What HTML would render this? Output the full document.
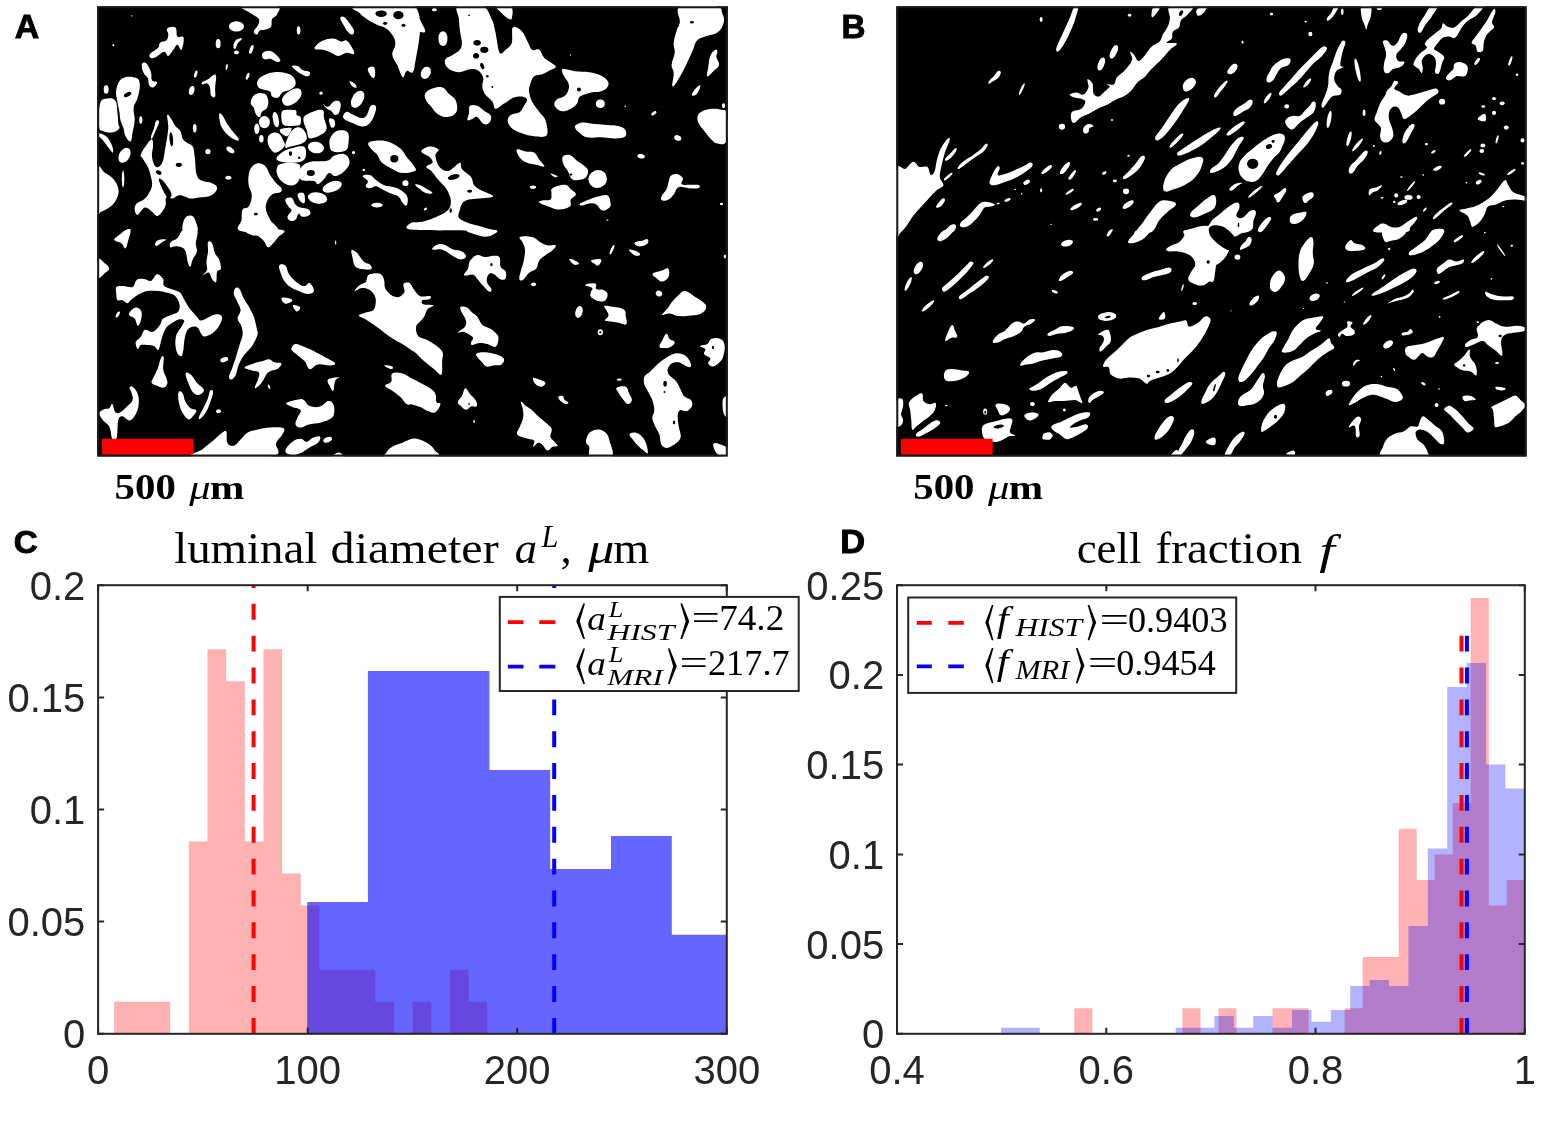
<!DOCTYPE html>
<html lang="en"><head><meta charset="utf-8"><title>Figure</title>
<style>html,body{margin:0;padding:0;background:#fff}body{width:1547px;height:1123px;overflow:hidden}</style></head>
<body>
<svg width="1547" height="1123" viewBox="0 0 1547 1123" style="display:block">
<rect width="1547" height="1123" fill="#fff"/>
<clipPath id="ca"><rect x="97.2" y="6.3" width="630.6" height="450.2"/></clipPath>
<rect x="97.2" y="6.3" width="630.6" height="450.2" fill="#000"/>
<g clip-path="url(#ca)">
<g fill="#fff"><path d="M167.3 28.4C168.7 27 173.4 25.8 175.4 27.4C177.4 29 175.8 34.5 177.4 36.5C179.1 38.6 182.7 34.9 183.5 37.6C184.4 40.2 182.7 48.4 181.5 49.8C180.3 51.2 179.1 44.7 177.4 44.7C175.8 44.7 175.2 47.5 173.4 49.8C171.5 52 170.1 55.5 168.3 55.9C166.4 56.3 166.6 51.6 164.2 51.8C161.8 52 158.7 55.7 156.1 56.9C153.4 58.1 152.2 58.5 151 57.9C149.7 57.3 148.5 55.9 149.9 53.9C151.4 51.8 156.1 50 158.1 47.7C160.1 45.5 158.5 44.1 160.1 42.7C161.8 41.2 164.6 42.2 166.2 40.6C167.9 39 168.1 37 168.3 34.5C168.5 32.1 165.8 29.8 167.3 28.4Z"/><path d="M142.8 63C143.8 62.4 145.3 62.2 146.9 64C148.5 65.9 149.9 68.9 151 72.2C152 75.4 150.8 78.3 152 80.3C153.2 82.4 156.9 80.9 157.1 82.4C157.3 83.8 154.6 87 153 87.4C151.4 87.9 149.9 86.2 148.9 84.4C147.9 82.6 148.9 80.5 147.9 78.3C146.9 76 145.1 75.4 143.8 73.2C142.6 71 142 69.1 141.8 67.1C141.6 65.1 141.8 63.6 142.8 63Z"/><path d="M122.5 78.3C126.3 75.9 132.2 76.5 135.7 77.7C139.2 78.9 139.4 80.4 139.8 84.4C140.2 88.4 138.9 92.9 137.7 97.6C136.5 102.3 134.3 103.3 133.7 107.8C133 112.3 134.9 115.1 134.7 120C134.5 124.9 133.4 128 132.6 132.2C131.8 136.5 132 140.6 130.6 141.4C129.2 142.2 126.9 139 125.5 136.3C124.1 133.7 124.5 131.4 123.5 128.2C122.5 124.9 121.2 123.3 120.4 120C119.6 116.8 120 115.5 119.4 111.9C118.8 108.2 118 106.2 117.4 101.7C116.8 97.2 115.3 94.2 116.3 89.5C117.4 84.8 118.6 80.6 122.5 78.3Z"/><path d="M100.1 103.7C101.7 98.2 104.1 99.3 107.2 98.6C110.2 98 113.3 98 115.3 100.7C117.4 103.3 116.8 107.2 117.4 111.9C118 116.6 118 120.8 118.4 124.1C118.8 127.4 120.4 126.5 119.4 128.2C118.4 129.8 116.5 131.6 113.3 132.2C110 132.9 106 132.5 103.1 131.2C100.3 130 99.6 131.6 99 126.1C98.4 120.6 98.4 109.2 100.1 103.7Z"/><path d="M103.7 89.5A2.4 4.1 0 1 0 108.6 89.5A2.4 4.1 0 1 0 103.7 89.5Z"/><path d="M97 168.9C98.6 161.2 101.9 170.9 105.1 173C108.4 175 110.6 175.8 113.3 179.1C115.9 182.3 117.8 185.2 118.4 189.3C119 193.3 118.2 195.8 116.3 199.4C114.5 203.1 112.3 205.1 109.2 207.6C106.2 210 103.5 210.8 101.1 211.7C98.6 212.5 97.8 220.2 97 211.7C96.2 203.1 95.4 176.6 97 168.9Z"/><path d="M99 133.3C100.7 133.5 104.5 134.7 107.2 137.3C109.8 140 111.1 143.4 112.3 146.5C113.4 149.6 113.5 152.2 112.9 152.6C112.3 153 111.2 151 109.2 148.5C107.3 146.1 105.1 142.8 103.1 140.4C101.1 137.9 99.9 137.7 99 136.3C98.2 134.9 97.4 133.1 99 133.3Z"/><path d="M119.9 152.6A5.3 8.1 30 1 0 129.1 157.9A5.3 8.1 30 1 0 119.9 152.6Z"/><path d="M167.3 114.9C167.9 113.5 169.7 116.8 171.3 119C173 121.3 173.6 123.7 175.4 126.1C177.2 128.6 179.1 128.8 180.5 131.2C181.9 133.7 181.3 136.1 182.5 138.4C183.7 140.6 184.6 140.8 186.6 142.4C188.6 144.1 191.1 143.7 192.7 146.5C194.3 149.4 193.9 151 194.7 156.7C195.6 162.4 195.1 170.1 196.8 175C198.4 179.9 199.8 179.5 202.9 181.1C205.9 182.7 209.2 181.7 212 183.2C214.9 184.6 217.3 185.8 217.1 188.2C216.9 190.7 214.7 193.5 211 195.4C207.4 197.2 202.9 196.8 198.8 197.4C194.7 198 193.5 198.6 190.7 198.4C187.8 198.2 187 197 184.6 196.4C182.1 195.8 180.9 195 178.4 195.4C176 195.8 174.8 198 172.3 198.4C169.9 198.8 167.7 195.8 166.2 197.4C164.8 199 166.8 202.9 165.2 206.6C163.6 210.2 160.7 214.7 158.1 215.7C155.4 216.8 154.6 213.3 152 211.7C149.3 210 147.7 207 144.9 207.6C142 208.2 139.8 214.3 137.7 214.7C135.7 215.1 134.9 211.9 134.7 209.6C134.5 207.4 134.9 205.6 136.7 203.5C138.5 201.5 141.4 201.5 143.8 199.4C146.3 197.4 147.3 196.2 148.9 193.3C150.6 190.5 151.6 188.4 152 185.2C152.4 181.9 151.8 180.7 151 177C150.1 173.4 149.5 170.5 147.9 166.9C146.3 163.2 144.2 161.2 142.8 158.7C141.4 156.3 140 157.5 140.8 154.6C141.6 151.8 144.6 147.5 146.9 144.5C149.1 141.4 150.8 139 152 139.4C153.2 139.8 153 143 153 146.5C153 150 151.4 152.6 152 156.7C152.6 160.8 154 165.6 156.1 166.9C158.1 168.1 160.3 166.5 162.2 162.8C164 159.1 164.2 153.8 165.2 148.5C166.2 143.2 166.6 140.8 167.3 136.3C167.9 131.8 168.3 130.4 168.3 126.1C168.3 121.9 166.6 116.4 167.3 114.9Z"/><path d="M156.1 121C157.1 119.8 159.3 119.8 159.1 122.1C158.9 124.3 156.5 129 155 132.2C153.6 135.5 152.8 137.5 152 138.4C151.2 139.2 150.6 138.4 151 136.3C151.4 134.3 153 131.2 154 128.2C155 125.1 155 122.3 156.1 121Z"/><path d="M201.9 82.4C202.9 81.3 205.7 80.7 208 79.3C210.2 77.9 211.4 75.8 213.1 75.2C214.7 74.6 215.7 73.8 216.1 76.3C216.5 78.7 215.3 83.4 215.1 87.4C214.9 91.5 215.9 95 215.1 96.6C214.3 98.2 212 97.4 211 95.6C210 93.8 210.8 89.9 210 87.4C209.2 85 208.4 84 207 83.4C205.5 82.8 203.9 84.6 202.9 84.4C201.9 84.2 200.8 83.4 201.9 82.4Z"/><path d="M189.1 89.8A2.6 4.5 15 1 0 194.2 91.2A2.6 4.5 15 1 0 189.1 89.8Z"/><path d="M194.4 73.8A1.4 3.7 15 1 0 197.1 74.6A1.4 3.7 15 1 0 194.4 73.8Z"/><path d="M215.7 43.7A2.4 4.5 0 1 0 220.6 43.7A2.4 4.5 0 1 0 215.7 43.7Z"/><path d="M139.2 120A1.6 3.7 0 1 0 142.4 120A1.6 3.7 0 1 0 139.2 120Z"/><path d="M192.9 128.2A1.8 4.1 0 1 0 196.6 128.2A1.8 4.1 0 1 0 192.9 128.2Z"/><path d="M205.3 151.6A2.6 2.6 0 1 0 210.6 151.6A2.6 2.6 0 1 0 205.3 151.6Z"/><path d="M226.7 147.4A4.5 2.2 35 1 0 234 152.5A4.5 2.2 35 1 0 226.7 147.4Z"/><path d="M225.3 177.7A3.1 1.6 0 1 0 231.4 177.7A3.1 1.6 0 1 0 225.3 177.7Z"/><path d="M228.9 26.4A7.5 5.1 0 1 0 244 26.4A7.5 5.1 0 1 0 228.9 26.4Z"/><path d="M242.6 6C248.1 4.8 269.3 4.4 276.2 6C283.1 7.6 278 11.5 277.2 14.1C276.4 16.8 273.3 16.8 272.1 19.2C270.9 21.7 272.3 24.3 271.1 26.4C269.9 28.4 268.2 28.6 266 29.4C263.8 30.2 261.7 29.4 259.9 30.4C258.1 31.5 258.1 34.3 256.8 34.5C255.6 34.7 253.6 33.3 253.8 31.5C254 29.6 256.8 27.8 257.9 25.3C258.9 22.9 259.7 21.3 258.9 19.2C258.1 17.2 255.8 16.6 253.8 15.2C251.8 13.7 250.9 13.9 248.7 12.1C246.5 10.3 237.1 7.2 242.6 6Z"/><path d="M233.4 46.7C233.4 45.1 234 42.3 235.5 40.6C236.9 38.9 239.3 38.4 240.6 38.2C241.8 38 242.2 38.5 241.6 39.6C241 40.7 238.7 41.8 237.5 43.7C236.3 45.5 236.3 48.2 235.5 48.8C234.7 49.4 233.4 48.4 233.4 46.7Z"/><path d="M234 52.4A2.4 1.8 0 1 0 238.9 52.4A2.4 1.8 0 1 0 234 52.4Z"/><path d="M249.8 48.8A1.6 4.5 20 1 0 252.9 49.9A1.6 4.5 20 1 0 249.8 48.8Z"/><path d="M263 52.8C264.3 51.6 266.6 50.6 269.1 50.8C271.5 51 272.9 52 275.2 53.9C277.4 55.7 279.9 58.3 280.3 60C280.7 61.6 279 62.2 277.2 62C275.4 61.8 273.5 59.5 271.1 58.9C268.7 58.4 266.7 59.8 265 59.3C263.2 58.9 262.8 58.2 262.3 56.9C261.9 55.6 261.6 54.1 263 52.8Z"/><path d="M356.6 6C367.6 4.6 403 -6 414.7 6C426.3 18 416.3 53 414.7 66.1C413 79.1 408.7 68.9 406.5 71.2C404.3 73.4 404.7 76.9 403.5 77.3C402.2 77.7 401.6 75.6 400.4 73.2C399.2 70.8 399 68.7 397.3 65.1C395.7 61.4 392.7 58.9 392.3 54.9C391.8 50.8 395.1 48.4 395.3 44.7C395.5 41 395.1 39.8 393.3 36.5C391.4 33.3 389.6 30.8 386.1 28.4C382.7 26 380 26.4 376 24.3C371.9 22.3 369 20.5 365.8 18.2C362.5 16 361.5 15.6 359.7 13.1C357.8 10.7 345.6 7.4 356.6 6Z"/><path d="M340.3 18.2C340.3 16.4 342.6 16.2 344.4 17.2C346.2 18.2 347.6 20.7 349.5 23.3C351.4 26 353.4 28.2 354 30.4C354.6 32.7 353.6 34.1 352.5 34.5C351.4 34.9 350.1 34.1 348.5 32.5C346.8 30.8 346 29.2 344.4 26.4C342.8 23.5 340.3 20.1 340.3 18.2Z"/><path d="M296.8 30.4A1.8 4.1 0 1 0 300.4 30.4A1.8 4.1 0 1 0 296.8 30.4Z"/><path d="M315.9 45.7C317.4 44 319.6 42 323 40.6C326.5 39.2 329.5 38.4 333.2 38.6C336.9 38.8 338.7 41.2 341.3 41.6C344 42 344.4 39.6 346.4 40.6C348.5 41.6 350 44.1 351.5 46.7C353 49.4 355 52.6 354 53.9C353 55.1 349.6 52.4 346.4 52.8C343.3 53.2 341.3 55.9 338.3 55.9C335.2 55.9 334.2 54.1 331.2 52.8C328.1 51.6 326.2 50.5 323 49.8C319.8 49 316.7 50 315.3 49.2C313.9 48.4 314.3 47.4 315.9 45.7Z"/><path d="M292.1 66.1C292.5 65.3 295.5 65.3 297.6 66.1C299.7 66.9 300.2 68.9 302.7 70.1C305.1 71.4 308.8 71 309.8 72.2C310.8 73.4 309.4 75.8 307.8 76.3C306.1 76.7 304.1 75.4 301.6 74.2C299.2 73 297.4 71.8 295.5 70.1C293.6 68.5 291.7 66.9 292.1 66.1Z"/><path d="M367.8 69.1C368.2 67.1 372.5 65.7 373.9 67.1C375.4 68.5 375.4 74.2 374.9 76.3C374.5 78.3 373.3 78.7 371.9 77.3C370.5 75.8 367.4 71.2 367.8 69.1Z"/><path d="M349.5 81.3C349.9 80.7 353.2 82.2 354.6 83.4C356 84.6 357 86.8 356.6 87.4C356.2 88.1 354 87.7 352.5 86.4C351.1 85.2 349.1 82 349.5 81.3Z"/><path d="M352.9 96.5A5.5 8.8 30 1 0 362.4 102A5.5 8.8 30 1 0 352.9 96.5Z"/><path d="M370.9 105.8C372.7 104.1 375.4 104.8 376 106.8C376.6 108.8 375.4 112.5 373.9 116C372.5 119.4 371.3 122 368.8 124.1C366.4 126.2 365 126.7 361.7 126.5C358.5 126.3 356.2 124.8 352.5 123.1C348.9 121.4 344.6 120.2 343.4 118C342.2 115.8 344.4 112.5 346.4 111.9C348.5 111.3 350.5 113.7 353.6 114.9C356.6 116.2 359.1 118 361.7 118C364.4 118 365 117.4 366.8 114.9C368.6 112.5 369 107.4 370.9 105.8Z"/><path d="M323 103.7C323.2 103.3 325.9 107.3 328.1 106.8C330.4 106.3 331.8 102.1 334.2 101.3C336.7 100.5 339.3 100.6 340.3 102.7C341.3 104.8 340.3 109.4 339.3 111.9C338.3 114.3 336.9 115.1 335.2 114.9C333.6 114.7 332.8 112.1 331.2 110.9C329.5 109.6 328.7 110.3 327.1 108.8C325.5 107.4 322.8 104.1 323 103.7Z"/><path d="M329.1 119C329.7 117.6 333.1 118.6 334.2 120C335.4 121.5 335.4 124.7 334.8 126.1C334.2 127.6 332.3 128.6 331.2 127.2C330 125.7 328.5 120.4 329.1 119Z"/><path d="M257.9 80.3C259.1 78.1 260.7 76.9 264 75.2C267.2 73.6 269.7 72.6 274.2 72.2C278.6 71.8 282.5 72.2 286.4 73.2C290.2 74.2 291.7 75 293.5 77.3C295.3 79.5 296.1 82 295.5 84.4C294.9 86.8 293.1 87.9 290.4 89.5C287.8 91.1 284.7 90.9 282.3 92.5C279.9 94.2 280.3 96.8 278.2 97.6C276.2 98.4 273.7 97.8 272.1 96.6C270.5 95.4 271.9 92.9 270.1 91.5C268.2 90.1 265.4 90.5 263 89.5C260.5 88.5 258.9 88.3 257.9 86.4C256.8 84.6 256.6 82.6 257.9 80.3Z"/><path d="M283.3 96.6C284.9 94.2 287.4 92.1 290.4 90.5C293.5 88.9 296.3 87.9 298.6 88.5C300.8 89.1 301.8 91.1 301.6 93.6C301.4 96 300.2 98.2 297.6 100.7C294.9 103.1 291.4 105.4 288.4 105.8C285.4 106.2 283.7 104.6 282.7 102.7C281.7 100.9 281.8 99.1 283.3 96.6Z"/><path d="M254.8 94.6C257.5 92.7 261.3 92.5 264 93.6C266.6 94.6 267.4 96.8 268 99.7C268.7 102.5 268.2 105.4 267 107.8C265.8 110.3 263.4 110.1 261.9 111.9C260.5 113.7 261.1 116.6 259.9 117C258.7 117.4 257 115.8 255.8 113.9C254.6 112.1 254.8 110.1 253.8 107.8C252.8 105.6 250.5 105.4 250.7 102.7C250.9 100.1 252.2 96.4 254.8 94.6Z"/><path d="M258.9 122.1A5.5 6.1 0 1 0 269.9 122.1A5.5 6.1 0 1 0 258.9 122.1Z"/><path d="M273 120.1A2.9 6.5 -10 1 0 278.6 119.1A2.9 6.5 -10 1 0 273 120.1Z"/><path d="M254.2 128.8A2.6 5.1 0 1 0 259.5 128.8A2.6 5.1 0 1 0 254.2 128.8Z"/><path d="M282.3 110.9C284.1 109.3 293.6 109.7 295.5 110.3C297.4 110.8 295.9 114 296.6 114.9C297.2 115.8 300.2 115.6 300.6 117C301 118.3 301.6 124 299.6 125.1C297.6 126.3 287.7 126.1 285.4 125.7C283 125.3 282.3 124 281.9 122.1C281.5 120.1 280.5 112.4 282.3 110.9Z"/><path d="M304.7 116C306.6 114.1 311.8 111.8 314.9 110.9C317.9 109.9 321.5 109.1 323 110.3C324.6 111.4 323.4 115 324 118C324.7 121 327 125.5 326.7 128.2C326.3 130.9 324.8 132.6 322 134.3C319.2 136 312.3 139 309.8 138.4C307.2 137.7 307.8 132.9 306.7 130.2C305.7 127.5 304 124.4 303.7 122.1C303.3 119.7 302.8 117.8 304.7 116Z"/><path d="M280.3 129.2C281.6 128.5 290.5 127.2 291.5 128.2C292.4 129.1 288.7 135.6 287.4 136.3C286 137 282.2 134.2 281.3 133.3C280.3 132.3 278.9 129.9 280.3 129.2Z"/><path d="M293.5 129.2C296.3 127.2 299 126.7 301.6 128.2C304.3 129.6 306.3 133.5 306.7 136.3C307.1 139.2 306.9 140.4 303.7 142.4C300.4 144.5 294.1 145.5 290.4 146.5C286.8 147.5 286 149.1 285.4 147.5C284.7 145.9 285.8 142 287.4 138.4C289 134.7 290.6 131.2 293.5 129.2Z"/><path d="M270.1 134.3C272.2 132.7 275.6 132 278.2 133.3C280.9 134.5 282.1 137.7 283.3 140.4C284.5 143 285.8 144.1 284.3 146.5C282.9 148.9 278.8 152 276.2 152.6C273.5 153.2 272.8 151.8 271.1 149.6C269.4 147.3 267.8 144.5 267.6 141.4C267.4 138.4 268 135.9 270.1 134.3Z"/><path d="M259.1 138.8A2.2 3.7 0 1 0 263.6 138.8A2.2 3.7 0 1 0 259.1 138.8Z"/><path d="M307.9 146.1A8.1 5.7 10 1 0 323.9 148.9A8.1 5.7 10 1 0 307.9 146.1Z"/><path d="M331.2 136.3C332.9 133.6 335 131.4 338.3 130.6C341.6 129.8 345.4 129.9 347.5 132.2C349.5 134.6 348.9 138.8 348.5 142.4C348.1 146.1 348.5 148.7 345.4 150.6C342.4 152.4 336.4 152.8 333.2 151.6C330 150.4 329.9 147.5 329.5 144.5C329.1 141.4 329.4 139.1 331.2 136.3Z"/><path d="M277.2 156.7C278.7 154.8 283 151.3 287.4 149.6C291.8 147.9 300.6 145.3 303.7 146.5C306.7 147.7 306.2 154.1 305.7 156.7C305.2 159.2 303.5 160.8 300.6 161.8C297.7 162.8 292.1 163 288.4 162.8C284.7 162.6 280.1 161.8 278.2 160.8C276.4 159.7 275.7 158.5 277.2 156.7Z"/><path d="M277.2 166.9C278.5 164.3 280.3 163.8 284.3 163.2C288.4 162.6 294.3 162.7 297.6 163.8C300.8 164.9 300.2 165.8 300.6 168.9C301 172 301 175.8 299.6 179.1C298.2 182.3 296.6 184.4 293.5 185.2C290.4 186 287.5 185 284.3 183.2C281.2 181.3 279.2 179.3 277.8 176C276.4 172.8 275.9 169.4 277.2 166.9Z"/><path d="M301.6 166.9C303.8 164.6 305.7 163 310.8 161.8C315.9 160.6 322.4 162 327.1 160.8C331.8 159.5 330.8 157 334.2 155.7C337.7 154.4 341.3 153.2 344.4 154.2C347.5 155.3 349.1 157.8 349.5 160.8C349.9 163.7 349.1 165.8 346.4 168.9C343.8 172 339.7 175.2 336.3 176C332.8 176.8 331.6 172.4 329.1 173C326.7 173.6 326.3 176.8 324 179.1C321.8 181.3 320 183.8 317.9 184.2C315.9 184.6 317.1 181.9 313.9 181.1C310.6 180.3 304.4 181.7 301.6 180.1C298.9 178.5 300.2 175.6 300.2 173C300.2 170.3 299.5 169.1 301.6 166.9Z"/><path d="M322.6 190.3A10.2 5.1 -20 1 0 341.8 183.3A10.2 5.1 -20 1 0 322.6 190.3Z"/><path d="M307.9 196.3A9.8 5.5 10 1 0 327.2 199.7A9.8 5.5 10 1 0 307.9 196.3Z"/><path d="M297.6 194.4C298.2 192.7 302.3 191.7 303.7 193.3C305.1 195 305.3 200.9 304.7 202.5C304.1 204.1 302 203.1 300.6 201.5C299.2 199.9 297 196 297.6 194.4Z"/><path d="M285.4 199.4C286 197.7 289.4 196.8 291.5 197.8C293.5 198.8 293.7 202.6 295.5 204.5C297.4 206.5 298 206.6 300.6 207.6C303.3 208.6 306.9 208.2 308.8 209.6C310.6 211 311 213.3 309.8 214.7C308.6 216.1 304.9 217 302.7 216.8C300.4 216.5 300 213.1 298.6 213.7C297.2 214.3 297.2 218.4 295.5 219.8C293.9 221.2 292.1 221.4 290.4 220.8C288.8 220.2 287.2 218.8 287.4 216.8C287.6 214.7 291.3 212.7 291.5 210.6C291.7 208.6 289.6 208.8 288.4 206.6C287.2 204.3 284.7 201.2 285.4 199.4Z"/><path d="M251.8 166.9C253.8 164.5 256 163.2 258.9 163.2C261.7 163.2 263.8 164.5 266 166.9C268.2 169.2 268 171.8 270.1 175C272.1 178.3 273.9 180.5 276.2 183.2C278.4 185.8 280.5 186.4 281.3 188.2C282.1 190.1 282.1 191.1 280.3 192.3C278.4 193.5 274.8 192.5 272.1 194.4C269.5 196.2 268.2 198.4 267 201.5C265.8 204.5 265.4 206 266 209.6C266.6 213.3 268 215.5 270.1 219.8C272.1 224.1 282.1 228.8 276.2 231C270.3 233.2 247.5 233.2 240.6 231C233.6 228.8 241.2 224.1 241.6 219.8C242 215.5 241.2 212.3 242.6 209.6C244 207 246.9 209.4 248.7 206.6C250.5 203.7 251.8 199.6 251.8 195.4C251.8 191.1 249.3 189.3 248.7 185.2C248.1 181.1 248.1 178.7 248.7 175C249.3 171.3 249.7 169.2 251.8 166.9Z"/><path d="M219.2 113.9C219.7 112.7 220.6 112.9 222.2 114.9C223.9 117 225.1 120.6 227.3 124.1C229.6 127.6 231.2 129.4 233.4 132.2C235.7 135.1 237.8 136.7 238.5 138.4C239.3 140 238.9 140.8 237.1 140.4C235.3 140 232.3 138.8 229.4 136.3C226.4 133.9 224.1 131.2 222.2 128.2C220.3 125.1 220.4 123.9 219.8 121C219.2 118.2 218.7 115.1 219.2 113.9Z"/><path d="M368.8 142.4C370.7 140.8 375.8 140.4 380 140.4C384.3 140.4 386.1 140.8 390.2 142.4C394.3 144.1 397.1 145.7 400.4 148.5C403.7 151.4 403.7 153 406.5 156.7C409.4 160.3 413 164 414.7 166.9C416.3 169.7 417.1 169.7 414.7 170.9C412.2 172.2 406.9 173.4 402.4 173C398 172.6 396.3 170.9 392.3 168.9C388.2 166.9 385.1 165.6 382.1 162.8C379 159.9 379.2 157.5 377 154.6C374.7 151.8 372.5 151 370.9 148.5C369.2 146.1 367 144.1 368.8 142.4Z"/><path d="M362.7 176C363.1 174.8 367.2 174.2 369.9 175C372.5 175.8 373.1 178.1 376 180.1C378.8 182.1 380.4 183.8 384.1 185.2C387.8 186.6 390.6 186 394.3 187.2C398 188.4 399.8 189.3 402.4 191.3C405.1 193.3 406.7 194.6 407.5 197.4C408.3 200.3 407.5 204.5 406.5 205.6C405.5 206.6 404.1 204.3 402.4 202.5C400.8 200.7 400.8 198.2 398.4 196.4C395.9 194.6 393.5 194.8 390.2 193.3C387 191.9 384.9 190.7 382.1 189.3C379.2 187.8 378.4 186.4 376 186.2C373.5 186 371.9 188.2 369.9 188.2C367.8 188.2 366.2 187.6 365.8 186.2C365.4 184.8 368.4 183.2 367.8 181.1C367.2 179.1 362.3 177.2 362.7 176Z"/><path d="M371.3 205.1A5.7 2.4 0 1 0 382.7 205.1A5.7 2.4 0 1 0 371.3 205.1Z"/><path d="M184.6 218.8C186.2 215.5 189.4 215.1 191.7 215.7C193.9 216.3 194.7 218.6 195.8 221.8C196.8 225.1 199.2 230 196.8 232C194.3 234.1 186 234.7 183.5 232C181.1 229.4 182.9 222 184.6 218.8Z"/><path d="M351.9 152.6A1.6 1.6 0 1 0 355.2 152.6A1.6 1.6 0 1 0 351.9 152.6Z"/><path d="M319.4 93.2A1.6 1.6 0 1 0 322.6 93.2A1.6 1.6 0 1 0 319.4 93.2Z"/><path d="M121.8 179.1A1.2 8.1 0 1 0 124.3 179.1A1.2 8.1 0 1 0 121.8 179.1Z"/><path d="M362.5 169.9A1.2 1.2 0 1 0 365 169.9A1.2 1.2 0 1 0 362.5 169.9Z"/><path d="M112.3 45.3A1 1 0 1 0 114.3 45.3A1 1 0 1 0 112.3 45.3Z"/><path d="M402.4 183.2A3.1 2.4 0 1 0 408.5 183.2A3.1 2.4 0 1 0 402.4 183.2Z"/><path d="M246.3 75.8A1.4 3.7 20 1 0 249 76.7A1.4 3.7 20 1 0 246.3 75.8Z"/><path d="M225.7 66.9A1 3.1 10 1 0 227.7 67.3A1 3.1 10 1 0 225.7 66.9Z"/><path d="M130.8 15.8A0.8 0.6 0 1 0 132.4 15.8A0.8 0.6 0 1 0 130.8 15.8Z"/><path d="M411 13.1C412.4 10.7 415.9 15 418.1 17.2C420.3 19.4 420.8 21.5 422.2 24.3C423.6 27.2 425.6 29.9 425.2 31.5C424.8 33 423 32.5 420.1 32.1C417.3 31.7 412.8 33.2 411 29.4C409.1 25.6 409.6 15.6 411 13.1Z"/><path d="M432 9.7A2.4 1.6 0 1 0 436.8 9.7A2.4 1.6 0 1 0 432 9.7Z"/><path d="M438.5 38.6A4.5 6.5 0 1 0 447.4 38.6A4.5 6.5 0 1 0 438.5 38.6Z"/><path d="M457.8 6C461.7 4 476.7 4 482.3 6C487.9 8 489.2 13.8 491.4 18.2C493.6 22.6 494.1 26.7 495.5 32.5C496.8 38.2 497.9 49.9 499.6 52.8C501.3 55.7 503.6 51.5 505.7 49.8C507.7 48.1 510.6 46.4 511.8 42.7C513 38.9 511.1 29.2 512.8 27.4C514.5 25.5 519.4 28.9 522 31.5C524.5 34 526.4 39.6 528.1 42.7C529.8 45.7 530.3 48.6 532.1 49.8C534 51 537.2 48.4 539.3 49.8C541.3 51.1 541.6 55.2 544.4 57.9C547.1 60.6 554.5 64 555.6 66.1C556.6 68.1 552.7 68.8 550.5 70.1C548.3 71.5 545 73.2 542.3 74.2C539.6 75.2 536.2 74.6 534.2 76.3C532.1 77.9 531 81.9 530.1 84.4C529.3 86.9 528.7 88.6 529.1 91.5C529.4 94.4 530.4 98.3 532.1 101.7C533.8 105.1 537.1 108.8 539.3 111.9C541.5 114.9 544.1 116.1 545.4 120C546.6 123.9 548.7 132.6 546.8 135.3C544.9 138 538.3 136.7 534.2 136.3C530 136 525.7 134.6 522 133.3C518.2 131.9 514.2 130.2 511.8 128.2C509.4 126.1 507.9 123.3 507.7 121C507.5 118.8 508.7 116.5 510.8 114.9C512.8 113.4 517.7 113.4 519.9 111.9C522.1 110.4 522.8 107.8 524 105.8C525.2 103.7 527.4 101.2 527 99.7C526.7 98.1 524.2 97 522 96.6C519.8 96.3 516.9 96.4 513.8 97.6C510.8 98.8 506.7 101.9 503.6 103.7C500.6 105.6 497.4 109.2 495.5 108.8C493.6 108.5 494.1 104.1 492.4 101.7C490.7 99.3 487 97.1 485.3 94.6C483.6 92 482.6 89.1 482.3 86.4C481.9 83.7 483.8 80.8 483.3 78.3C482.8 75.7 481.2 72.7 479.2 71.2C477.2 69.6 474.3 69 471.1 69.1C467.8 69.3 463.2 72 459.9 72.2C456.5 72.3 453.1 71.3 450.7 70.1C448.3 69 446.4 66.9 445.6 65.1C444.7 63.2 444.4 60.6 445.6 58.9C446.8 57.2 450.3 56.4 452.7 54.9C455.1 53.3 458.3 51.8 459.9 49.8C461.4 47.7 461.9 45.9 461.9 42.7C461.9 39.4 460.4 34.5 459.9 30.4C459.3 26.4 459.2 22.3 458.8 18.2C458.5 14.1 453.9 8 457.8 6Z"/><path d="M496.5 6C498.3 4.6 507.7 3.6 510.8 6C513.8 8.4 512.4 15.8 511.8 18.2C511.2 20.7 509.7 19.2 507.7 18.2C505.7 17.2 503.8 15.6 501.6 13.1C499.4 10.7 494.7 7.4 496.5 6Z"/><path d="M421.6 70.8A4.7 6.1 25 1 0 430.1 74.8A4.7 6.1 25 1 0 421.6 70.8Z"/><path d="M425.2 93.6C426.5 91.1 428.9 89.7 432.4 88.5C435.8 87.2 439.3 86.4 442.5 87.4C445.8 88.5 446 90.9 448.7 93.6C451.3 96.2 454.2 97 455.8 100.7C457.3 104.4 458 108.6 456.4 111.9C454.8 115.1 451.4 116.6 447.6 117C443.8 117.4 440.7 116 437.5 113.9C434.2 111.9 433.6 109.4 431.3 106.8C429.1 104.1 427.5 103.3 426.3 100.7C425 98 424 96 425.2 93.6Z"/><path d="M470 105.8C471.7 104.4 474.3 104.8 477.2 105.8C480 106.8 481.5 108.8 484.3 110.9C487.1 112.9 490.1 113.5 491 116C491.9 118.4 490.5 121.5 489 123.1C487.4 124.6 485.6 124.9 483.3 123.7C480.9 122.5 479.4 117.9 477.2 117C474.9 116 474 118.4 472.1 119C470.1 119.6 468 121.3 467.4 120C466.8 118.8 468.5 115.8 469 112.9C469.5 110.1 468.4 107.2 470 105.8Z"/><path d="M563.7 69.1C566.2 68.9 569.8 70.5 574.9 71.2C580 71.8 584.1 71.4 589.2 72.2C594.2 73 596.6 73.4 600.4 75.2C604.1 77.1 606.5 78.9 607.9 81.3C609.2 83.8 608.6 85.4 607.1 87.4C605.6 89.5 603.5 90.5 600.4 91.5C597.2 92.5 595.3 91.5 591.2 92.5C587.1 93.6 582.8 94.4 580 96.6C577.1 98.9 579.2 101.1 576.9 103.7C574.7 106.4 572 108.4 568.8 109.8C565.5 111.3 563.5 111.7 560.6 110.9C557.8 110.1 555.4 108 554.5 105.8C553.7 103.5 554.7 101.5 556.6 99.7C558.4 97.8 561.5 98.2 563.7 96.6C565.9 95 566.8 94 567.8 91.5C568.8 89.1 569.4 87.2 568.8 84.4C568.2 81.5 566 79.7 564.7 77.3C563.4 74.8 562.5 73.8 562.3 72.2C562.1 70.5 561.2 69.3 563.7 69.1Z"/><path d="M595.9 103.7A4.5 3.7 0 1 0 604.8 103.7A4.5 3.7 0 1 0 595.9 103.7Z"/><path d="M575.9 125.1C577.5 124 579.2 122.7 583 122.5C586.9 122.3 590.4 123.6 595.3 124.1C600.1 124.6 603 124.7 607.5 125.1C612 125.5 614.2 125.3 617.7 126.1C621.1 127 623.2 127.2 624.8 129.2C626.3 131.2 627.2 134.5 625.4 136.3C623.6 138.2 620.4 138.2 615.6 138.4C610.8 138.6 607.1 137.5 601.4 137.3C595.7 137.1 591.6 138.4 587.1 137.3C582.6 136.3 581.3 134.1 579 132.2C576.6 130.4 575.9 129.6 575.3 128.2C574.7 126.7 574.4 126.3 575.9 125.1Z"/><path d="M680.8 6C687.9 2.7 707.1 4.4 715.4 6C723.7 7.6 720.9 10.7 722.5 14.1C724.2 17.6 724.6 19.6 723.5 23.3C722.5 27 721.1 29.8 717.4 32.5C713.8 35.1 709.3 34.9 705.2 36.5C701.1 38.2 699.5 38 697.1 40.6C694.6 43.3 694.8 45.7 693 49.8C691.2 53.9 690.4 55.9 687.9 61C685.5 66.1 683.8 70.1 680.8 75.2C677.7 80.3 674.1 86.8 672.6 86.4C671.2 86 673.9 77.5 673.7 73.2C673.5 68.9 671.4 69.1 671.6 65.1C671.8 61 674.3 57.3 674.7 52.8C675.1 48.4 673.3 47.1 673.7 42.7C674.1 38.2 675.5 34.5 676.7 30.4C677.9 26.4 679 27.2 679.8 22.3C680.6 17.4 673.7 9.3 680.8 6Z"/><path d="M715.4 49.8C716.8 49 717.2 50.4 717.4 51.8C717.6 53.2 716.1 54.3 716.4 56.9C716.7 59.6 719.7 62.2 719.1 65.1C718.5 67.9 715.7 68.9 713.4 71.2C711 73.4 708.3 77.1 707.3 76.3C706.2 75.4 707.7 71.2 708.3 67.1C708.9 63 708.9 59.3 710.3 55.9C711.7 52.4 714 50.6 715.4 49.8Z"/><path d="M699.1 85.4C700.3 84.8 700.7 85.6 700.1 87.4C699.5 89.3 697.7 93 696.1 94.6C694.4 96.1 692.4 96 692 95.2C691.6 94.4 692.6 92.5 694 90.5C695.4 88.5 697.9 86 699.1 85.4Z"/><path d="M701.1 111.9C703.9 110.3 707.3 109.2 711.3 108.8C715.4 108.4 718.5 108.8 721.5 109.8C724.6 110.9 725.6 107.8 726.6 113.9C727.6 120 728.4 134.5 726.6 140.4C724.8 146.3 720.5 143.7 717.4 143.4C714.4 143.2 713.8 141.6 711.3 139.4C708.9 137.1 707.7 135.3 705.2 132.2C702.8 129.2 700.7 127.2 699.1 124.1C697.6 121 697.1 119.4 697.5 117C697.9 114.5 698.4 113.5 701.1 111.9Z"/><path d="M674.3 136.7A3.7 2.4 20 1 0 681.2 139.2A3.7 2.4 20 1 0 674.3 136.7Z"/><path d="M637.5 155.6A3.7 2 10 1 0 644.7 156.9A3.7 2 10 1 0 637.5 155.6Z"/><path d="M651.6 114.9A2.9 1.2 -35 1 0 656.2 111.7A2.9 1.2 -35 1 0 651.6 114.9Z"/><path d="M624.4 106.2A0.8 0.8 0 1 0 626 106.2A0.8 0.8 0 1 0 624.4 106.2Z"/><path d="M569.8 54.9A0.6 0.6 0 1 0 571 54.9A0.6 0.6 0 1 0 569.8 54.9Z"/><path d="M719.9 203.9A1.6 1.2 0 1 0 723.1 203.9A1.6 1.2 0 1 0 719.9 203.9Z"/><path d="M606.5 220.2A1 0.6 0 1 0 608.5 220.2A1 0.6 0 1 0 606.5 220.2Z"/><path d="M721.9 105.8A1.6 2.4 0 1 0 725.2 105.8A1.6 2.4 0 1 0 721.9 105.8Z"/><path d="M670.6 176C672.2 174.4 674.3 173.6 676.7 174C679.2 174.4 681.8 176 682.8 178.1C683.8 180.1 680.2 182.8 681.8 184.2C683.4 185.5 687.5 184.6 691 184.8C694.4 185 697.7 184.5 699.1 185.2C700.5 185.9 700.1 187.6 698.1 188.2C696.1 188.9 692.8 188.4 688.9 188.2C685.1 188 681.8 186 678.7 187.2C675.7 188.4 675.7 191.9 673.7 194.4C671.6 196.8 670.8 198.2 668.6 199.4C666.3 200.7 663.9 201.1 662.5 200.5C661 199.9 660.6 198.6 661.4 196.4C662.3 194.1 665.1 192.1 666.5 189.3C668 186.4 667.8 184.8 668.6 182.1C669.4 179.5 669 177.7 670.6 176Z"/><path d="M516.9 149.6C518.1 148.3 522.6 151 526 151.6C529.5 152.2 531.5 151 534.2 152.6C536.8 154.2 537.2 157 539.3 159.7C541.3 162.5 545 165.4 544.4 166.5C543.7 167.5 539.7 165.6 536.2 164.8C532.7 164.1 530.3 164.2 527 162.8C523.8 161.4 522 160.3 519.9 157.7C517.9 155.1 515.6 150.8 516.9 149.6Z"/><path d="M562.7 156.7C563.9 154.7 567 154.2 569.8 155.1C572.7 155.9 574.1 158.6 576.9 160.8C579.8 162.9 581.8 163.8 584.1 165.8C586.3 167.9 587.9 168.5 588.1 170.9C588.3 173.4 587.1 176.2 585.1 178.1C583 179.9 580.6 179.9 578 180.1C575.3 180.3 573.9 180.9 571.8 179.1C569.8 177.2 569.4 173.8 567.8 170.9C566.1 168.1 564.7 167.7 563.7 164.8C562.7 162 561.5 158.6 562.7 156.7Z"/><path d="M589.1 182.2A9.2 8.1 -20 1 0 606.3 175.9A9.2 8.1 -20 1 0 589.1 182.2Z"/><path d="M550.5 173.4C551.1 173.2 556.8 175.3 557.6 176C558.4 176.8 556 177.6 554.5 177C553.1 176.5 549.9 173.6 550.5 173.4Z"/><path d="M529.9 187.2A3.1 1.4 0 1 0 536 187.2A3.1 1.4 0 1 0 529.9 187.2Z"/><path d="M552.5 188.2C555.1 186.5 561.1 184.6 564.7 184.8C568.4 185 568.6 187.3 570.8 189.3C573.1 191.2 575.9 192.3 575.9 194.4C575.9 196.4 572 197 570.8 199.4C569.6 201.9 572.3 204.5 569.8 206.6C567.4 208.6 562.9 209.6 558.6 209.6C554.3 209.6 552.3 208 548.4 206.6C544.6 205.1 540.5 203.7 539.3 202.5C538 201.3 540.1 201.1 542.3 200.5C544.6 199.9 548.6 200.9 550.5 199.4C552.3 198 551.1 195.6 551.5 193.3C551.9 191.1 549.9 190 552.5 188.2Z"/><path d="M580 203.5C581.4 202.3 585.5 200.9 589.2 199.4C592.8 198 594.7 197.2 598.3 196.4C602 195.6 605 194.1 607.5 195.4C609.9 196.6 610.1 200.1 610.5 202.5C610.9 204.9 611.1 206 609.5 207.6C607.9 209.2 605 211.3 602.4 210.6C599.7 210 598.9 206 596.3 204.5C593.6 203.1 592 203.3 589.2 203.5C586.3 203.7 583.9 205.6 582 205.6C580.2 205.6 578.6 204.7 580 203.5Z"/><path d="M421.2 151.6C421 149.7 426.4 146.8 429.3 146.5C432.2 146.2 437.5 148 438.5 149.6C439.5 151.1 435.2 152.8 435.4 155.7C435.6 158.5 437.3 164.3 439.5 166.9C441.7 169.4 445.3 171.6 448.7 170.9C452 170.3 457.6 163.1 459.9 162.8C462.1 162.5 460 166.5 461.9 168.9C463.8 171.3 469 174.3 471.1 177C473.1 179.8 472.4 183 474.1 185.2C475.8 187.4 478.2 188.6 481.2 190.3C484.3 192 490.9 194.2 492.4 195.4C494 196.6 492.6 196.9 490.4 197.4C488.2 197.9 482.8 198.1 479.2 198.4C475.6 198.8 471.7 198.8 469 199.4C466.3 200.1 464.4 200.8 462.9 202.5C461.4 204.2 460.5 207.1 459.9 209.6C459.2 212.2 457.5 215.6 458.8 217.8C460.2 220 464.6 221.5 468 222.9C471.4 224.2 475 224.6 479.2 225.9C483.4 227.3 495.8 230.3 493.4 231C491.1 231.8 478.7 230.6 464.9 230.4C451.2 230.2 420 230.8 411 229.6C402 228.3 409.1 224.1 411 222.9C412.8 221.6 418.3 222.7 422.2 221.8C426.1 221 430.7 219.3 434.4 217.8C438.1 216.2 442 214.4 444.6 212.7C447.1 211 448.7 209.8 449.7 207.6C450.7 205.4 451.2 202.5 450.7 199.4C450.2 196.4 448.7 192.5 446.6 189.3C444.6 186 441 183.2 438.5 180.1C435.9 177 433.4 173.1 431.3 170.9C429.3 168.7 426.1 168.2 426.3 166.9C426.4 165.5 431.7 164.3 432.4 162.8C433 161.3 432.2 159.6 430.3 157.7C428.5 155.8 421.3 153.5 421.2 151.6Z"/><path d="M415.1 184.8C415.1 184 417.7 184.3 420.1 185.2C422.6 186.1 424.8 187.7 427.3 189.3C429.7 190.8 432.6 192.1 432.4 192.9C432.2 193.7 428.7 194.1 426.3 193.3C423.8 192.6 422.4 191 420.1 189.3C417.9 187.6 415.1 185.6 415.1 184.8Z"/><path d="M423.9 209.9A1.8 1 -30 1 0 427 208.1A1.8 1 -30 1 0 423.9 209.9Z"/><path d="M114.3 239.1C115.1 237.7 118.2 235.9 120.4 234.1C122.7 232.2 123.5 230.8 125.5 230C127.5 229.2 130 228.1 130.6 230C131.2 231.8 129.6 235.5 128.6 239.1C127.5 242.8 126.9 247.5 125.5 248.3C124.1 249.1 123.3 244.6 121.4 243.2C119.6 241.8 117.8 242 116.3 241.2C114.9 240.4 113.5 240.6 114.3 239.1Z"/><path d="M155 244.2C155.2 243.1 155.8 241.1 158.1 240.2C160.3 239.2 165.4 239.1 166.2 239.6C167 240 164 241 162.2 242.2C160.3 243.4 158.5 245.3 157.1 245.7C155.6 246.1 154.8 245.3 155 244.2Z"/><path d="M183.5 230C187.4 228.4 194.3 227.3 196.8 230C199.2 232.6 195.8 238.9 195.8 243.2C195.8 247.5 197.4 248.1 196.8 251.4C196.2 254.6 194 256.5 192.7 259.5C191.4 262.6 191.3 266.2 190.3 266.6C189.2 267 188.5 264.6 187.6 261.5C186.7 258.5 186.8 254.2 185.6 251.4C184.4 248.5 183.5 248.3 181.5 247.3C179.5 246.3 177.6 246.3 175.4 246.3C173.2 246.3 171.2 248.1 170.3 247.3C169.4 246.5 169.3 244 170.7 242.2C172.1 240.4 174.9 240.6 177.4 238.1C180 235.7 179.7 231.6 183.5 230Z"/><path d="M208 242.2C208.8 240.6 210.6 241 212 243.2C213.5 245.5 213.7 250.1 215.1 253.4C216.5 256.7 218 256.5 219.2 259.5C220.3 262.6 221.2 266.2 220.8 268.7C220.4 271.1 218.1 269.1 217.1 271.7C216.2 274.4 217.1 280.5 216.1 281.9C215.1 283.3 213.5 280.7 212 278.9C210.6 277 210.7 273.6 209 272.7C207.2 271.9 203.7 275.4 203.3 274.8C202.9 274.2 206.3 272.3 207 269.7C207.6 267 206.3 265.2 206.5 261.5C206.8 257.9 207.7 255.2 208 251.4C208.3 247.5 207.2 243.8 208 242.2Z"/><path d="M246.7 230C252.8 229 276 228.6 282.3 230C288.6 231.4 280.1 234.5 278.2 237.1C276.4 239.8 275.2 241.2 273.1 243.2C271.1 245.3 269.9 247.7 268 247.3C266.2 246.9 266 243.4 264 241.2C261.9 238.9 260.3 237.3 257.9 236.1C255.4 234.9 254 236.3 251.8 235.1C249.5 233.9 240.6 231 246.7 230Z"/><path d="M98 259.5C99.4 256.7 102.9 261.7 105.1 263.6C107.4 265.4 109.2 266.8 109.2 268.7C109.2 270.5 107.4 271 105.1 272.7C102.9 274.5 99.4 280.1 98 277.4C96.6 274.8 96.6 262.3 98 259.5Z"/><path d="M116.3 287C117.5 285.6 120.8 286 123.5 286C126.2 286 130.4 288 132.6 287C134.8 286 134.8 281.2 136.7 279.9C138.6 278.5 141.5 278.7 143.8 278.9C146.2 279 148.8 281.7 151 280.9C153.2 280.1 155 274.5 157.1 274.2C159.1 273.8 162 276.9 163.2 278.9C164.4 280.8 162.3 284.1 164.2 286C166.1 287.8 171.7 288.9 174.4 290.1C177.1 291.2 178.8 291.4 180.5 293.1C182.2 294.8 183 297.7 184.6 300.2C186.1 302.8 187.6 305.7 189.6 308.4C191.7 311.1 194.9 314.5 196.8 316.5C198.6 318.6 199 320.4 200.8 320.6C202.7 320.8 205.6 318.6 208 317.5C210.4 316.5 212.9 314.8 215.1 314.5C217.3 314.1 220.1 314.5 221.2 315.5C222.3 316.5 222.3 318.4 221.6 320.6C220.9 322.8 219.1 326.4 217.1 328.7C215.2 331.1 212.4 333.7 210 334.8C207.6 336 204.9 337.1 202.9 335.9C200.8 334.7 199.5 329.2 197.8 327.7C196.1 326.2 194.4 326.4 192.7 326.7C191 327 189 327.7 187.6 329.8C186.3 331.8 185.2 335.7 184.6 338.9C183.9 342.1 184 346.2 183.5 349.1C183 352 182.5 355.6 181.5 356.2C180.5 356.9 178.4 355 177.4 353.2C176.4 351.3 175.6 348.1 175.4 345C175.2 342 175.4 337.9 176.4 334.8C177.4 331.8 180.2 329.1 181.5 326.7C182.8 324.3 184.7 321.8 184.2 320.6C183.6 319.4 180.6 319.1 178.4 319.6C176.3 320.1 173.4 322.3 171.3 323.6C169.3 325 167.8 325.5 166.2 327.7C164.7 329.9 163.2 334 162.2 336.9C161.1 339.8 160.8 342.8 160.1 345C159.4 347.2 159.1 350 158.1 350.1C157.1 350.3 155.9 346.9 154 346C152.1 345.2 149.1 345.2 146.9 345C144.7 344.9 142.3 344.4 140.8 345C139.3 345.7 138.6 349.6 137.7 349.1C136.9 348.6 135.2 344 135.7 342C136.2 339.9 139.3 338.9 140.8 336.9C142.3 334.8 142.8 330.6 144.9 329.8C146.9 328.9 150.5 332.6 153 331.8C155.5 330.9 158.4 326.9 160.1 324.7C161.8 322.5 161.1 320.3 163.2 318.6C165.2 316.9 169.8 315.7 172.3 314.5C174.9 313.3 177.3 313.1 178.4 311.4C179.6 309.7 180 306.9 179.5 304.3C179 301.8 177.3 298 175.4 296.2C173.5 294.3 171.2 294 168.3 293.1C165.4 292.3 161.7 291.4 158.1 291.1C154.5 290.7 150.3 290.4 146.9 291.1C143.5 291.7 140.4 293.6 137.7 295.1C135 296.7 132.3 298.9 130.6 300.2C128.9 301.6 128.9 303.3 127.5 303.3C126.2 303.3 124.1 300.7 122.5 300.2C120.8 299.7 118.4 301.3 117.4 300.2C116.3 299.2 116.5 296.3 116.3 294.1C116.2 291.9 115.2 288.4 116.3 287Z"/><path d="M129.6 312.4C130.8 310.8 133.3 307.6 135.7 307.4C138.1 307.2 140.4 308.8 141.4 311.4C142.4 314.1 141.5 317.7 140.8 320.6C140 323.4 138.9 326.1 137.7 325.7C136.5 325.3 136.3 320.6 134.7 318.6C133 316.5 130.6 316.7 129.6 315.5C128.6 314.3 128.4 314.1 129.6 312.4Z"/><path d="M116.5 313.8A1.4 3.3 30 1 0 119 315.2A1.4 3.3 30 1 0 116.5 313.8Z"/><path d="M235.5 288C236.4 287.2 238.2 287.3 239.5 289C240.9 290.7 242.1 295.3 243.6 298.2C245.1 301.1 247 303.3 248.7 306.3C250.4 309.4 252.4 312.8 253.8 316.5C255.1 320.3 256.2 325.7 256.8 328.7C257.5 331.8 258.1 332.1 257.5 334.8C256.8 337.6 254.4 342.3 252.8 345C251.1 347.7 249.4 349.1 247.7 351.1C246 353.2 244.1 354.9 242.6 357.2C241.1 359.6 239.7 362.3 238.5 365.4C237.3 368.4 236.7 373.2 235.5 375.6C234.3 377.9 232.5 379.5 231.4 379.6C230.3 379.8 228.8 378.6 228.9 376.6C229.1 374.6 231.2 371 232.4 367.4C233.7 363.9 235.3 358.9 236.5 355.2C237.7 351.5 238.5 348.4 239.5 345C240.6 341.6 242.3 337.9 242.6 334.8C242.9 331.8 242.4 329.4 241.6 326.7C240.7 324 237.7 321.3 237.5 318.6C237.3 315.8 240.6 313.1 240.6 310.4C240.6 307.7 238.6 305 237.5 302.3C236.4 299.6 234.2 296.5 233.8 294.1C233.5 291.7 234.5 288.9 235.5 288Z"/><path d="M220.4 361.1A4.1 2.2 -20 1 0 228.1 358.3A4.1 2.2 -20 1 0 220.4 361.1Z"/><path d="M244.6 367.4C245 366 250.3 364.6 253.8 363.4C257.3 362.1 258.9 362.1 261.9 361.3C265 360.5 266.6 359.1 269.1 359.3C271.5 359.5 271.7 361.5 274.2 362.3C276.6 363.2 280.5 362.1 281.3 363.4C282.1 364.6 280.1 367 278.2 368.4C276.4 369.9 274.4 369.5 272.1 370.5C269.9 371.5 268.9 371.5 267 373.5C265.2 375.6 264.6 378.2 263 380.7C261.3 383.1 260.5 384.3 258.9 385.8C257.3 387.2 255 389 254.8 387.8C254.6 386.6 257 382.7 257.9 379.6C258.7 376.6 260.1 374.4 258.9 372.5C257.7 370.7 254.6 371.5 251.8 370.5C248.9 369.5 244.2 368.9 244.6 367.4Z"/><path d="M268.1 387.1A1 2.4 -20 1 0 270 386.4A1 2.4 -20 1 0 268.1 387.1Z"/><path d="M279.2 265.6C280.1 263.8 283.3 263.8 285.4 265.6C287.4 267.4 287 271.3 289.4 274.8C291.9 278.2 294.5 280.7 297.6 282.9C300.6 285.2 302.3 286 304.7 286C307.1 286 308 281.9 309.8 282.9C311.6 283.9 314.3 288.8 313.9 291.1C313.5 293.3 310.8 294.1 307.8 294.1C304.7 294.1 302 292.5 298.6 291.1C295.1 289.6 293.3 289 290.4 287C287.6 285 286.2 283.3 284.3 280.9C282.5 278.4 282.3 277.8 281.3 274.8C280.3 271.7 278.4 267.4 279.2 265.6Z"/><path d="M281.9 297.8C283.3 297 289.8 298.3 291.5 299.2C293.2 300.1 291.9 301.5 290.4 302.3C289 303.1 286 304.2 284.3 303.3C282.6 302.4 280.5 298.6 281.9 297.8Z"/><path d="M292.9 305.3C293.6 304.5 299.5 306.1 300.2 307.4C301 308.6 298 311.8 296.6 311.4C295.1 311 292.2 306.1 292.9 305.3Z"/><path d="M351.5 250.3C352.3 249.3 354.2 250.1 356.6 252.4C359.1 254.6 361.1 259.1 363.7 261.5C366.4 264 368.4 263.1 369.9 264.6C371.3 266.1 372.9 268.5 370.9 269.3C368.8 270.1 362.9 269.4 359.7 268.7C356.4 267.9 356 267.9 354.6 265.6C353.2 263.4 353.2 260.5 352.5 257.5C351.9 254.4 350.7 251.4 351.5 250.3Z"/><path d="M354.6 291.1C354.2 290.6 357.8 286.5 359.7 285C361.5 283.4 364.3 283.6 365.8 281.9C367.3 280.2 366.5 276.1 368.8 274.8C371.2 273.4 377.5 272.9 380 273.8C382.6 274.6 383.3 277.5 384.1 279.9C385 282.2 383.9 285.5 385.1 288C386.3 290.6 389 293.6 391.2 295.1C393.4 296.7 396.2 297.7 398.4 297.2C400.6 296.7 403.6 294.3 404.5 292.1C405.3 289.9 402.6 285.5 403.5 283.9C404.3 282.4 407.9 282.1 409.6 282.9C411.3 283.8 411.9 286.8 413.6 289C415.4 291.2 417.4 295 420.2 296.2C422.9 297.3 428.8 295.7 430.3 296.2C431.9 296.7 430.7 298.5 429.3 299.2C428 299.9 423.2 299.4 422.2 300.2C421.2 301.1 421.3 303.5 423.2 304.3C425.1 305.2 432.7 304.5 433.4 305.3C434.1 306.2 428.8 307.5 427.3 309.4C425.8 311.3 425.4 314.5 424.2 316.5C423 318.6 421.5 319.9 420.2 321.6C418.8 323.3 416.4 324.3 416.1 326.7C415.7 329.1 416.2 333.7 418.1 335.9C420 338.1 424.4 338.4 427.3 339.9C430.2 341.5 432.9 343 435.4 345C438 347.1 441.4 349.4 442.6 352.2C443.7 354.9 442.3 357.6 442.1 361.3C442 365.1 442.8 373.2 441.5 374.6C440.2 375.9 437.3 371.7 434.4 369.5C431.5 367.3 427.3 364 424.2 361.3C421.2 358.6 418.1 355 416.1 353.2C414 351.4 414.3 352.1 412 350.5C409.7 349 406.1 346.3 402.4 344C398.8 341.7 394.3 339.6 390.2 336.9C386.1 334.2 382.1 330.6 378 327.7C373.9 324.8 369 321.6 365.8 319.6C362.6 317.5 358.7 316.7 358.7 315.5C358.7 314.3 363.2 313.5 365.8 312.4C368.3 311.4 372.3 311.8 373.9 309.4C375.6 307 376.2 301.4 375.6 298.2C374.9 295 372.2 291.7 369.9 290.1C367.5 288.4 364.3 287.8 361.7 288C359.2 288.2 354.9 291.6 354.6 291.1Z"/><path d="M291.5 348.1C292.1 346.7 292.9 344.2 295.5 344C298.2 343.8 300.6 345.4 304.7 347.1C308.8 348.7 311.4 349.9 315.9 352.2C320.4 354.4 323.2 356 327.1 358.3C331 360.5 334.8 361.9 335.2 363.4C335.6 364.8 332.6 365.2 329.1 365.4C325.7 365.6 321.8 363.6 317.9 364.4C314.1 365.1 312.4 369.7 309.8 369.1C307.1 368.4 307.1 364.1 304.7 361.3C302.3 358.6 300 357.2 297.6 355.2C295.1 353.2 293.7 352.6 292.5 351.1C291.3 349.7 290.9 349.5 291.5 348.1Z"/><path d="M328.1 379.6C329.9 377.7 337.9 377 339.3 377.2C340.7 377.4 336.5 377.9 335.2 380.7C334 383.4 334.2 389.6 333.2 390.8C332.2 392.1 331.2 389 330.2 386.8C329.1 384.5 326.3 381.6 328.1 379.6Z"/><path d="M384.1 365.4C384.3 364.9 390.8 365.7 392.3 366.4C393.7 367.1 392.9 369.3 391.2 369.1C389.6 368.9 383.9 365.9 384.1 365.4Z"/><path d="M392.3 373.5C394.5 371.9 398.5 372.5 402.4 373.5C406.4 374.6 408.5 376.8 412 378.6C415.6 380.5 416.7 380.9 420.2 382.7C423.6 384.5 426.3 385.6 429.3 387.8C432.4 390 434 391 435.4 393.9C436.8 396.8 435.4 400 436.4 402C437.5 404.1 440.7 402 440.5 404.1C440.3 406.1 437.9 410.8 435.4 412.2C433 413.7 431.4 412.2 428.3 411.2C425.2 410.2 423.4 408.5 420.2 407.1C416.9 405.8 414.7 405.1 412 404.5C409.3 403.9 408.8 405.6 406.5 404.1C404.2 402.6 403.3 399.6 400.4 397C397.5 394.3 395.3 393.1 392.3 390.8C389.2 388.6 385.3 387.6 385.1 385.8C384.9 383.9 389.8 384.1 391.2 381.7C392.7 379.2 390 375.2 392.3 373.5Z"/><path d="M286.4 403.1C287.6 401.6 295.1 400.2 298.6 399.6C302 399 301.4 398.7 303.7 400C305.9 401.3 306.5 404.8 309.8 406.1C313 407.4 316.3 407.5 320 406.5C323.6 405.5 325.5 401.5 328.1 401C330.8 400.5 332 401.8 333.2 404.1C334.4 406.3 334.6 409.4 334.2 412.2C333.8 415.1 333.8 416.3 331.2 418.3C328.5 420.4 325.5 421.2 321 422.4C316.5 423.6 312.8 423.4 308.8 424.4C304.7 425.5 303.3 427.5 300.6 427.5C298 427.5 296.1 426.5 295.5 424.4C294.9 422.4 296.6 420.2 297.6 417.3C298.6 414.5 301.6 412.2 300.6 410.2C299.6 408.2 295.3 408.6 292.5 407.1C289.6 405.7 285.1 404.6 286.4 403.1Z"/><path d="M129.6 387.8C129.8 386.6 131 385.6 132.6 386.8C134.3 388 136.5 390.4 137.7 393.9C138.9 397.4 139.2 400 138.7 404.1C138.3 408.2 137.5 411 135.7 414.3C133.9 417.5 132.2 420 129.6 420.4C126.9 420.8 124.7 416.5 122.5 416.3C120.2 416.1 119.4 416.5 118.4 419.4C117.4 422.2 117.8 426.7 117.4 430.6C117 434.4 117.4 437.1 116.3 438.7C115.3 440.3 113.7 441.1 112.3 438.7C110.8 436.3 111.1 430.1 109.2 426.5C107.4 422.8 105.1 423 103.1 420.4C101.2 417.7 99.2 415.5 99.4 413.2C99.6 411 102.2 410.2 104.1 409.2C106.1 408.2 107.6 409.2 109.2 408.2C110.8 407.1 111.1 403.3 112.3 404.1C113.5 404.9 113.7 410.6 115.3 412.2C117 413.9 118 413.4 120.4 412.2C122.9 411 125.1 408.6 127.5 406.1C130 403.7 131.8 402.7 132.6 400C133.4 397.4 132.2 395.3 131.6 392.9C131 390.4 129.4 389 129.6 387.8Z"/><path d="M162.2 356.2C162.9 355.8 163.6 355.6 163.8 358.3C164 360.9 162.7 365.6 163.2 369.5C163.7 373.3 165.4 374.8 166.2 377.6C167 380.5 167.9 381.7 167.3 383.7C166.6 385.8 165.2 387.4 163.2 387.8C161.1 388.2 159.4 386.8 157.1 385.8C154.7 384.7 152.2 384.5 151.6 382.7C151 380.9 152.7 379.6 154 376.6C155.3 373.5 156.9 370.7 158.1 367.4C159.3 364.2 159.3 362.5 160.1 360.3C160.9 358.1 161.4 356.6 162.2 356.2Z"/><path d="M185.6 373.5C186 371.7 188.4 372.7 190.7 374.6C192.9 376.4 194.1 379.6 196.8 382.7C199.4 385.8 203.5 387.4 203.9 389.8C204.3 392.3 201.1 394.5 198.8 394.9C196.6 395.3 194.7 394.1 192.7 391.9C190.7 389.6 190.1 387.4 188.6 383.7C187.2 380.1 185.2 375.4 185.6 373.5Z"/><path d="M178.4 392.9C179.1 390.4 181.1 391 182.5 392.9C183.9 394.7 183.9 399 185.6 402C187.2 405.1 188.5 406.5 190.7 408.2C192.8 409.8 195.6 408.8 196.2 410.2C196.8 411.6 195.2 413.4 193.7 415.3C192.2 417.1 190.7 419.6 188.6 419.4C186.6 419.1 185.4 417.1 183.5 414.3C181.7 411.4 180.5 409.4 179.5 405.1C178.4 400.8 177.8 395.3 178.4 392.9Z"/><path d="M210 390.8C211 389.6 212.9 390 213.1 391.9C213.3 393.7 212.3 396.3 211 400C209.8 403.7 209 406.5 207 410.2C204.9 413.9 202.5 416.9 200.8 418.3C199.2 419.8 198.2 419.6 198.8 417.3C199.4 415.1 202.1 411 203.9 407.1C205.7 403.3 206.8 401.2 208 398C209.2 394.7 209 392.1 210 390.8Z"/><path d="M216.1 411.2A2.4 2 0 1 0 221 411.2A2.4 2 0 1 0 216.1 411.2Z"/><path d="M194.7 457C181.3 455.4 199.2 452.1 202.9 448.9C206.5 445.6 209.4 443.8 213.1 440.7C216.7 437.7 218.6 435.4 221.2 433.6C223.9 431.8 225.1 429.7 226.3 431.6C227.5 433.4 225.9 439.9 227.3 442.8C228.7 445.6 231 446.2 233.4 445.8C235.9 445.4 236.7 443.4 239.5 440.7C242.4 438.1 244 434.8 247.7 432.6C251.3 430.3 253.4 430.6 257.9 429.5C262.3 428.5 265 427.8 270.1 427.5C275.2 427.2 280.9 426.7 283.3 428.1C285.8 429.5 283.7 431.7 282.3 434.6C280.9 437.6 278.6 438.3 276.2 442.8C273.7 447.2 286.4 454.2 270.1 457C253.8 459.9 208.2 458.7 194.7 457Z"/><path d="M285.4 450.9C285.4 448.3 289.4 444.2 292.5 441.8C295.5 439.3 297.8 438.7 300.6 438.7C303.5 438.7 304.3 442 306.7 441.8C309.2 441.5 310.2 438.7 312.8 437.7C315.5 436.7 319 435.6 320 436.7C321 437.7 320.2 440.5 317.9 442.8C315.7 445 312.2 445.8 308.8 447.9C305.3 449.9 303.9 451.5 300.6 453C297.4 454.4 295.5 455.4 292.5 455C289.4 454.6 285.4 453.6 285.4 450.9Z"/><path d="M323.5 441.2A4.5 2.4 -20 1 0 331.9 438.2A4.5 2.4 -20 1 0 323.5 441.2Z"/><path d="M386.1 453C387 450.9 389 448.9 392.3 446.8C395.5 444.8 398.5 444.4 402.4 442.8C406.4 441.1 408.5 439.3 412 438.7C415.6 438.1 416.9 438.7 420.2 439.7C423.4 440.7 425.4 441.8 428.3 443.8C431.1 445.8 433 447.2 434.4 449.9C435.8 452.5 444.7 455.6 435.4 457C426.2 458.4 398 457.8 388.2 457C378.3 456.2 385.3 455 386.1 453Z"/><path d="M333.2 455C334.4 454.1 337.3 452.1 339.3 452.5C341.3 453 344.6 456.1 343.4 457C342.2 457.9 335.2 457.4 333.2 457C331.2 456.6 332 455.9 333.2 455Z"/><path d="M335 242.6A0.6 2 0 1 0 336.3 242.6A0.6 2 0 1 0 335 242.6Z"/><path d="M467 230C470.6 229 490.4 229 495.5 230C500.6 231 494.5 233.7 492.4 235.1C490.4 236.4 488.4 236.7 485.3 236.7C482.3 236.7 480.8 236.4 477.2 235.1C473.5 233.7 463.3 231 467 230Z"/><path d="M432.4 248.3C433.2 247.2 435.8 244.8 438.5 244.2C441.1 243.6 442.7 244.2 445.6 245.3C448.4 246.3 449.5 248.1 452.7 249.3C456 250.5 459.2 249.9 461.9 251.4C464.5 252.8 466.2 254.8 466 256.5C465.8 258.1 463.3 259.5 460.9 259.5C458.4 259.5 456.4 257.9 453.7 256.5C451.1 255 450.3 253.8 447.6 252.4C445 251 443.2 249.9 440.5 249.3C437.9 248.8 436 249.9 434.4 249.7C432.8 249.5 431.5 249.4 432.4 248.3Z"/><path d="M471.1 259.5C472.7 257.8 474.3 255.5 477.2 255C480 254.5 482 256.9 485.3 257.1C488.6 257.2 490.6 255.8 493.4 255.8C496.3 255.9 498.1 255.3 499.6 257.5C501 259.6 499.4 263.8 500.6 266.6C501.8 269.5 504.7 269.3 505.7 271.7C506.6 274.2 506.5 277.4 505.3 278.9C504 280.3 501.9 279.9 499.6 278.9C497.2 277.8 495.7 274.6 493.4 273.8C491.2 272.9 489.7 273.2 488.4 274.8C487.1 276.4 486.3 279.1 486.9 281.9C487.5 284.8 490.9 287.1 491.4 289C491.9 291 491 292.3 489.4 291.7C487.7 291.1 485.5 288.3 483.3 286C481 283.6 480.2 282.1 478.2 279.9C476.1 277.6 475.3 275.7 473.1 274.8C470.8 273.9 468.8 275.4 467 275.4C465.1 275.4 463.7 276.1 463.9 274.8C464.1 273.4 467 270.9 468 268.7C469 266.4 468.4 265.4 469 263.6C469.6 261.7 469.4 261.2 471.1 259.5Z"/><path d="M519.9 237.1C521.8 235.9 528.1 236.1 532.1 237.1C536.2 238.1 537.2 240.6 540.3 242.2C543.3 243.8 544.4 244.6 547.4 245.3C550.5 245.9 554.5 244.2 555.6 245.3C556.6 246.3 554.3 248.5 552.5 250.3C550.7 252.2 549 252.4 546.4 254.4C543.7 256.5 541.3 257.7 539.3 260.5C537.2 263.4 538.2 266.2 536.2 268.7C534.2 271.1 531.7 270.5 529.1 272.7C526.4 275 524.9 278.6 523 279.9C521 281.1 519.7 280.7 519.3 278.9C518.9 277 520.1 274.2 520.9 270.7C521.8 267.2 522.8 265.6 523.6 261.5C524.4 257.5 525.1 254 525 250.3C524.9 246.7 524 245.9 523 243.2C522 240.6 518.1 238.3 519.9 237.1Z"/><path d="M531.1 284.3A2.4 1.8 0 1 0 536 284.3A2.4 1.8 0 1 0 531.1 284.3Z"/><path d="M569.2 259.1C569.4 258.3 572.9 259.6 574.9 260.5C576.9 261.4 579.2 262.8 579 263.6C578.8 264.4 575.8 265.5 573.9 264.6C571.9 263.7 569 259.9 569.2 259.1Z"/><path d="M591.2 260.5C592.5 259.7 599.5 258.5 601 259.5C602.4 260.5 599.7 264.8 598.3 265.6C597 266.4 595.7 264.6 594.2 263.6C592.8 262.6 589.8 261.3 591.2 260.5Z"/><path d="M610.9 249.2A1.2 5.1 25 1 0 613.1 250.2A1.2 5.1 25 1 0 610.9 249.2Z"/><path d="M635 242.2C636.2 241.3 639.7 241.4 642.1 240.8C644.5 240.2 646 238.7 647.2 239.1C648.3 239.6 649 241.8 647.8 243.2C646.6 244.6 643.4 245.9 641.1 246.3C638.7 246.7 637.2 246.1 636 245.3C634.8 244.4 633.7 243.1 635 242.2Z"/><path d="M628.9 249.7C629.1 248.8 633.7 250 636 251C638.2 251.9 640.3 253.5 640.1 254.4C639.9 255.3 637.2 256.4 635 255.4C632.7 254.5 628.7 250.6 628.9 249.7Z"/><path d="M652.7 273.8C653.5 272.1 658.3 271.7 661.4 270.7C664.5 269.7 666.7 267.4 668.2 268.7C669.6 269.9 669.7 274.2 668.6 276.8C667.4 279.4 664.7 281.1 662.5 281.5C660.2 281.9 659.3 280.4 657.4 278.9C655.4 277.3 651.9 275.4 652.7 273.8Z"/><path d="M656.2 291.9A3.3 2.4 30 1 0 661.8 295.1A3.3 2.4 30 1 0 656.2 291.9Z"/><path d="M723.7 256.5A1.4 2 0 1 0 726.6 256.5A1.4 2 0 1 0 723.7 256.5Z"/><path d="M585.1 285C585.7 284.1 593 282.7 595.3 283.5C597.5 284.3 594.7 287.7 596.3 289C597.9 290.3 601.2 289 603.4 290.1C605.6 291.1 607.1 292.1 607.5 294.1C607.9 296.2 607.1 298.8 605.4 300.2C603.8 301.7 602.2 301.9 599.3 301.3C596.5 300.6 592.9 299 591.2 297.2C589.5 295.3 590.6 293.9 590.8 292.1C591 290.3 593.3 289.4 592.2 288C591.1 286.6 584.5 285.9 585.1 285Z"/><path d="M575.6 311.1A3.5 5.3 15 1 0 582.3 312.9A3.5 5.3 15 1 0 575.6 311.1Z"/><path d="M604.4 305.9C605.6 305.2 608.7 306.1 612.6 306.7C616.4 307.4 621.1 307.4 623.8 309.4C626.4 311.4 625.3 313.5 625.8 316.5C626.3 319.5 627.8 323 626.2 324.3C624.6 325.5 620.8 323.2 617.7 322.6C614.5 322.1 613.1 322 610.5 321.6C608 321.2 605.4 321.8 605 320.6C604.6 319.4 608.2 317.5 608.5 315.5C608.8 313.5 607.3 312.3 606.5 310.4C605.6 308.5 603.2 306.7 604.4 305.9Z"/><path d="M597.7 332.2A2.6 2.9 0 1 0 603 332.2A2.6 2.9 0 1 0 597.7 332.2Z"/><path d="M684.9 291.1C687.9 291.3 690.4 293.9 694 296.2C697.7 298.4 700.7 300 703.2 302.3C705.6 304.5 706.6 305.1 706.2 307.4C705.8 309.6 704.2 311.8 701.1 313.5C698.1 315.1 695.4 315 691 315.5C686.5 316 683 316.5 678.7 316.1C674.5 315.7 672.9 313.7 669.6 313.5C666.2 313.2 662.5 315.9 662.1 314.9C661.6 313.9 665.4 311.1 667.5 308.4C669.7 305.6 670.4 303.9 672.6 301.3C674.9 298.6 676.3 297.2 678.7 295.1C681.2 293.1 681.8 290.9 684.9 291.1Z"/><path d="M666.5 333.8C668 333.6 668 337.3 669.6 338.9C671.2 340.5 674.5 340.3 674.7 342C674.9 343.6 672.6 345.8 670.6 347.1C668.6 348.3 666.7 348.2 664.5 348.1C662.3 348 659.8 348.3 659.4 346.7C659 345 661 342.5 662.5 339.9C663.9 337.4 665.1 334 666.5 333.8Z"/><path d="M700.1 346C700.5 345 705 345.4 707.3 344C709.5 342.6 708.7 339.9 711.3 338.9C714 337.9 717.8 337.7 720.5 338.9C723.1 340.1 724 341.8 724.6 345C725.2 348.3 724.4 352 723.5 355.2C722.7 358.5 722.5 359.1 720.5 361.3C718.5 363.6 715.8 366 713.4 366.4C710.9 366.8 708.9 365 708.3 363.4C707.7 361.7 711.1 360.1 710.3 358.3C709.5 356.4 705.2 356 704.2 354.2C703.2 352.4 706 350.7 705.2 349.1C704.4 347.5 699.7 347.1 700.1 346Z"/><path d="M460.9 306.7C462.2 306.3 464.7 306.2 467 307.4C469.2 308.5 470 310.6 472.1 312.4C474.1 314.3 475.1 314.1 477.2 316.5C479.2 319 479.6 322.2 482.3 324.7C484.9 327.1 487.7 327.1 490.4 328.7C493 330.4 493.9 331 495.5 332.8C497.1 334.6 498.5 335.1 498.5 337.9C498.5 340.7 497.7 345.4 495.5 346.7C493.2 347.9 490.6 344.7 487.3 344C484.1 343.3 482.3 342.8 479.2 343C476.1 343.2 473.7 345.2 472.1 345C470.4 344.8 470.8 343.4 471.1 342C471.3 340.5 473.7 339.5 473.1 337.9C472.5 336.3 470 335.1 468 333.8C466 332.6 464.9 332.1 462.9 331.8C460.9 331.5 457.4 333.4 457.8 332.4C458.2 331.4 463.3 329.1 464.9 326.7C466.6 324.3 466.4 323 466 320.6C465.6 318.2 464 316.7 462.9 314.5C461.8 312.2 460.9 310.9 460.5 309.4C460.1 307.8 459.6 307.2 460.9 306.7Z"/><path d="M477.2 353.2C478.9 352.4 481.6 352 485.3 352.2C489 352.4 491.8 353 495.5 354.2C499.2 355.4 502.4 356.2 503.6 358.3C504.9 360.3 503.6 362.9 501.6 364.4C499.6 365.8 496.5 365 493.4 365.4C490.4 365.8 488.8 367.2 486.3 366.4C483.9 365.6 483.1 363.4 481.2 361.3C479.3 359.3 477.6 357.9 476.8 356.2C475.9 354.6 475.4 354 477.2 353.2Z"/><path d="M465.3 388.2C467 387.8 468 391.5 470 393.9C472.1 396.3 474.2 397.6 475.5 400C476.9 402.5 477.6 404.8 476.8 406.1C475.9 407.4 473.2 405.8 471.1 406.5C468.9 407.3 468 409.9 466 409.8C463.9 409.7 462.5 407.7 460.9 406.1C459.2 404.6 457.6 404.1 457.8 402C458 400 460.4 398.7 461.9 395.9C463.4 393.2 463.7 388.6 465.3 388.2Z"/><path d="M533.2 378C534 377.2 536.8 378.7 539.3 379.6C541.7 380.6 545 381.3 545.4 382.7C545.8 384.1 543.3 386.6 541.3 386.8C539.3 387 536.8 385.5 535.2 383.7C533.6 382 532.3 378.8 533.2 378Z"/><path d="M558.2 397C558.6 395.9 561.4 395.3 562.7 395.9C564 396.5 563.6 398.7 564.7 400C565.9 401.3 568.2 401.6 568.4 402.5C568.6 403.3 567.3 404.4 565.7 404.1C564.2 403.8 562.2 402.5 560.6 401C559.1 399.6 557.8 398 558.2 397Z"/><path d="M473.3 421.4A0.8 1.6 0 1 0 474.9 421.4A0.8 1.6 0 1 0 473.3 421.4Z"/><path d="M520.9 401.6C521.5 400.8 523.8 404.4 526 406.1C528.3 407.8 529.7 408.2 532.1 410.2C534.6 412.2 535.6 413.9 538.2 416.3C540.9 418.7 542.7 420 545.4 422.4C548 424.9 550.5 425.7 551.5 428.5C552.5 431.4 550.1 434.2 550.5 436.7C550.9 439.1 552.1 438.9 553.5 440.7C554.9 442.6 557.8 444.6 557.6 445.8C557.4 447 554.5 445.9 552.5 446.8C550.5 447.8 549.4 450.9 547.4 450.5C545.4 450.1 544.2 446.4 542.3 444.8C540.5 443.3 540.1 442.4 538.2 442.8C536.4 443.2 534 447.2 533.2 446.8C532.3 446.4 535.2 442.4 534.2 440.7C533.2 439.1 530.7 439.5 528.1 438.7C525.4 437.9 523.2 437.7 520.9 436.7C518.7 435.6 517.1 435.6 516.9 433.6C516.7 431.6 518.7 429.5 519.9 426.5C521.1 423.4 522.4 421.6 523 418.3C523.6 415.1 523.4 413.5 523 410.2C522.6 406.9 520.3 402.5 520.9 401.6Z"/><path d="M587.1 436.7C588.1 434.4 588.9 433 591.2 431.6C593.4 430.1 595.5 429.3 598.3 429.5C601.2 429.7 603.2 430.3 605.4 432.6C607.7 434.8 608.3 435.8 609.5 440.7C610.7 445.6 615.2 453.8 611.6 457C607.9 460.3 595.7 459.1 591.2 457C586.7 455 590.2 449.7 589.2 446.8C588.1 444 586.5 444.8 586.1 442.8C585.7 440.7 586.1 438.9 587.1 436.7Z"/><path d="M616.6 387.8C618.1 386.6 623.4 385.8 625.8 386.8C628.2 387.8 627.6 390.2 628.9 392.9C630.1 395.5 632.1 397.8 631.9 400C631.7 402.2 629.7 404.3 627.8 404.1C626 403.9 624.6 401.2 622.8 399C620.9 396.8 619.9 395.1 618.7 392.9C617.5 390.6 615.2 389 616.6 387.8Z"/><path d="M616.8 379.6A2.4 1.2 0 1 0 621.7 379.6A2.4 1.2 0 1 0 616.8 379.6Z"/><path d="M629.5 434.6C629.9 433.2 632.4 432.2 635 432.6C637.5 433 639.9 434.4 642.1 436.7C644.3 438.9 645 440.5 646.2 443.8C647.3 447 648.2 451.5 647.8 453C647.4 454.4 646.1 452.3 644.1 450.9C642.2 449.5 640.3 448.1 638 445.8C635.8 443.6 634.6 442 632.9 439.7C631.2 437.5 629.1 436 629.5 434.6Z"/><path d="M668.6 356.2C671.6 354.5 674 353.3 676.7 353.2C679.4 353 682.7 353.9 684.9 355.2C687.1 356.6 689 359.4 689.9 361.3C690.9 363.3 691.4 366.3 690.6 367C689.7 367.7 686.8 366.2 684.9 365.4C682.9 364.6 681 362.7 678.7 362.3C676.5 362 673.5 362.2 671.6 363.4C669.8 364.5 667.9 367.4 667.5 369.5C667.2 371.5 668.2 373.7 669.6 375.6C670.9 377.4 674 378.6 675.7 380.7C677.4 382.7 678.4 385.2 679.8 387.8C681.1 390.3 682 393.9 683.8 395.9C685.7 398 689.6 398.3 691 400C692.3 401.7 692.7 404.3 692 406.1C691.3 408 688.9 410.5 686.9 411.2C684.9 411.9 681.3 409.3 679.8 410.2C678.2 411 677.9 413.6 677.7 416.3C677.6 419 678.2 423.1 678.7 426.5C679.3 429.9 681.1 433.9 680.8 436.7C680.4 439.4 678.9 440.9 676.7 442.8C674.5 444.6 670.1 447.5 667.5 447.9C665 448.2 662.8 447 661.4 444.8C660.1 442.6 660.4 437.7 659.4 434.6C658.4 431.6 656.5 429.2 655.3 426.5C654.1 423.8 652.4 421 652.3 418.3C652.1 415.6 654.3 413.2 654.3 410.2C654.3 407.1 653.3 403.1 652.3 400C651.3 397 649.6 394.6 648.2 391.9C646.8 389.1 644.7 386.3 644.1 383.7C643.5 381.2 643.5 378.6 644.5 376.6C645.6 374.6 647.9 373.7 650.2 371.5C652.5 369.3 655.3 365.9 658.4 363.4C661.4 360.8 665.5 357.9 668.6 356.2Z"/><path d="M713.4 443.8C714.2 442 718.3 443.6 721.5 444.8C724.8 446 728 447.5 729.7 449.9C731.3 452.3 732.1 456.2 729.7 457C727.2 457.8 720.7 456.6 717.4 454C714.2 451.3 712.5 445.6 713.4 443.8Z"/><path d="M723.1 399C724.3 395.7 728.4 394.7 729.7 398C731 401.2 730.8 412 729.7 415.3C728.5 418.5 725.3 417.5 724 414.3C722.6 411 722 402.2 723.1 399Z"/></g>
<g fill="#000"><path d="M124 96.6A4.1 2 -30 1 0 131.1 92.5A4.1 2 -30 1 0 124 96.6Z"/><path d="M169.5 139.5A1.8 7.1 -5 1 0 173.1 139.2A1.8 7.1 -5 1 0 169.5 139.5Z"/><path d="M175.8 164.8A3.1 1.8 0 1 0 181.9 164.8A3.1 1.8 0 1 0 175.8 164.8Z"/><path d="M156.2 171.1A2.9 1.8 30 1 0 161.2 174A2.9 1.8 30 1 0 156.2 171.1Z"/><path d="M159.1 181.1C158.1 177.7 159.7 177.7 162.2 180.1C164.6 182.5 170.3 189.9 171.3 193.3C172.3 196.8 169.7 199.9 167.3 197.4C164.8 195 160.1 184.6 159.1 181.1Z"/><path d="M375.4 13.7A5.7 3.3 0 1 0 386.8 13.7A5.7 3.3 0 1 0 375.4 13.7Z"/><path d="M393.3 15.2A5.1 4.1 0 1 0 403.5 15.2A5.1 4.1 0 1 0 393.3 15.2Z"/><path d="M383.1 23.3A2 1.6 0 1 0 387.2 23.3A2 1.6 0 1 0 383.1 23.3Z"/><path d="M401.4 25.3A2 1.6 0 1 0 405.5 25.3A2 1.6 0 1 0 401.4 25.3Z"/><path d="M390.2 158.7A4.1 3.7 0 1 0 398.4 158.7A4.1 3.7 0 1 0 390.2 158.7Z"/><path d="M306.7 173A4.1 2.9 0 1 0 314.9 173A4.1 2.9 0 1 0 306.7 173Z"/><path d="M288.8 153.6A1.6 2.4 0 1 0 292.1 153.6A1.6 2.4 0 1 0 288.8 153.6Z"/><path d="M298 157.7A1.2 1.2 0 1 0 300.4 157.7A1.2 1.2 0 1 0 298 157.7Z"/><path d="M253.8 214.1A2 1.4 0 1 0 257.9 214.1A2 1.4 0 1 0 253.8 214.1Z"/><path d="M473.5 42.7A3.7 2.4 0 1 0 480.8 42.7A3.7 2.4 0 1 0 473.5 42.7Z"/><path d="M480.2 49.8A4.1 3.1 0 1 0 488.4 49.8A4.1 3.1 0 1 0 480.2 49.8Z"/><path d="M473.1 55.9A3.1 2.4 0 1 0 479.2 55.9A3.1 2.4 0 1 0 473.1 55.9Z"/><path d="M480.5 66.7A1.8 3.1 -20 1 0 484 65.4A1.8 3.1 -20 1 0 480.5 66.7Z"/><path d="M486.1 76.3A1.2 1.2 0 1 0 488.6 76.3A1.2 1.2 0 1 0 486.1 76.3Z"/><path d="M491.4 87A1 1 0 1 0 493.4 87A1 1 0 1 0 491.4 87Z"/><path d="M576.9 89.5A2 2 0 1 0 581 89.5A2 2 0 1 0 576.9 89.5Z"/><path d="M689.9 22.3A2 1.2 0 1 0 694 22.3A2 1.2 0 1 0 689.9 22.3Z"/><path d="M569.4 174.6A1.4 1 0 1 0 572.3 174.6A1.4 1 0 1 0 569.4 174.6Z"/><path d="M447.8 178.6A6.1 2.6 -15 1 0 459.6 175.5A6.1 2.6 -15 1 0 447.8 178.6Z"/><path d="M467.2 191.3A2.4 1.4 0 1 0 472.1 191.3A2.4 1.4 0 1 0 467.2 191.3Z"/><path d="M449.5 210.6A1.2 2.4 0 1 0 451.9 210.6A1.2 2.4 0 1 0 449.5 210.6Z"/><path d="M468 15.2A1 0.8 0 1 0 470 15.2A1 0.8 0 1 0 468 15.2Z"/><path d="M490.2 264.6A1.2 1.6 0 1 0 492.6 264.6A1.2 1.6 0 1 0 490.2 264.6Z"/><path d="M599.3 332.2A1 1.2 0 1 0 601.4 332.2A1 1.2 0 1 0 599.3 332.2Z"/><path d="M711.9 347.5A1 1.6 0 1 0 714 347.5A1 1.6 0 1 0 711.9 347.5Z"/><path d="M663.3 383.7A1.8 2.9 0 1 0 666.9 383.7A1.8 2.9 0 1 0 663.3 383.7Z"/><path d="M672.8 422.4A1.2 1.8 0 1 0 675.3 422.4A1.2 1.8 0 1 0 672.8 422.4Z"/><path d="M663.5 391.9A1 1 0 1 0 665.5 391.9A1 1 0 1 0 663.5 391.9Z"/><path d="M468 404.1A1 0.8 0 1 0 470 404.1A1 0.8 0 1 0 468 404.1Z"/></g>
</g>
<rect x="98.2" y="7.3" width="628.6" height="448.2" fill="none" stroke="#1a1a1a" stroke-width="2"/>
<clipPath id="cb"><rect x="896.3" y="6.3" width="630.3" height="450.2"/></clipPath>
<rect x="896.3" y="6.3" width="630.3" height="450.2" fill="#000"/>
<g clip-path="url(#cb)">
<g fill="#fff"><path d="M1039.7 19.6A1.4 2.4 0 1 0 1042.6 19.6A1.4 2.4 0 1 0 1039.7 19.6Z"/><path d="M1074.2 7C1075.5 5.4 1078.2 5.1 1078.2 7.6C1078.2 10.2 1075.7 17.8 1074.2 22.3C1072.6 26.8 1070.9 30.6 1069.1 34.5C1067.2 38.4 1064.8 42.8 1063 45.7C1061.1 48.6 1059 51.3 1057.9 51.8C1056.7 52.3 1055.9 50.8 1056.2 48.8C1056.6 46.7 1058.4 43 1059.9 39.6C1061.4 36.2 1063.3 32.1 1065 28.4C1066.7 24.7 1068.6 20.8 1070.1 17.2C1071.6 13.6 1072.8 8.6 1074.2 7Z"/><path d="M1127.9 15.2A1.6 1.4 0 1 0 1131.2 15.2A1.6 1.4 0 1 0 1127.9 15.2Z"/><path d="M1153.6 7C1155.2 5.6 1159.1 5.8 1159.7 7C1160.3 8.2 1158 11.1 1156.6 13.1C1155.2 15.2 1153.6 17 1152.5 17.2C1151.5 17.4 1151.3 16.2 1151.5 14.1C1151.7 12.1 1151.9 8.4 1153.6 7Z"/><path d="M1169.9 6C1173.6 4 1189.2 4.6 1192.3 6C1195.3 7.4 1190 11.8 1188.2 14.1C1186.3 16.5 1182.6 18 1181.1 20.3C1179.5 22.5 1180.4 25.5 1179 27.4C1177.7 29.2 1174.1 29.6 1172.9 31.5C1171.7 33.3 1172.9 36.7 1171.9 38.6C1170.9 40.4 1166 41.8 1166.8 42.7C1167.7 43.5 1176.5 42.5 1177 43.7C1177.5 44.9 1172.1 47.6 1169.9 49.8C1167.7 52 1166.1 54.4 1163.7 56.9C1161.4 59.5 1158 62.7 1155.6 65.1C1153.2 67.4 1151.4 69.1 1149.5 71.2C1147.6 73.2 1146.4 75.4 1144.4 77.3C1142.4 79.1 1139.3 80.3 1137.3 82.4C1135.2 84.4 1134.2 87.3 1132.2 89.5C1130.2 91.7 1127.8 93.9 1125.1 95.6C1122.3 97.3 1118.6 98.3 1115.9 99.7C1113.2 101 1110.6 102.7 1108.8 103.7C1106.9 104.8 1106.6 104.9 1104.7 105.8C1102.8 106.6 1099.9 107.6 1097.6 108.8C1095.2 110 1093.2 111.5 1090.4 112.9C1087.7 114.3 1084 115.3 1081.3 117C1078.6 118.7 1075.9 122.7 1074.2 123.1C1072.5 123.4 1071.4 120.9 1071.1 119C1070.8 117.1 1070.4 113.6 1072.1 111.9C1073.8 110.2 1079.1 110.5 1081.3 108.8C1083.5 107.1 1085.5 103.4 1085.4 101.7C1085.2 100 1082.1 99.3 1080.3 98.6C1078.4 98 1075.9 98.3 1074.2 97.6C1072.4 97 1069.3 95.4 1069.7 94.6C1070 93.7 1073.9 92.5 1076.2 92.5C1078.5 92.5 1081.3 95.4 1083.3 94.6C1085.4 93.7 1087.7 90 1088.4 87.4C1089.1 84.9 1086.7 80 1087.4 79.3C1088.1 78.6 1091.5 81 1092.5 83.4C1093.5 85.8 1092.5 91.4 1093.5 93.6C1094.5 95.8 1096.7 97 1098.6 96.6C1100.5 96.3 1102.8 93.2 1104.7 91.5C1106.6 89.8 1109.4 87.6 1109.8 86.4C1110.1 85.2 1106.1 84.7 1106.7 84.4C1107.4 84.1 1112.2 85.6 1113.9 84.4C1115.6 83.2 1115.2 79.5 1116.9 77.3C1118.6 75.1 1122 73.2 1124 71.2C1126.1 69.1 1127.8 67.1 1129.1 65.1C1130.5 63 1132 61.1 1132.2 58.9C1132.4 56.7 1129.8 52.5 1130.2 51.8C1130.5 51.1 1132.9 53.3 1134.2 54.9C1135.6 56.4 1136.6 60.8 1138.3 61C1140 61.1 1142.2 58.3 1144.4 55.9C1146.6 53.5 1149 49.1 1151.5 46.7C1154.1 44.3 1157.8 43.7 1159.7 41.6C1161.5 39.6 1161.4 37.1 1162.7 34.5C1164.1 32 1166.6 29.1 1167.8 26.4C1169 23.6 1169.5 21.6 1169.9 18.2C1170.2 14.8 1166.1 8 1169.9 6Z"/><path d="M1197.3 9.1C1199.2 7.4 1205.5 6 1206.5 7C1207.5 8 1204.3 12.5 1202.4 14.1C1200.6 15.8 1198.4 16.2 1197.3 15.2C1196.3 14.1 1195.5 10.7 1197.3 9.1Z"/><path d="M1111.1 50.5A3.1 6.1 25 1 0 1116.6 53.1A3.1 6.1 25 1 0 1111.1 50.5Z"/><path d="M1098.4 63A3.1 5.7 20 1 0 1104.1 65.1A3.1 5.7 20 1 0 1098.4 63Z"/><path d="M997.8 71.2C999.2 70.3 1000.6 71 1000.8 72.2C1001.1 73.4 1000 75.6 998.8 77.3C997.6 78.9 996.8 79 994.7 80.3C992.7 81.6 989.6 83.8 988.6 83.8C987.6 83.8 988.6 81.8 989.6 80.3C990.7 78.8 992.1 78.1 993.7 76.3C995.4 74.4 996.4 72 997.8 71.2Z"/><path d="M1020.7 88.6A1.2 6.5 25 1 0 1022.9 89.6A1.2 6.5 25 1 0 1020.7 88.6Z"/><path d="M1184.1 82.4C1185.7 80.2 1188.9 77.9 1191.2 77.7C1193.6 77.5 1195.5 79.4 1195.9 81.3C1196.3 83.3 1195.2 85.4 1193.3 87.4C1191.3 89.5 1188.2 91.3 1186.1 91.5C1184.1 91.7 1183.5 90.3 1183.1 88.5C1182.7 86.6 1182.5 84.5 1184.1 82.4Z"/><path d="M1186.1 98.6C1188 97.8 1189.9 97.5 1189.2 99.7C1188.5 101.9 1184.6 107.8 1182.1 111.9C1179.5 116 1176.8 120.2 1173.9 124.1C1171 128 1167.5 132.6 1164.8 135.3C1162.1 138 1159.2 140.1 1157.6 140.4C1156 140.7 1154.5 139.4 1155.2 137.3C1155.9 135.3 1159.3 131.7 1161.7 128.2C1164.2 124.6 1167.1 119.9 1169.9 116C1172.6 112.1 1175.3 107.6 1178 104.8C1180.7 101.9 1184.3 99.5 1186.1 98.6Z"/><path d="M1181.1 133.9C1182.7 133.1 1183.9 133.6 1183.1 135.3C1182.3 137 1179.4 140 1177 142.4C1174.5 144.9 1172.3 146.9 1170.9 147.5C1169.4 148.1 1169 147.1 1169.9 145.5C1170.7 143.9 1172.7 141.7 1174.9 139.4C1177.2 137.1 1179.4 134.7 1181.1 133.9Z"/><path d="M1219.1 127.6C1220.7 127.2 1221 127.9 1220.2 129.2C1219.3 130.5 1217 132.8 1214 135.3C1211.1 137.8 1206.4 141.7 1202.4 144.5C1198.5 147.2 1194.1 149.7 1190.2 151.6C1186.3 153.5 1181.1 155.5 1179 155.7C1176.9 155.8 1176.4 154.1 1177.6 152.6C1178.8 151.1 1182.7 148.9 1186.1 146.5C1189.6 144.1 1194.3 140.9 1198.4 138.4C1202.4 135.8 1207.1 133 1210.6 131.2C1214 129.4 1217.5 127.9 1219.1 127.6Z"/><path d="M1058.9 126.7A3.1 2.6 0 1 0 1065 126.7A3.1 2.6 0 1 0 1058.9 126.7Z"/><path d="M1083.3 128.2C1084.1 126.3 1086.4 124.5 1088.4 124.1C1090.4 123.7 1093.3 125.3 1093.5 126.1C1093.7 127 1090.4 127 1089.4 128.2C1088.4 129.4 1089.4 131.2 1088.4 132.2C1087.4 133.3 1085.4 134.1 1084.3 133.3C1083.3 132.5 1082.5 130 1083.3 128.2Z"/><path d="M1111 120A1 1 0 1 0 1113 120A1 1 0 1 0 1111 120Z"/><path d="M896 170.9C897.5 160.4 902.3 170.4 905.1 168.9C908 167.4 910.9 162.1 913.3 161.8C915.7 161.4 917 166 919.4 166.9C921.8 167.7 925.7 165.5 927.5 166.9C929.4 168.2 929.4 174.3 930.6 175C931.8 175.7 933.7 173.3 934.7 170.9C935.7 168.6 935.7 164.5 936.7 160.8C937.7 157 938.9 152.3 940.8 148.5C942.6 144.8 946.4 139.7 947.9 138.4C949.4 137 950 138 949.5 140.4C949 142.8 946.1 148.5 944.9 152.6C943.6 156.7 942.6 160.8 941.8 164.8C940.9 168.9 939.5 173.7 939.8 177C940 180.4 943.9 183 943.4 185.2C942.9 187.4 939 188.2 936.7 190.3C934.4 192.3 932.1 194.7 929.6 197.4C927 200.1 924.1 203.5 921.4 206.6C918.7 209.6 915.7 212.7 913.3 215.7C910.9 218.8 909.2 222.2 907.2 224.9C905.1 227.6 902.9 230.8 901.1 232C899.2 233.2 896.8 242.2 896 232C895.1 221.8 894.5 181.5 896 170.9Z"/><path d="M955 148.5C956.3 147.8 957.3 148.3 956.5 150.2C955.6 152 953.1 155.6 951 157.7C948.8 159.8 947 160.6 945.9 160.8C944.8 160.9 944.6 159.7 945.5 158.3C946.4 156.9 948.4 155.6 950.3 153.6C952.3 151.7 953.8 149.2 955 148.5Z"/><path d="M951 173C952.5 172.2 953 173.2 952 174.6C951 176 947.4 179.3 945.9 180.1C944.3 180.9 943.2 180.1 944.2 178.7C945.3 177.2 949.4 173.8 951 173Z"/><path d="M985.6 144.1C986.8 143.4 988.1 144.1 987.6 145.5C987.1 146.9 984.7 150.6 982.5 152.6C980.3 154.6 977.1 155.8 974.4 157.7C971.7 159.6 968.8 161.9 966.2 163.8C963.7 165.7 960.5 168.4 959.1 168.9C957.7 169.4 957.2 168.2 958.1 166.9C958.9 165.5 961.8 162.6 964.2 160.8C966.6 158.9 969.6 157.5 972.3 155.7C975.1 153.8 978.3 151.5 980.5 149.6C982.7 147.6 984.4 144.7 985.6 144.1Z"/><path d="M996.8 166.9C998.4 165.2 999.6 166.3 999.8 167.9C1000 169.5 996.8 173.8 997.8 175C998.8 176.2 1001.5 175 1004.9 174C1008.4 173 1011.2 171.5 1015.1 169.9C1019 168.3 1021.2 167.4 1024.3 165.8C1027.3 164.3 1028.7 162.4 1030.4 162.4C1032 162.4 1033.4 163.9 1032.4 165.8C1031.4 167.8 1028.7 169.5 1025.3 172C1021.8 174.4 1019.2 176 1015.1 178.1C1011 180.1 1009 180.7 1004.9 182.1C1000.8 183.6 997.8 185 994.7 185.2C991.7 185.4 990.3 185 989.6 183.2C989 181.3 990.3 179.3 991.7 176C993.1 172.8 995.1 168.5 996.8 166.9Z"/><path d="M1049.7 165.2C1051.6 164.4 1052.4 165.5 1051.8 166.9C1051.1 168.2 1048.6 170.5 1046.7 172C1044.7 173.4 1042.8 174.2 1042 174C1041.2 173.8 1041 172.7 1042.6 170.9C1044.1 169.2 1047.9 166 1049.7 165.2Z"/><path d="M1067 162.8C1069 161.4 1070.3 162.2 1070.1 163.8C1069.9 165.4 1067.7 168.9 1066 170.9C1064.3 173 1062.7 174 1061.5 174C1060.4 174 1059.2 173.2 1060.3 170.9C1061.4 168.7 1065.1 164.2 1067 162.8Z"/><path d="M1074.2 170.5C1075.6 169.3 1076.4 170.2 1075.8 172C1075.2 173.7 1072.6 177.9 1071.1 179.1C1069.6 180.3 1067.8 179.8 1068.5 178.1C1069.1 176.4 1072.7 171.8 1074.2 170.5Z"/><path d="M1023.7 183.9A3.5 1.8 -30 1 0 1029.7 180.4A3.5 1.8 -30 1 0 1023.7 183.9Z"/><path d="M1065.7 194.5A4.9 1.2 -35 1 0 1073.7 188.9A4.9 1.2 -35 1 0 1065.7 194.5Z"/><path d="M1040.1 190.3A1 2 0 1 0 1042.2 190.3A1 2 0 1 0 1040.1 190.3Z"/><path d="M1141.3 156.3C1142.8 155.4 1145.2 155.9 1145 157.7C1144.8 159.5 1142.3 164.1 1140.3 166.9C1138.4 169.6 1135.7 172 1133.2 174C1130.7 176 1126.8 178.6 1125.1 179.1C1123.4 179.6 1122.3 178.4 1123 177C1123.7 175.7 1126.9 173.3 1129.1 170.9C1131.3 168.6 1134.2 165.2 1136.3 162.8C1138.3 160.3 1139.9 157.1 1141.3 156.3Z"/><path d="M1102.2 174.2A2.4 1.4 -30 1 0 1106.4 171.8A2.4 1.4 -30 1 0 1102.2 174.2Z"/><path d="M1112.8 180.9A2 1.4 0 1 0 1116.9 180.9A2 1.4 0 1 0 1112.8 180.9Z"/><path d="M1123 191.3A3.1 2.4 0 1 0 1129.1 191.3A3.1 2.4 0 1 0 1123 191.3Z"/><path d="M1122.8 208.3A6.5 2.6 -35 1 0 1133.5 200.8A6.5 2.6 -35 1 0 1122.8 208.3Z"/><path d="M1163.7 183.2C1164.8 179.1 1166.6 174.8 1169.9 170.9C1173.1 167.1 1175.6 166.3 1180 163.8C1184.5 161.3 1187.8 159.5 1192.3 158.3C1196.7 157.1 1200.6 156 1202.4 157.7C1204.3 159.4 1202.8 163 1201.4 166.9C1200 170.7 1198.4 173.6 1195.3 177C1192.3 180.5 1190.4 181.7 1186.1 184.2C1181.9 186.6 1178.2 187.8 1173.9 189.3C1169.7 190.7 1166.8 192.5 1164.8 191.3C1162.7 190.1 1162.7 187.2 1163.7 183.2Z"/><path d="M1214.7 195.4C1216.5 197 1217.1 203.7 1214.7 207.6C1212.2 211.5 1206.7 212.8 1202.4 214.7C1198.2 216.7 1195.7 217.6 1193.3 217.4C1190.8 217.2 1189.4 215.9 1190.2 213.7C1191 211.5 1194.3 209.4 1197.3 206.6C1200.4 203.7 1202 201.7 1205.5 199.4C1209 197.2 1212.8 193.7 1214.7 195.4Z"/><path d="M1159.7 201.5C1163.3 199.6 1166.6 200.5 1169.9 201.1C1173.1 201.7 1176.4 202.4 1176 204.5C1175.6 206.7 1171.1 208.6 1167.8 211.7C1164.6 214.7 1162.9 215.7 1159.7 219.8C1156.4 223.9 1156 229.6 1151.5 232C1147.1 234.5 1138.9 234.1 1137.3 232C1135.6 230 1140.5 226.1 1143.4 221.8C1146.2 217.6 1148.3 214.7 1151.5 210.6C1154.8 206.6 1156 203.4 1159.7 201.5Z"/><path d="M942.8 198.4C944 198 945.3 198.8 944.9 200.5C944.4 202.1 942.5 205.2 940.8 206.6C939 207.9 936.5 208 936.1 207.2C935.7 206.4 937.4 204.2 938.7 202.5C940.1 200.7 941.6 198.8 942.8 198.4Z"/><path d="M980.5 203.1C983.5 201.2 984.8 201.6 987.6 201.9C990.5 202.2 994.1 203.6 994.7 204.5C995.4 205.5 992.7 206 990.7 206.6C988.6 207.2 986.6 206.2 984.6 207.6C982.5 209 982.3 211.3 980.5 213.7C978.7 216.1 977.8 217.4 975.4 219.8C973 222.2 971.1 224.5 968.3 225.9C965.4 227.3 962.7 227.5 961.1 226.9C959.6 226.3 959.5 224.7 960.5 222.9C961.5 221 963.9 220 966.2 217.8C968.6 215.5 969.5 214.6 972.3 211.7C975.2 208.7 977.4 205.1 980.5 203.1Z"/><path d="M1004.6 201.2A3.3 1.2 -25 1 0 1010.5 198.5A3.3 1.2 -25 1 0 1004.6 201.2Z"/><path d="M996.7 204.1A1.6 0.8 -20 1 0 999.7 203A1.6 0.8 -20 1 0 996.7 204.1Z"/><path d="M1070.5 209.8A6.5 2 -30 1 0 1081.8 203.3A6.5 2 -30 1 0 1070.5 209.8Z"/><path d="M1096.3 210.9A2.6 1.6 -30 1 0 1100.9 208.3A2.6 1.6 -30 1 0 1096.3 210.9Z"/><path d="M1092.9 219.4A2.6 1.4 0 1 0 1098.2 219.4A2.6 1.4 0 1 0 1092.9 219.4Z"/><path d="M1013.9 189.3A1.2 0.6 0 1 0 1016.3 189.3A1.2 0.6 0 1 0 1013.9 189.3Z"/><path d="M1020.8 193.7A0.8 0.8 0 1 0 1022.4 193.7A0.8 0.8 0 1 0 1020.8 193.7Z"/><path d="M944.9 232C944.4 230.6 948.7 226.1 951 224.9C953.2 223.7 955.6 224.5 956.1 225.9C956.5 227.3 955.2 230.8 953 232C950.8 233.2 945.3 233.4 944.9 232Z"/><path d="M1127.3 155.7A1.2 1 0 1 0 1129.7 155.7A1.2 1 0 1 0 1127.3 155.7Z"/><path d="M1200.4 232C1200.4 230.4 1211.8 223.9 1214.7 223.9C1217.5 223.9 1217.5 230.4 1214.7 232C1211.8 233.7 1200.4 233.7 1200.4 232Z"/><path d="M1050.3 224.3A0.8 0.6 0 1 0 1052 224.3A0.8 0.6 0 1 0 1050.3 224.3Z"/><path d="M1269.8 14.1A1.6 1.4 0 1 0 1273.1 14.1A1.6 1.4 0 1 0 1269.8 14.1Z"/><path d="M1304.4 21.7A1.2 0.8 0 1 0 1306.9 21.7A1.2 0.8 0 1 0 1304.4 21.7Z"/><path d="M1334.2 7C1335.6 5.9 1338.5 5.8 1338.2 7.6C1338 9.5 1335.2 13.6 1333.2 16.2C1331.1 18.8 1329.3 20.3 1328.1 20.7C1326.8 21.1 1326.4 19.7 1327 18.2C1327.7 16.7 1329.7 15.4 1331.1 13.1C1332.5 10.9 1332.7 8.1 1334.2 7Z"/><path d="M1341.1 11.7A1.2 3.3 0 1 0 1343.5 11.7A1.2 3.3 0 1 0 1341.1 11.7Z"/><path d="M1361.7 6C1363.4 3.8 1368.6 4 1370.4 6C1372.3 8 1371.4 12.5 1370.8 16.2C1370.3 19.8 1368.7 21.7 1367.8 24.3C1366.9 27 1367 29.4 1366.3 29.4C1365.7 29.4 1365.2 26.8 1364.3 24.3C1363.4 21.9 1362.2 20.9 1361.7 17.2C1361.1 13.5 1359.9 8.2 1361.7 6Z"/><path d="M1376.7 8.4A2.6 1.6 0 1 0 1382 8.4A2.6 1.6 0 1 0 1376.7 8.4Z"/><path d="M1308.3 33.9A2 2.2 0 1 0 1312.4 33.9A2 2.2 0 1 0 1308.3 33.9Z"/><path d="M1241.5 42.2A1 1.4 0 1 0 1243.6 42.2A1 1.4 0 1 0 1241.5 42.2Z"/><path d="M1430.9 6C1433.1 4.5 1437.9 4.3 1438 6C1438.2 7.7 1434 13.1 1431.9 16.2C1429.9 19.2 1427.7 21.6 1425.8 24.3C1423.9 27 1422.1 31.5 1420.7 32.5C1419.4 33.5 1417.8 32 1417.7 30.4C1417.5 28.9 1418.5 25.9 1419.7 23.3C1420.9 20.8 1422.9 18 1424.8 15.2C1426.7 12.3 1428.7 7.5 1430.9 6Z"/><path d="M1476.7 6C1479.3 4.5 1483.8 4.5 1483.8 6C1483.8 7.5 1479.3 12.8 1476.7 15.2C1474.2 17.5 1470.9 18.4 1468.6 20.3C1466.2 22.1 1464.7 23.5 1462.5 26.4C1460.3 29.2 1457.5 35.9 1455.3 37.6C1453.1 39.3 1451.3 36.5 1449.2 36.5C1447.2 36.5 1445 36.5 1443.1 37.6C1441.2 38.6 1439.6 40.8 1438 42.7C1436.5 44.5 1434 47.2 1434 48.8C1434 50.3 1436.3 50.5 1438 51.8C1439.7 53.2 1443.5 55 1444.1 56.9C1444.8 58.8 1442.9 60.3 1442.1 63C1441.2 65.7 1440.2 71.7 1439 73.2C1437.9 74.7 1435.5 73.5 1435 72.2C1434.5 70.8 1436 67.4 1436 65.1C1436 62.7 1436 59.8 1435 57.9C1434 56.1 1431.6 54.2 1429.9 53.9C1428.2 53.5 1426.1 54.7 1424.8 55.9C1423.4 57.1 1422.1 58.9 1421.7 61C1421.4 63 1422.8 66.1 1422.8 68.1C1422.8 70.1 1422.4 73 1421.7 73.2C1421.1 73.4 1420 70.5 1418.7 69.1C1417.3 67.8 1414.1 66.7 1413.6 65.1C1413.1 63.4 1414.4 61 1415.6 58.9C1416.8 56.9 1418.8 54.7 1420.7 52.8C1422.6 51 1426.1 49.3 1426.8 47.7C1427.5 46.2 1424.4 45.2 1424.8 43.7C1425.1 42.1 1427.2 40.3 1428.9 38.6C1430.6 36.9 1432.9 35.2 1435 33.5C1437 31.8 1439.7 30.1 1441.1 28.4C1442.4 26.7 1442.1 23.6 1443.1 23.3C1444.1 23 1445.3 25.7 1447.2 26.4C1449.1 27 1451.9 28.2 1454.3 27.4C1456.7 26.5 1459.1 23.3 1461.4 21.3C1463.8 19.2 1466 17.7 1468.6 15.2C1471.1 12.6 1474.2 7.5 1476.7 6Z"/><path d="M1494 9.1C1494.9 8.5 1495.8 9.9 1495.4 12.1C1495.1 14.3 1492.2 19.7 1492 22.3C1491.7 24.8 1494.9 25.3 1494 27.4C1493.2 29.4 1488.6 32 1486.9 34.5C1485.2 37.1 1484.5 39.9 1483.8 42.7C1483.2 45.4 1483.8 49.3 1482.8 50.8C1481.8 52.3 1478.9 52.7 1477.7 51.8C1476.5 51 1476.7 47.2 1475.7 45.7C1474.7 44.2 1471.6 44.2 1471.6 42.7C1471.6 41.1 1474.2 38.7 1475.7 36.5C1477.2 34.3 1479.1 31.8 1480.8 29.4C1482.5 27 1484.3 24.7 1485.9 22.3C1487.4 19.9 1488.6 17.4 1489.9 15.2C1491.3 13 1493.1 9.6 1494 9.1Z"/><path d="M1454.3 64C1455.5 62.6 1457 61.8 1459.4 62C1461.8 62.2 1464.9 63.2 1466.5 65.1C1468.2 66.9 1468 68.9 1467.5 71.2C1467.1 73.4 1466.7 75.2 1464.5 76.3C1462.3 77.3 1459.2 75.4 1456.3 76.3C1453.5 77.1 1452.4 79.9 1450.2 80.3C1448.1 80.7 1446 79.7 1445.8 78.3C1445.6 76.9 1447.7 75 1449.2 73.2C1450.7 71.4 1452.3 71 1453.3 69.1C1454.3 67.3 1453.1 65.5 1454.3 64Z"/><path d="M1475.8 60.5A1.6 4.1 35 1 0 1478.5 62.3A1.6 4.1 35 1 0 1475.8 60.5Z"/><path d="M1509.2 60.6A1.2 4.9 20 1 0 1511.5 61.4A1.2 4.9 20 1 0 1509.2 60.6Z"/><path d="M1515.8 74.8A1.2 1.2 0 1 0 1518.3 74.8A1.2 1.2 0 1 0 1515.8 74.8Z"/><path d="M1383 41.6C1383.5 40.2 1385.3 39.8 1387.1 40.6C1388.9 41.4 1390.2 45.3 1392.2 45.7C1394.2 46.1 1395.3 45.1 1397.3 42.7C1399.3 40.2 1400.4 35.1 1402.4 33.5C1404.3 31.9 1406.5 32.7 1407.1 34.5C1407.7 36.3 1406.8 39.6 1405.4 42.7C1404.1 45.7 1402.2 47.3 1400.4 49.8C1398.5 52.2 1396.7 52.6 1396.3 54.9C1395.9 57.1 1396.7 59.6 1398.3 61C1399.9 62.4 1404 60.8 1404.4 62C1404.8 63.2 1402.6 65.7 1400.4 67.1C1398.1 68.5 1395.7 67.9 1393.2 69.1C1390.8 70.3 1390 72.8 1388.1 73.2C1386.3 73.6 1384.9 73.2 1384.1 71.2C1383.2 69.1 1383.7 66.3 1384.1 63C1384.5 59.8 1386 57.9 1386.1 54.9C1386.2 51.8 1385.3 50.4 1384.7 47.7C1384.1 45.1 1382.6 43.1 1383 41.6Z"/><path d="M1355.6 70.6A2 11.6 -12 1 0 1359.6 69.7A2 11.6 -12 1 0 1355.6 70.6Z"/><path d="M1342.3 41C1343.7 39.8 1345.4 40.7 1345.4 42.7C1345.4 44.6 1343.2 49.1 1342.3 52.8C1341.5 56.6 1340.1 62.7 1340.3 65.1C1340.5 67.4 1344 66.1 1343.3 67.1C1342.7 68.1 1337.7 69.1 1336.2 71.2C1334.7 73.2 1334 76.9 1334.2 79.3C1334.3 81.7 1336 83.7 1337.2 85.4C1338.4 87.1 1340.8 88 1341.3 89.5C1341.8 91 1341.8 93.4 1340.3 94.6C1338.8 95.8 1334.3 95.3 1332.1 96.6C1329.9 98 1328.6 100.9 1327 102.7C1325.5 104.6 1323.9 107.5 1323 107.8C1322.1 108.2 1321.2 106.8 1321.5 104.8C1321.9 102.7 1323.9 98.8 1325 95.6C1326.1 92.4 1327.4 89.1 1328.1 85.4C1328.7 81.7 1328.2 77.3 1329.1 73.2C1329.9 69.1 1331.8 64.9 1333.2 61C1334.5 57.1 1335.7 53.1 1337.2 49.8C1338.8 46.5 1341 42.2 1342.3 41Z"/><path d="M1324 46.3C1325.4 46.1 1327.4 47.2 1327 48.8C1326.7 50.4 1324.2 53.5 1322 55.9C1319.8 58.3 1316.5 60.3 1313.8 63C1311.1 65.7 1308.4 69.1 1305.7 72.2C1303 75.2 1300.4 78.5 1297.5 81.3C1294.6 84.2 1291.1 87.1 1288.4 89.5C1285.6 91.9 1282.8 95.1 1281.2 95.6C1279.7 96.1 1278.5 94.2 1279.2 92.5C1279.9 90.8 1282.9 88.1 1285.3 85.4C1287.7 82.7 1290.6 79.5 1293.4 76.3C1296.3 73 1299.6 69.3 1302.6 66.1C1305.7 62.8 1309.1 59.6 1311.8 56.9C1314.5 54.2 1316.9 51.5 1318.9 49.8C1320.9 48 1322.6 46.5 1324 46.3Z"/><path d="M1285.3 58.5C1287.5 58.2 1289.8 58 1290.4 59.3C1291 60.7 1290.2 63.3 1288.4 65.1C1286.5 66.8 1283.5 66.5 1281.2 68.1C1279 69.7 1278.8 70.8 1277.2 73.2C1275.5 75.6 1274.9 78.5 1273.1 80.3C1271.3 82.2 1269.3 82.8 1268 82.4C1266.7 82 1266.2 80.5 1266.6 78.3C1267 76 1268.7 73.6 1270 71.2C1271.3 68.7 1271.3 68.1 1273.1 66.1C1274.9 64 1276.8 62.5 1279.2 61C1281.6 59.5 1283.1 58.9 1285.3 58.5Z"/><path d="M1233.4 64C1235 63.5 1237 64 1237.5 65.5C1237.9 66.9 1236.8 69.4 1235.4 71.2C1234 72.9 1232 74 1230.3 74.2C1228.7 74.4 1227.5 73.4 1227.3 72.2C1227.1 71 1228.1 69.7 1229.3 68.1C1230.5 66.5 1231.8 64.6 1233.4 64Z"/><path d="M1225.8 80.9C1227.2 80.1 1227.9 80.9 1227.3 82.4C1226.7 83.8 1224 87 1222.2 89.5C1220.3 92 1217.4 96.2 1216.1 97.2C1214.7 98.2 1213.5 97.2 1214 95.6C1214.5 94 1217.2 89.9 1219.1 87.4C1221.1 85 1224.5 81.8 1225.8 80.9Z"/><path d="M1306 81.9A1.6 5.7 40 1 0 1308.5 84A1.6 5.7 40 1 0 1306 81.9Z"/><path d="M1266.1 97A1.8 6.1 35 1 0 1269.1 99.1A1.8 6.1 35 1 0 1266.1 97Z"/><path d="M1284.3 106.4A2.4 2 0 1 0 1289.2 106.4A2.4 2 0 1 0 1284.3 106.4Z"/><path d="M1249.7 99.7C1251.3 99.3 1252.7 100.1 1252.7 101.7C1252.7 103.3 1251.7 105.8 1249.7 107.8C1247.6 109.8 1245.4 110.3 1242.5 111.9C1239.7 113.5 1237.2 115.8 1235.4 116C1233.6 116.2 1233 114.5 1233.4 112.9C1233.8 111.3 1235.2 109.7 1237.5 107.8C1239.7 105.9 1242.1 105 1244.6 103.3C1247 101.7 1248 100 1249.7 99.7Z"/><path d="M1312.8 101.7C1314 101.3 1315.6 101.7 1315.8 103.7C1316.1 105.8 1315.4 109.2 1313.8 111.9C1312.2 114.5 1310.4 114.9 1307.7 117C1305.1 119 1303.2 119.8 1300.6 122.1C1297.9 124.3 1296.5 126.7 1294.5 128.2C1292.4 129.6 1292.1 130 1290.4 129.2C1288.6 128.4 1286.5 126.1 1285.7 124.1C1284.9 122.1 1285 120.6 1286.3 119C1287.7 117.4 1289.8 116.6 1292.4 116C1295.1 115.3 1297.1 117 1299.6 116C1302 114.9 1302.6 112.9 1304.6 110.9C1306.7 108.8 1308.1 107.6 1309.7 105.8C1311.4 103.9 1311.6 102.1 1312.8 101.7Z"/><path d="M1327.1 119.1A2 8.6 10 1 0 1331.1 119.8A2 8.6 10 1 0 1327.1 119.1Z"/><path d="M1242.5 121.7C1244.4 121 1245.3 121.8 1244.6 123.1C1243.9 124.3 1241 127.2 1238.5 129.2C1235.9 131.2 1231.3 134.5 1229.3 135.3C1227.3 136.1 1226 135.2 1226.7 133.9C1227.3 132.5 1230.7 129.2 1233.4 127.2C1236 125.1 1240.7 122.3 1242.5 121.7Z"/><path d="M1241.5 136.7C1242.7 136.6 1244.1 136.7 1243.6 138.4C1243.1 140 1240.2 143.4 1238.5 146.5C1236.8 149.6 1235.2 153.6 1233.4 156.7C1231.5 159.7 1229.5 162.6 1227.3 164.8C1225.1 167 1222.9 168.6 1220.1 169.9C1217.4 171.3 1212.5 173.1 1211 173C1209.5 172.8 1209.8 170.4 1211 168.9C1212.2 167.4 1215.9 166 1218.1 163.8C1220.3 161.6 1222.2 158.5 1224.2 155.7C1226.3 152.8 1228.3 149.2 1230.3 146.5C1232.4 143.8 1234.6 141 1236.4 139.4C1238.3 137.7 1240.3 136.9 1241.5 136.7Z"/><path d="M1315.8 121.7C1317.6 120.6 1318.6 121.6 1318.3 123.7C1318 125.8 1315.7 130.8 1313.8 134.3C1311.9 137.7 1309.4 141.1 1306.7 144.5C1304 147.9 1300.6 151.3 1297.5 154.6C1294.5 158 1291.4 161.4 1288.4 164.8C1285.3 168.2 1281.2 173.7 1279.2 175C1277.2 176.4 1275.8 174.8 1276.1 173C1276.5 171.1 1279 167.2 1281.2 163.8C1283.4 160.4 1286.5 156.3 1289.4 152.6C1292.3 148.9 1295.5 145.1 1298.5 141.4C1301.6 137.7 1304.8 133.5 1307.7 130.2C1310.6 126.9 1314.1 122.7 1315.8 121.7Z"/><path d="M1275.1 134.3C1278.6 133.2 1280.3 133.1 1282.3 133.9C1284.2 134.7 1284.9 135.8 1284.9 138.4C1284.9 140.9 1283.4 143.7 1282.3 146.5C1281.1 149.4 1281 150.2 1279.2 152.6C1277.4 155.1 1275.5 155.9 1273.1 158.7C1270.6 161.6 1269.2 163.6 1267 166.9C1264.7 170.1 1264.1 172.2 1261.9 175C1259.6 177.9 1258.4 179.8 1255.8 181.1C1253.1 182.4 1251.3 182.1 1248.7 181.5C1246 180.9 1244.5 180.2 1242.5 178.1C1240.6 175.9 1239.5 174 1238.9 170.9C1238.3 167.9 1238.3 165.8 1239.5 162.8C1240.6 159.7 1242.1 158.3 1244.6 155.7C1247 153 1249.1 151.8 1251.7 149.6C1254.4 147.3 1255.2 146.5 1257.8 144.5C1260.5 142.4 1261.5 141.4 1264.9 139.4C1268.4 137.3 1271.7 135.4 1275.1 134.3Z"/><path d="M1362.7 112.7A1.4 3.3 0 1 0 1365.5 112.7A1.4 3.3 0 1 0 1362.7 112.7Z"/><path d="M1394.2 80.9C1395.4 80.3 1398.3 81.1 1398.3 82.4C1398.3 83.6 1394.1 86.9 1394.2 88.5C1394.4 90 1397.1 90.3 1399.3 91.5C1401.5 92.7 1404.4 95.3 1407.5 95.6C1410.5 95.9 1414.3 94.4 1417.7 93.6C1421.1 92.7 1424.8 91.4 1427.8 90.5C1430.9 89.7 1434.2 88.1 1436 88.5C1437.8 88.8 1438.9 91.2 1438.4 92.5C1437.9 93.9 1435 95.1 1432.9 96.6C1430.8 98.1 1428 99.8 1425.8 101.7C1423.6 103.6 1421.9 105.8 1419.7 107.8C1417.5 109.8 1415.1 112.1 1412.6 113.9C1410 115.8 1406.3 119 1404.4 119C1402.6 119 1402.4 115.8 1401.4 113.9C1400.4 112.1 1399.7 109 1398.3 107.8C1397 106.6 1394.8 106.1 1393.2 106.8C1391.7 107.5 1389.8 109.7 1389.2 111.9C1388.5 114.1 1388.6 117.3 1389.2 120C1389.7 122.7 1391.5 125.5 1392.2 128.2C1392.9 130.9 1393.7 134.1 1393.2 136.3C1392.7 138.5 1390.9 140.5 1389.2 141.4C1387.5 142.4 1384.6 142.9 1383 142C1381.5 141.2 1380.3 138.6 1380 136.3C1379.7 134 1381.5 130.4 1381 128.2C1380.5 126 1378 124.6 1376.9 123.1C1375.8 121.6 1374.5 120.9 1374.5 119C1374.5 117.1 1376 114.4 1376.9 111.9C1377.9 109.3 1378.6 106.5 1380 103.7C1381.3 101 1383.9 97.8 1385.1 95.6C1386.3 93.4 1386.1 92 1387.1 90.5C1388.1 89 1390 88 1391.2 86.4C1392.4 84.8 1393.1 81.6 1394.2 80.9Z"/><path d="M1439 101.7A3.1 2.9 0 1 0 1445.2 101.7A3.1 2.9 0 1 0 1439 101.7Z"/><path d="M1412.6 124.1C1413.8 123.9 1415 124.1 1414.6 126.1C1414.2 128.2 1412.4 130.9 1410.5 134.3C1408.7 137.6 1407.1 141.4 1405.4 142.8C1403.8 144.3 1402.6 143.3 1402.4 141.4C1402.2 139.5 1403.2 136.1 1404.4 133.3C1405.6 130.4 1406.9 129 1408.5 127.2C1410.1 125.3 1411.3 124.3 1412.6 124.1Z"/><path d="M1347.3 138.3A1.8 7.7 15 1 0 1350.8 139.2A1.8 7.7 15 1 0 1347.3 138.3Z"/><path d="M1356.3 143.8A1.6 8.1 40 1 0 1358.8 145.9A1.6 8.1 40 1 0 1356.3 143.8Z"/><path d="M1364.7 151C1367 149.6 1368 150.9 1367.8 152.6C1367.6 154.4 1365.7 157.1 1363.7 159.7C1361.7 162.4 1359.8 163.2 1357.6 165.8C1355.4 168.5 1354.3 171.8 1352.5 173C1350.7 174.2 1349.2 173.4 1348.8 172C1348.4 170.5 1348.9 168.3 1350.5 165.8C1352 163.4 1353.7 162.7 1356.6 159.7C1359.4 156.8 1362.5 152.4 1364.7 151Z"/><path d="M1379.4 152.5A1 1.8 20 1 0 1381.4 153.2A1 1.8 20 1 0 1379.4 152.5Z"/><path d="M1372.9 146.1A1 1 0 1 0 1374.9 146.1A1 1 0 1 0 1372.9 146.1Z"/><path d="M1492 98.6A2 1.6 0 1 0 1496.1 98.6A2 1.6 0 1 0 1492 98.6Z"/><path d="M1499.7 103.3A2.4 1.8 0 1 0 1504.6 103.3A2.4 1.8 0 1 0 1499.7 103.3Z"/><path d="M1481.2 106.6A2 1.2 0 1 0 1485.3 106.6A2 1.2 0 1 0 1481.2 106.6Z"/><path d="M1492 112.9A2 2 0 1 0 1496.1 112.9A2 2 0 1 0 1492 112.9Z"/><path d="M1477.7 119C1477.6 117.6 1483.4 113.5 1484.9 113.9C1486.4 114.3 1486.7 120 1485.3 121C1483.8 122.1 1477.8 120.4 1477.7 119Z"/><path d="M1503.8 127.6A2.4 2 0 1 0 1508.7 127.6A2.4 2 0 1 0 1503.8 127.6Z"/><path d="M1520.5 140.4A2 2 0 1 0 1524.6 140.4A2 2 0 1 0 1520.5 140.4Z"/><path d="M1496.1 139.1A1 4.1 15 1 0 1498.1 139.6A1 4.1 15 1 0 1496.1 139.1Z"/><path d="M1480.4 145.5A2.4 2 0 1 0 1485.3 145.5A2.4 2 0 1 0 1480.4 145.5Z"/><path d="M1479.4 151A2.4 2 0 1 0 1484.2 151A2.4 2 0 1 0 1479.4 151Z"/><path d="M1466.7 152.2A1.2 5.1 45 1 0 1468.4 153.9A1.2 5.1 45 1 0 1466.7 152.2Z"/><path d="M1521.1 163.4A1.4 1.4 0 1 0 1524 163.4A1.4 1.4 0 1 0 1521.1 163.4Z"/><path d="M1507.2 174.9A5.1 1.2 -35 1 0 1515.5 169A5.1 1.2 -35 1 0 1507.2 174.9Z"/><path d="M1478.9 172.9A3.1 1 20 1 0 1484.7 175A3.1 1 20 1 0 1478.9 172.9Z"/><path d="M1476.1 183.7A3.1 1.6 -30 1 0 1481.4 180.6A3.1 1.6 -30 1 0 1476.1 183.7Z"/><path d="M1424.8 144.1A1.6 1.2 0 1 0 1428 144.1A1.6 1.2 0 1 0 1424.8 144.1Z"/><path d="M1431.2 153A2.4 1.2 -30 1 0 1435.5 150.6A2.4 1.2 -30 1 0 1431.2 153Z"/><path d="M1433.4 170.2A4.5 1.6 -25 1 0 1441.5 166.4A4.5 1.6 -25 1 0 1433.4 170.2Z"/><path d="M1369.8 189.3C1371.4 187.6 1374.5 188 1376.9 187.2C1379.4 186.4 1381.8 184.6 1382 185.2C1382.2 185.8 1379.8 188.9 1378 190.3C1376.1 191.7 1374.6 191.3 1372.9 192.3C1371.1 193.3 1369.8 196 1369.2 195.4C1368.6 194.8 1368.3 190.9 1369.8 189.3Z"/><path d="M1410.4 185.3A1 6.1 40 1 0 1411.9 186.7A1 6.1 40 1 0 1410.4 185.3Z"/><path d="M1394.2 195.4A2 2 0 1 0 1398.3 195.4A2 2 0 1 0 1394.2 195.4Z"/><path d="M1404.4 197.4A4.1 2.4 0 1 0 1412.6 197.4A4.1 2.4 0 1 0 1404.4 197.4Z"/><path d="M1416.6 197A2 2 0 1 0 1420.7 197A2 2 0 1 0 1416.6 197Z"/><path d="M1397.6 204.2A5.1 2 -20 1 0 1407.2 200.8A5.1 2 -20 1 0 1397.6 204.2Z"/><path d="M1393 201.9A1.2 1 0 1 0 1395.5 201.9A1.2 1 0 1 0 1393 201.9Z"/><path d="M1229.3 189.3C1229.7 188 1231.8 185.5 1234.4 184.2C1237 182.9 1241.7 182.5 1242.5 182.7C1243.4 182.9 1240.5 183.7 1238.5 185.2C1236.4 186.7 1234.2 189.5 1232.4 190.3C1230.5 191.1 1228.9 190.5 1229.3 189.3Z"/><path d="M1248.1 197.6A9.2 1.4 -40 1 0 1262.2 185.8A9.2 1.4 -40 1 0 1248.1 197.6Z"/><path d="M1284.3 188.2C1285.7 187.8 1286.7 188.4 1286.3 190.3C1285.9 192.1 1283.9 195 1282.3 197.4C1280.6 199.9 1279.5 202.3 1278.2 202.5C1276.8 202.7 1276.3 199.9 1275.5 198.4C1274.7 197 1273.4 196.6 1274.1 195.4C1274.8 194.1 1277.2 193.7 1279.2 192.3C1281.2 190.9 1282.9 188.7 1284.3 188.2Z"/><path d="M1303.6 195.4C1305.5 193.9 1309.8 192.1 1311.8 192.3C1313.7 192.5 1314 194.8 1313.4 196.4C1312.8 198 1310.4 199.1 1308.7 200.5C1307.1 201.8 1306.5 203.3 1305.3 203.1C1304 202.9 1302.9 201 1302.6 199.4C1302.3 197.9 1301.8 196.8 1303.6 195.4Z"/><path d="M1292.4 214.7C1294.4 213.5 1296.8 213.2 1299.6 212.7C1302.3 212.1 1305.1 211 1306.1 212.1C1307.1 213.1 1306.2 215.6 1304.6 217.8C1303.1 219.9 1301.2 221.7 1298.5 222.9C1295.9 224 1293.2 224.3 1291.4 223.5C1289.7 222.7 1289.6 220.5 1289.8 218.8C1290 217 1290.5 215.9 1292.4 214.7Z"/><path d="M1211 221.8C1212.8 218.2 1216.3 217 1220.1 213.7C1224 210.4 1226.9 207.8 1230.3 205.6C1233.8 203.3 1235.6 202.1 1237.5 202.5C1239.3 202.9 1239.7 204.9 1239.5 207.6C1239.3 210.2 1235.8 213.7 1236.4 215.7C1237 217.8 1239.7 218.8 1242.5 217.8C1245.4 216.8 1248 211.9 1250.7 210.6C1253.3 209.4 1255.2 209.8 1255.8 211.7C1256.4 213.5 1255.4 215.7 1253.7 219.8C1252.1 223.9 1256.2 229.6 1247.6 232C1239.1 234.5 1218.3 234.1 1211 232C1203.7 230 1209.1 225.5 1211 221.8Z"/><path d="M1268 217.4C1269.8 216.5 1271.5 216.9 1271.1 218.8C1270.6 220.7 1268 224.3 1266 226.9C1263.9 229.6 1262.5 231.4 1260.9 232C1259.2 232.6 1257.6 231.8 1257.8 230C1258 228.2 1259.9 225.4 1261.9 222.9C1263.9 220.3 1266.2 218.2 1268 217.4Z"/><path d="M1424 209A1 2.4 40 1 0 1425.6 210.3A1 2.4 40 1 0 1424 209Z"/><path d="M1450.2 202.9C1452.4 201.9 1453.1 203 1451.9 204.5C1450.6 206.1 1447.5 207.8 1444.1 210.6C1440.8 213.5 1437.1 217.6 1435 218.8C1432.9 220 1432.3 218.6 1433.5 216.8C1434.8 214.9 1437.7 212.4 1441.1 209.6C1444.4 206.9 1448.1 203.9 1450.2 202.9Z"/><path d="M1505.2 180.1C1506.9 179.6 1506.9 183.2 1508.3 185.2C1509.6 187.2 1510.6 190.4 1513.4 192.3C1516.1 194.2 1522.4 195 1524.6 196.4C1526.8 197.7 1528.1 200 1526.6 200.5C1525.1 201 1519 199.4 1515.4 199.4C1511.8 199.4 1508.4 199.6 1505.2 200.5C1502 201.3 1498.9 203.5 1496.1 204.5C1493.2 205.6 1489.8 205 1487.9 206.6C1486 208.1 1486.2 211.2 1484.9 213.7C1483.5 216.2 1481.8 219.6 1479.8 221.8C1477.7 224 1474.2 226.9 1472.6 226.9C1471 226.9 1471 223.7 1470.2 221.8C1469.3 220 1469.3 217.6 1467.5 215.7C1465.8 213.9 1459.6 211.8 1459.4 210.6C1459.2 209.5 1464 209.3 1466.5 208.6C1469.1 207.9 1472 207.6 1474.7 206.6C1477.4 205.6 1480.1 204.2 1482.8 202.5C1485.5 200.8 1488.4 198.8 1491 196.4C1493.5 194 1495.7 191 1498.1 188.2C1500.5 185.5 1503.5 180.6 1505.2 180.1Z"/><path d="M1374.9 232C1369.6 230.6 1376.9 226.5 1379 224.9C1381 223.3 1382.6 223.5 1385.1 223.9C1387.5 224.3 1388.3 226.3 1391.2 226.9C1394 227.5 1396.1 228 1399.3 226.9C1402.6 225.9 1404.2 223.9 1407.5 221.8C1410.7 219.8 1413.8 217.2 1415.6 216.8C1417.5 216.3 1417.7 217.8 1416.6 219.8C1415.6 221.8 1412.8 224.5 1410.5 226.9C1408.3 229.4 1412.6 231 1405.4 232C1398.3 233 1380.2 233.4 1374.9 232Z"/><path d="M1400.1 177A1.2 0.8 0 1 0 1402.6 177A1.2 0.8 0 1 0 1400.1 177Z"/><path d="M1422.1 175A1 0.6 0 1 0 1424.2 175A1 0.6 0 1 0 1422.1 175Z"/><path d="M1465.5 182.7A1 0.8 0 1 0 1467.5 182.7A1 0.8 0 1 0 1465.5 182.7Z"/><path d="M1502 206.6A1.2 0.6 0 1 0 1504.4 206.6A1.2 0.6 0 1 0 1502 206.6Z"/><path d="M1210.6 197.2A1.6 0.8 -30 1 0 1213.4 195.6A1.6 0.8 -30 1 0 1210.6 197.2Z"/><path d="M1380.7 198.3A1.4 0.8 -20 1 0 1383.4 197.3A1.4 0.8 -20 1 0 1380.7 198.3Z"/><path d="M944.9 230C947.5 229.2 952.4 228.6 953 230C953.6 231.4 950.3 234.9 947.9 237.1C945.5 239.3 942.9 240.8 940.8 241.2C938.7 241.6 937.5 240.6 937.3 239.1C937.1 237.7 938.3 235.9 939.8 234.1C941.3 232.2 942.2 230.8 944.9 230Z"/><path d="M1109.8 230C1111 229 1113 228.8 1112.8 230C1112.6 231.2 1110 235.1 1108.8 236.1C1107.5 237.1 1106.5 236.3 1106.7 235.1C1106.9 233.9 1108.6 231 1109.8 230Z"/><path d="M1137.3 230C1140.5 229 1148.1 228.4 1149.5 230C1150.9 231.6 1147.1 235.7 1144.4 238.1C1141.8 240.6 1139.3 241.2 1136.3 242.2C1133.2 243.2 1130.6 243.6 1129.1 243.2C1127.6 242.8 1127.9 241.8 1128.7 240.2C1129.5 238.5 1131.5 237.1 1133.2 235.1C1134.9 233 1134 231 1137.3 230Z"/><path d="M1186.1 230C1192.3 228.8 1209 220.8 1214.7 230C1220.4 239.1 1215.9 265.4 1214.7 275.8C1213.4 286.2 1211.2 280 1208.5 281.9C1205.9 283.9 1204.7 285.4 1201.4 285.6C1198.2 285.8 1194.9 284.3 1192.3 282.9C1189.6 281.6 1188.4 281.1 1188.2 278.9C1188 276.6 1189.8 274.6 1191.2 271.7C1192.7 268.9 1195.1 267.4 1195.3 264.6C1195.5 261.7 1194.1 259.7 1192.3 257.5C1190.4 255.2 1189 254.6 1186.1 253.4C1183.3 252.2 1181.3 251.8 1178 251.4C1174.7 251 1172.2 251.8 1169.9 251.4C1167.5 251 1165.8 250.5 1166.2 249.3C1166.6 248.1 1169.3 246.7 1171.9 245.3C1174.5 243.8 1176.6 244 1179 242.2C1181.5 240.4 1182.7 238.5 1184.1 236.1C1185.5 233.6 1180 231.2 1186.1 230Z"/><path d="M1061.1 244.8A6.1 3.1 -15 1 0 1072.9 241.6A6.1 3.1 -15 1 0 1061.1 244.8Z"/><path d="M915.4 266.3A3.5 6.1 30 1 0 921.4 269.8A3.5 6.1 30 1 0 915.4 266.3Z"/><path d="M906.5 283.2A1.8 7.3 25 1 0 909.9 284.7A1.8 7.3 25 1 0 906.5 283.2Z"/><path d="M970.3 261.5C971.5 261.2 973.9 261.9 973.4 263.6C972.9 265.3 969.8 268.8 967.3 271.7C964.7 274.6 961.1 278 958.1 280.9C955 283.8 951.3 287.2 948.9 289C946.5 290.8 945 291.8 943.8 291.7C942.7 291.5 941.4 289.6 942.2 288C943.1 286.4 946.3 284.3 948.9 281.9C951.6 279.5 955.2 276.5 958.1 273.8C961 271 964.2 267.7 966.2 265.6C968.3 263.6 969.1 261.9 970.3 261.5Z"/><path d="M983.2 267.8A6.5 1.6 -40 1 0 993.2 259.4A6.5 1.6 -40 1 0 983.2 267.8Z"/><path d="M986.6 275.8C988.5 275.2 989.6 276.5 988.6 278.2C987.6 279.9 983.5 283.5 980.5 286C977.4 288.5 973.5 290.9 970.3 293.1C967.1 295.3 963 298.6 961.1 299.2C959.3 299.8 958.1 298.1 959.1 296.6C960.1 295 964.2 292.5 967.3 290.1C970.3 287.6 974.2 284.3 977.4 281.9C980.7 279.5 984.7 276.4 986.6 275.8Z"/><path d="M921.9 311.4A8.1 1.8 -42 1 0 934 300.5A8.1 1.8 -42 1 0 921.9 311.4Z"/><path d="M1070.1 270.7C1072.1 270.4 1073.5 271.5 1073.1 272.7C1072.7 274 1070.5 275.2 1068 276.8C1065.6 278.4 1062.8 280.4 1060.9 280.9C1059.1 281.4 1058.5 280.8 1058.9 279.5C1059.3 278.1 1060.7 275.9 1063 274.2C1065.2 272.4 1068 271 1070.1 270.7Z"/><path d="M1051.9 290.6A3.1 1.2 20 1 0 1057.7 292.7A3.1 1.2 20 1 0 1051.9 290.6Z"/><path d="M1142.4 276.8C1144 275.4 1146.8 274.2 1150.5 272.7C1154.2 271.3 1156.8 270.7 1160.7 269.7C1164.6 268.7 1167.8 267.2 1169.9 267.7C1171.9 268.1 1172.1 270.3 1170.9 271.7C1169.7 273.2 1167 273.8 1163.7 274.8C1160.5 275.8 1158 275.8 1154.6 276.8C1151.1 277.8 1148.9 279.3 1146.4 279.9C1144 280.5 1143.2 280.5 1142.4 279.9C1141.6 279.3 1140.7 278.2 1142.4 276.8Z"/><path d="M1181.7 287.4A0.8 3.3 15 1 0 1183.3 287.8A0.8 3.3 15 1 0 1181.7 287.4Z"/><path d="M1192.3 303.5A2.4 1.6 0 1 0 1197.1 303.5A2.4 1.6 0 1 0 1192.3 303.5Z"/><path d="M1163.7 312C1165 312 1165.8 317.2 1164.8 318.6C1163.7 319.9 1158.9 320.3 1158.7 319C1158.5 317.7 1162.5 312.1 1163.7 312Z"/><path d="M1098 317.3A9.2 4.1 -5 1 0 1116.3 315.7A9.2 4.1 -5 1 0 1098 317.3Z"/><path d="M952 325.1C953.6 324.3 954 328.4 955 330.8C956.1 333.1 957.9 335.5 957.1 336.9C956.3 338.3 953.3 337.1 951 337.9C948.6 338.7 946.3 341.6 945.5 341C944.6 340.3 945.6 338 946.9 334.8C948.2 331.7 950.3 325.9 952 325.1Z"/><path d="M992.7 342C992.7 340.4 995.4 337.1 997.8 334.8C1000.2 332.6 1002.1 333 1004.9 330.8C1007.8 328.5 1009.4 325.5 1012 323.6C1014.7 321.8 1015.7 321.6 1018.2 321.6C1020.6 321.6 1022 324.1 1024.3 323.6C1026.5 323.2 1027.2 320.4 1029.4 319.6C1031.5 318.8 1034.7 318.8 1035.1 319.6C1035.5 320.4 1033.6 322.2 1031.4 323.6C1029.2 325.1 1026.3 325.1 1024.3 326.7C1022.2 328.3 1023.2 330 1021.2 331.8C1019.2 333.6 1017.3 334.4 1014.1 335.9C1010.8 337.3 1008.2 337.6 1004.9 338.9C1001.7 340.3 1000.2 342 997.8 342.6C995.4 343.2 992.7 343.5 992.7 342Z"/><path d="M1047.7 333.8C1048.7 332.6 1052 331.3 1054.8 329.8C1057.7 328.3 1058.5 326.9 1061.9 326.3C1065.4 325.7 1069.9 326 1072.1 326.7C1074.4 327.4 1074.4 328.5 1073.1 329.8C1071.9 331 1069.1 332 1066 332.8C1063 333.6 1061.1 333.2 1057.9 333.8C1054.6 334.4 1051.8 335.9 1049.7 335.9C1047.7 335.9 1046.7 335.1 1047.7 333.8Z"/><path d="M1106.7 329.8C1109.1 329.4 1109 330.6 1109.8 332.8C1110.6 335.1 1111.4 338.3 1110.8 341C1110.2 343.6 1108.8 343.9 1106.7 346C1104.7 348.2 1102 351.1 1100.6 351.5C1099.2 352 1099 350.2 1099.6 348.1C1100.2 346 1103.1 343.4 1103.7 341C1104.3 338.5 1103.8 337.2 1102.7 335.9C1101.6 334.6 1097.4 335.7 1098.2 334.4C1099 333.2 1104.4 330.1 1106.7 329.8Z"/><path d="M1207.5 316.5C1208.7 317 1210.8 318.2 1210.6 320.6C1210.4 323 1208.2 327.4 1206.5 330.8C1204.8 334.2 1202.8 337.6 1200.4 341C1198 344.4 1195 348.1 1192.3 351.1C1189.5 354.2 1186.5 356.7 1184.1 359.3C1181.7 361.8 1180.4 364 1178 366.4C1175.6 368.8 1172.9 371.7 1169.9 373.5C1166.8 375.4 1162.9 376.4 1159.7 377.6C1156.5 378.8 1152.7 379.6 1150.5 380.7C1148.3 381.7 1148.3 384.1 1146.4 383.7C1144.6 383.4 1142.2 379.6 1139.3 378.6C1136.4 377.6 1132.5 377.6 1129.1 377.6C1125.7 377.6 1122 379.1 1119 378.6C1115.9 378.1 1112.5 376.4 1110.8 374.6C1109.1 372.7 1110.1 368.8 1108.8 367.4C1107.5 366.1 1103.6 367.6 1103.1 366.4C1102.6 365.2 1104.4 362.2 1105.7 360.3C1107 358.4 1108.9 356.9 1110.8 355.2C1112.7 353.5 1114.9 352 1116.9 350.1C1119 348.3 1121 346 1123 344C1125.1 342 1126.8 339.6 1129.1 337.9C1131.5 336.2 1134.2 335.2 1137.3 333.8C1140.3 332.5 1143.7 330.9 1147.5 329.8C1151.2 328.6 1155.9 327.7 1159.7 326.7C1163.4 325.7 1166.5 324.5 1169.9 323.6C1173.3 322.8 1177.3 322.1 1180 321.6C1182.8 321.1 1184.6 319.7 1186.1 320.6C1187.7 321.4 1187.2 326.4 1189.2 326.7C1191.2 327 1196 324.2 1198.4 322.6C1200.7 321.1 1201.9 318.6 1203.5 317.5C1205 316.5 1206.3 316 1207.5 316.5Z"/><path d="M1020.2 365.4C1019.8 364.4 1021.6 361.7 1024.3 359.3C1026.9 356.8 1029.6 354.6 1033.4 353.2C1037.3 351.7 1039.5 352.8 1043.6 352.2C1047.7 351.5 1050.3 350.1 1053.8 350.1C1057.3 350.1 1059.4 350.9 1060.9 352.2C1062.5 353.4 1063 355 1061.5 356.2C1060.1 357.5 1057.4 357.5 1053.8 358.3C1050.2 359.1 1047.7 359.3 1043.6 360.3C1039.5 361.3 1036.9 362.5 1033.4 363.4C1030 364.2 1028.9 364 1026.3 364.4C1023.7 364.8 1020.6 366.4 1020.2 365.4Z"/><path d="M944.9 371.5C946.1 369.4 947.5 369.3 951 369.1C954.4 368.9 958.6 370 962.2 370.5C965.7 371 967.7 370.5 968.7 371.5C969.7 372.5 969 373.9 967.3 375.6C965.5 377.2 963.2 378.5 960.1 379.6C957.1 380.8 955 381.3 952 381.3C948.9 381.3 946.3 381.6 944.9 379.6C943.4 377.7 943.6 373.6 944.9 371.5Z"/><path d="M1029.4 388.8C1030 387.6 1034.4 385.8 1037.5 383.7C1040.6 381.7 1044.3 378.6 1047.7 376.6C1051.1 374.6 1054.8 372.8 1057.9 371.9C1060.9 371 1064.5 370.8 1066 371.1C1067.5 371.4 1068 372.5 1067 373.5C1066 374.6 1062.6 376.1 1059.9 377.6C1057.2 379.1 1053.8 380.8 1050.7 382.7C1047.7 384.6 1044.5 387.5 1041.6 388.8C1038.7 390.2 1035.5 390.8 1033.4 390.8C1031.4 390.8 1028.7 390 1029.4 388.8Z"/><path d="M1065 382.7C1066.6 382.6 1069.6 387.4 1071.1 387.8C1072.6 388.2 1075.1 384.9 1076.2 385.8C1077.3 386.6 1078.4 391.6 1079.2 393.9C1080.1 396.2 1082.8 402.2 1082.3 403.1C1081.8 403.9 1077.6 400.3 1075.2 400C1072.7 399.7 1066.7 400.9 1064 401C1061.3 401.2 1056.9 400.9 1054.8 401C1052.7 401.2 1048.5 402.9 1048.1 402C1047.7 401.2 1050.3 396.7 1051.8 394.9C1053.2 393.2 1057.1 390.4 1058.9 388.8C1060.6 387.2 1063.4 382.8 1065 382.7Z"/><path d="M1100.6 390.8C1102.9 390.6 1104.3 391.7 1103.7 392.9C1103.1 394.1 1099.8 395.5 1097.6 397C1095.3 398.4 1094.1 398.8 1092.5 400C1090.9 401.2 1090.2 403.3 1089.4 403.1C1088.6 402.9 1087.8 400.8 1088.4 399C1089 397.2 1090 395.5 1092.5 393.9C1094.9 392.3 1098.4 391 1100.6 390.8Z"/><path d="M1189.2 382.1C1191.1 381.6 1192.9 382.5 1192.3 384.1C1191.6 385.8 1187.8 389.4 1185.1 391.9C1182.4 394.3 1179 397.1 1176 399C1172.9 400.9 1168.7 402.9 1166.8 403.1C1164.9 403.2 1163.9 401.5 1164.8 400C1165.6 398.5 1169.2 396.1 1171.9 393.9C1174.6 391.7 1178.2 388.7 1181.1 386.8C1183.9 384.8 1187.3 382.5 1189.2 382.1Z"/><path d="M1223.2 371.9C1224.6 371.5 1225.6 372.2 1225.2 374.6C1224.8 376.9 1222.8 380.3 1221.2 383.7C1219.5 387.2 1219 388.8 1217.1 391.9C1215.2 394.9 1214.3 396.6 1211.6 399C1208.9 401.4 1205.5 403.3 1203.5 403.7C1201.4 404.1 1201 403.4 1201.4 401C1201.8 398.7 1203.7 395.4 1205.5 391.9C1207.3 388.3 1208.1 386.4 1210.6 383.3C1213.1 380.3 1215.6 378.9 1218.1 376.6C1220.6 374.3 1221.8 372.3 1223.2 371.9Z"/><path d="M896 402C897.2 397 900.7 398.2 902.1 399C903.5 399.8 903.3 403.1 903.1 406.1C902.9 409.2 901.1 411.4 901.1 414.3C901.1 417.1 903.3 418 903.1 420.4C902.9 422.7 901.5 425.3 900.1 426.1C898.6 426.9 896.8 429.2 896 424.4C895.2 419.6 894.8 407.1 896 402Z"/><path d="M917.4 394.9C920 393.3 921.2 392.7 922.5 393.9C923.7 395.1 922 399 923.5 401C924.9 403.1 927.1 403.7 929.6 404.1C932 404.5 934.7 401.8 935.7 403.1C936.7 404.3 935.9 407.5 934.7 410.2C933.4 412.8 932 414.1 929.6 416.3C927.1 418.5 925.1 419.4 922.5 421.4C919.8 423.4 918.4 424.9 916.3 426.5C914.3 428.1 913.3 430.8 912.3 429.5C911.3 428.3 911.7 424.2 911.3 420.4C910.8 416.5 910.6 413.9 910.2 410.2C909.8 406.5 907.8 405.1 909.2 402C910.6 399 914.7 396.5 917.4 394.9Z"/><path d="M934.7 420.8C938 419.6 940 421.1 940.2 422.4C940.4 423.8 938.2 425.5 935.7 427.5C933.2 429.5 931 430.8 927.5 432.6C924.1 434.4 920.6 436.5 918.4 436.7C916.1 436.9 915.3 435.2 916.3 433.6C917.4 432 919.8 431.1 923.5 428.5C927.1 426 931.3 422 934.7 420.8Z"/><path d="M944.9 405.5A1.4 0.8 0 1 0 947.7 405.5A1.4 0.8 0 1 0 944.9 405.5Z"/><path d="M983.1 411.6A2 3.1 0 1 0 987.2 411.6A2 3.1 0 1 0 983.1 411.6Z"/><path d="M995.8 404.5C997 403.3 1001.1 403.3 1003.9 404.1C1006.8 404.8 1009.4 406.3 1010 408.2C1010.6 410 1008.8 411.8 1007 413.2C1005.1 414.7 1002.7 415.9 1000.8 415.3C999 414.7 998.8 412.3 997.8 410.2C996.8 408 994.5 405.7 995.8 404.5Z"/><path d="M1030 404.1A2.4 2 0 1 0 1034.9 404.1A2.4 2 0 1 0 1030 404.1Z"/><path d="M1025.3 414.3C1026.8 413.3 1029.8 412.6 1032.4 412.6C1035.1 412.6 1037.9 413.1 1038.5 414.3C1039.1 415.4 1037.3 417.1 1035.5 418.3C1033.6 419.6 1031.5 420.6 1029.4 420.4C1027.2 420.2 1025.7 418.5 1024.9 417.3C1024.1 416.1 1023.8 415.2 1025.3 414.3Z"/><path d="M1063 410A1.4 1.6 0 1 0 1065.8 410A1.4 1.6 0 1 0 1063 410Z"/><path d="M986.6 423.4C989 422.4 991.1 422.3 994.7 421.4C998.4 420.5 1001.5 419.1 1004.9 418.7C1008.4 418.3 1010.8 417.8 1012 419.4C1013.3 420.9 1011.4 423.8 1011 426.5C1010.6 429.1 1009.2 430.8 1010 432.6C1010.8 434.4 1015.5 434.8 1015.1 435.6C1014.7 436.5 1010.8 435.6 1008 436.7C1005.1 437.7 1003.9 439.7 1000.8 440.7C997.8 441.8 996 442.2 992.7 441.8C989.4 441.3 986.7 440.5 984.6 438.7C982.4 436.9 982.5 435 982.1 432.6C981.7 430.1 981.6 428.3 982.5 426.5C983.4 424.6 984.2 424.4 986.6 423.4Z"/><path d="M1043.6 433.6C1044.3 432.9 1048.8 432 1049.7 432.2C1050.6 432.4 1052.8 434.9 1052.8 435.6C1052.8 436.4 1050.7 439.4 1049.7 439.7C1048.7 440.1 1043.2 439.7 1042.6 439.1C1042 438.5 1042.9 434.3 1043.6 433.6Z"/><path d="M1053.8 424.4C1055.9 423.2 1058.7 422.8 1061.9 421.4C1065.2 420 1066.4 418.9 1070.1 417.3C1073.7 415.7 1076.4 414.2 1080.3 413.2C1084.1 412.3 1087.8 411.8 1089.4 412.6C1091.1 413.4 1090.2 415.8 1088.4 417.3C1086.6 418.9 1083.1 419.1 1080.3 420.4C1077.4 421.6 1076.2 422 1074.2 423.4C1072.1 424.9 1069.3 426.9 1070.1 427.5C1070.9 428.1 1075 427.1 1078.2 426.5C1081.5 425.9 1084.5 424 1086.4 424.4C1088.2 424.9 1088.6 426.7 1087.4 428.5C1086.2 430.3 1083.3 431.8 1080.3 433.6C1077.2 435.4 1075 436.6 1072.1 437.7C1069.3 438.8 1068.5 439.7 1066 439.1C1063.6 438.5 1062.1 436.1 1059.9 434.6C1057.7 433.1 1056.5 433 1054.8 431.6C1053.1 430.1 1051.6 428.9 1051.3 427.5C1051.1 426.1 1051.7 425.7 1053.8 424.4Z"/><path d="M1169.9 416.3C1171.9 415.7 1173.7 416.3 1173.9 418.3C1174.1 420.4 1172.7 423.2 1170.9 426.5C1169 429.7 1167.6 432 1164.8 434.6C1161.9 437.3 1158.7 439.3 1156.6 439.7C1154.6 440.1 1154.2 438.9 1154.6 436.7C1155 434.4 1156.8 431.6 1158.7 428.5C1160.5 425.5 1161.5 423.8 1163.7 421.4C1166 418.9 1167.8 416.9 1169.9 416.3Z"/><path d="M1191.2 429.5C1192.9 428.9 1194.3 430.1 1194.3 432.6C1194.3 435 1193.1 438.3 1191.2 441.8C1189.4 445.2 1187.6 446.8 1185.1 449.9C1182.7 453 1180.4 456.6 1179 457C1177.6 457.4 1177.4 454.6 1178 451.9C1178.6 449.3 1180.4 447 1182.1 443.8C1183.7 440.5 1184.3 438.5 1186.1 435.6C1188 432.8 1189.6 430.1 1191.2 429.5Z"/><path d="M1206.5 440.7C1207.9 439.5 1213 436.9 1214.7 437.7C1216.3 438.5 1216.1 443.6 1214.7 444.8C1213.2 446 1209.2 444.6 1207.5 443.8C1205.9 443 1205.1 442 1206.5 440.7Z"/><path d="M1170.9 455C1172.1 453.6 1175.6 449.5 1177 449.9C1178.4 450.3 1179.2 455.6 1178 457C1176.8 458.4 1172.3 457.4 1170.9 457C1169.4 456.6 1169.7 456.4 1170.9 455Z"/><path d="M1211 230C1215.5 224 1240.9 229.3 1244.6 230C1248.2 230.7 1240.1 234.1 1238.5 235.1C1236.8 236.1 1233.9 237 1232.4 237.5C1230.9 238.1 1227.7 237.6 1227.3 239.1C1226.9 240.7 1229.6 246.9 1229.3 249.3C1229 251.8 1226.5 255.7 1225.2 257.5C1224 259.2 1221.5 261.3 1220.1 262.6C1218.8 263.8 1216.1 265 1215.1 266.6C1214 268.3 1212.5 273.7 1212 274.8C1211.5 275.9 1211.1 280.8 1211 274.8C1210.8 268.8 1206.5 236 1211 230Z"/><path d="M1248.7 237.1C1249.9 236.7 1251.5 237.5 1251.7 239.1C1251.9 240.8 1251.1 243.4 1249.7 245.3C1248.2 247.1 1246.5 247.4 1244.6 248.3C1242.7 249.2 1240.7 250.3 1240.1 249.7C1239.5 249.1 1240.4 247 1241.5 245.3C1242.6 243.5 1244.2 242.8 1245.6 241.2C1247 239.6 1247.4 237.5 1248.7 237.1Z"/><path d="M1234.6 257.1A2.9 2.2 0 1 0 1240.3 257.1A2.9 2.2 0 1 0 1234.6 257.1Z"/><path d="M1310.8 237.1C1312.5 236.7 1313 237.9 1313.4 241.2C1313.8 244.4 1312.7 248.9 1312.8 253.4C1312.9 257.9 1314.4 259.7 1313.8 263.6C1313.2 267.4 1311.9 269.3 1309.7 272.7C1307.6 276.2 1305.3 280.3 1303.2 280.9C1301.2 281.5 1300.5 279.3 1299.6 275.8C1298.6 272.3 1298.5 268.5 1298.5 263.6C1298.6 258.7 1298.7 255.4 1300 251.4C1301.2 247.3 1302.5 246.1 1304.6 243.2C1306.8 240.4 1309 237.5 1310.8 237.1Z"/><path d="M1278.2 270.7C1280.4 270.1 1281.9 271.9 1283.3 273.8C1284.6 275.6 1285.3 277.2 1284.9 279.9C1284.5 282.5 1283 284.6 1281.2 287C1279.5 289.4 1278.2 291.1 1276.1 291.7C1274.1 292.3 1272.3 291.6 1271.1 290.1C1269.8 288.5 1269.8 286.6 1270 283.9C1270.2 281.3 1270.4 279.5 1272.1 276.8C1273.7 274.2 1275.9 271.3 1278.2 270.7Z"/><path d="M1249.7 305.2A6.5 2.6 -45 1 0 1259 296A6.5 2.6 -45 1 0 1249.7 305.2Z"/><path d="M1309.6 299.5A5.5 3.3 -25 1 0 1319.6 294.9A5.5 3.3 -25 1 0 1309.6 299.5Z"/><path d="M1345.4 246.3C1346 244.2 1348.6 240.8 1350.5 240.2C1352.3 239.6 1352.1 242.2 1354.5 243.2C1357 244.2 1360.6 244 1362.7 245.3C1364.7 246.5 1366.3 248.2 1364.7 249.3C1363.1 250.5 1358 250.8 1354.5 251C1351.1 251.2 1349.2 251.3 1347.4 250.3C1345.6 249.4 1344.8 248.3 1345.4 246.3Z"/><path d="M1384.1 230C1388.2 227.7 1402.2 228.4 1405.4 230C1408.7 231.6 1403.2 236 1400.4 238.1C1397.5 240.3 1394.3 240.2 1391.2 240.8C1388.1 241.4 1386.1 243.3 1384.7 241.2C1383.2 239 1379.9 232.2 1384.1 230Z"/><path d="M1432.9 230C1436.2 228.3 1442.9 228.5 1444.1 230C1445.3 231.5 1442.1 236.4 1440.1 239.1C1438 241.9 1435 244.1 1431.9 246.3C1428.9 248.5 1425.3 250.9 1421.7 252.4C1418.2 253.9 1412.6 255.4 1410.5 255.4C1408.4 255.4 1408.3 253.7 1409.1 252.4C1410 251 1413 249.3 1415.6 247.3C1418.2 245.3 1421.9 243 1424.8 240.2C1427.7 237.3 1429.7 231.7 1432.9 230Z"/><path d="M1453.7 242A5.7 1.4 -35 1 0 1463.1 235.5A5.7 1.4 -35 1 0 1453.7 242Z"/><path d="M1500.5 250.8A0.8 6.1 -35 1 0 1501.8 249.9A0.8 6.1 -35 1 0 1500.5 250.8Z"/><path d="M1382 258.5C1383.7 258 1384.9 259 1384.1 260.5C1383.2 262.1 1379.8 265.6 1376.9 267.7C1374.1 269.7 1370.3 270.9 1366.8 272.7C1363.2 274.6 1358.8 277.3 1355.6 278.9C1352.3 280.4 1348.9 282.1 1347.4 282.3C1345.9 282.5 1345.5 281.3 1346.4 279.9C1347.2 278.4 1349.8 275.6 1352.5 273.8C1355.2 271.9 1359.1 270.4 1362.7 268.7C1366.2 267 1370.7 265.3 1373.9 263.6C1377.1 261.9 1380.3 259 1382 258.5Z"/><path d="M1382.6 276.2A1 2.9 35 1 0 1384.3 277.4A1 2.9 35 1 0 1382.6 276.2Z"/><path d="M1412.6 268.7C1414.9 268.2 1416.6 269.3 1416.6 270.7C1416.6 272.1 1414.8 274.8 1412.6 276.8C1410.4 278.9 1406.6 281.1 1403.4 282.9C1400.2 284.8 1396.8 286.3 1393.2 288C1389.7 289.7 1385.4 291.8 1382 293.1C1378.6 294.4 1374.5 295.7 1372.9 295.8C1371.3 295.9 1371.1 295 1372.5 293.7C1373.8 292.4 1377.9 290.2 1381 288C1384.1 285.9 1387.6 283.3 1391.2 280.9C1394.8 278.5 1398.8 275.8 1402.4 273.8C1406 271.7 1410.2 269.2 1412.6 268.7Z"/><path d="M1351.8 295.8A7.1 1.2 -35 1 0 1363.4 287.6A7.1 1.2 -35 1 0 1351.8 295.8Z"/><path d="M1437 268.7C1438 266.6 1440.7 265.4 1443.1 263.6C1445.6 261.7 1446.6 259.9 1449.2 259.5C1451.9 259.1 1453.5 261.5 1456.3 261.5C1459.2 261.5 1462.3 259.2 1463.5 259.5C1464.7 259.8 1464.1 262 1462.5 263.2C1460.8 264.4 1458.2 264.7 1455.3 265.6C1452.5 266.5 1451.1 266.2 1448.2 267.7C1445.4 269.1 1443.1 271.5 1441.1 272.7C1439 274 1438.8 274.6 1438 273.8C1437.2 272.9 1436 270.7 1437 268.7Z"/><path d="M1471.4 262.8A8.6 1.6 -42 1 0 1484.1 251.3A8.6 1.6 -42 1 0 1471.4 262.8Z"/><path d="M1434.3 283.5A2.9 1.2 -20 1 0 1439.7 281.5A2.9 1.2 -20 1 0 1434.3 283.5Z"/><path d="M1412.6 289.6C1413.2 289.5 1414.3 290.8 1413.6 292.1C1412.9 293.3 1410.9 295.8 1408.5 297.2C1406.1 298.5 1402.2 299.4 1399.3 300.2C1396.4 301.1 1393.2 301.7 1391.2 302.3C1389.2 302.9 1386.6 304.4 1387.1 303.9C1387.6 303.4 1391.5 300.4 1394.2 299.2C1397 298 1400.9 297.6 1403.4 296.6C1406 295.5 1408 294.3 1409.5 293.1C1411 292 1411.9 289.8 1412.6 289.6Z"/><path d="M1443.1 298.2C1444.1 297.4 1447.7 296.3 1450.2 295.1C1452.8 294 1457 291.4 1458.4 291.1C1459.8 290.7 1460 292.1 1458.8 293.1C1457.6 294.1 1453.7 296.1 1451.3 297.2C1448.8 298.3 1445.5 299.5 1444.1 299.6C1442.8 299.8 1442.1 298.9 1443.1 298.2Z"/><path d="M1485.3 291.7C1485.7 291 1486.6 292.3 1488.9 293.1C1491.3 293.9 1493.8 295.1 1497.1 295.8C1500.3 296.4 1502 296.4 1505.2 296.6C1508.4 296.7 1511.5 295.9 1513 296.6C1514.4 297.2 1514.3 299.1 1512.3 299.8C1510.4 300.6 1506.8 300.2 1503.2 300.2C1499.5 300.2 1497.3 300.6 1494 299.8C1490.8 299.1 1488.6 298.2 1486.9 296.6C1485.1 294.9 1484.9 292.4 1485.3 291.7Z"/><path d="M1366.1 318.9A1.6 6.1 40 1 0 1368.6 321A1.6 6.1 40 1 0 1366.1 318.9Z"/><path d="M1347.4 321.6C1348.4 320.8 1351.9 321.6 1352.5 322.6C1353.1 323.6 1350.1 325.1 1350.5 326.7C1350.9 328.3 1353.9 329.1 1354.5 330.8C1355.1 332.4 1355.1 333.8 1353.5 334.8C1351.9 335.9 1348.6 336.1 1346.4 335.9C1344.2 335.7 1343.7 333.6 1342.3 333.8C1340.9 334 1340.1 336.9 1339.3 336.9C1338.5 336.9 1337.4 335.3 1338.2 333.8C1339.1 332.4 1341.5 331.2 1343.3 329.8C1345.2 328.3 1346.6 328.3 1347.4 326.7C1348.2 325.1 1346.4 322.4 1347.4 321.6Z"/><path d="M1402.4 332.8C1403.4 332.1 1405.9 332.5 1407.5 331.8C1409.1 331.1 1409.5 329 1410.5 329.1C1411.6 329.3 1413.2 331.3 1412.6 332.4C1412 333.5 1409.5 334.3 1407.5 334.8C1405.4 335.4 1403.4 335.7 1402.4 335.3C1401.4 334.8 1401.4 333.5 1402.4 332.8Z"/><path d="M1383.6 347.6A5.5 3.1 -35 1 0 1392.6 341.3A5.5 3.1 -35 1 0 1383.6 347.6Z"/><path d="M1304.6 319.6C1307.9 318.2 1310.1 318.2 1313.8 317.5C1317.5 316.9 1321.8 315.5 1323 316.5C1324.2 317.5 1321.3 320.2 1319.9 322.6C1318.5 325.1 1315.6 327.1 1315.8 328.7C1316.1 330.4 1321.3 329.8 1320.9 330.8C1320.5 331.8 1316.9 332.2 1313.8 333.8C1310.8 335.5 1308.5 336.7 1305.7 338.9C1302.8 341.2 1302.2 342.6 1299.6 345C1296.9 347.5 1295.9 349.7 1292.4 351.1C1289 352.6 1283.9 353.2 1282.3 352.2C1280.6 351.1 1283.1 348.7 1284.3 346C1285.5 343.4 1286.7 342 1288.4 338.9C1290 335.9 1290.6 333.6 1292.4 330.8C1294.3 327.9 1295.1 326.9 1297.5 324.7C1300 322.4 1301.4 321 1304.6 319.6Z"/><path d="M1273.1 331.2C1274.5 331 1276.6 331.2 1276.8 332.8C1276.9 334.4 1275.4 338.4 1274.1 341C1272.8 343.5 1270.7 345.4 1269 348.1C1267.3 350.8 1265.8 354.4 1263.9 357.2C1262.1 360.1 1259.9 362.7 1257.8 365.4C1255.8 368.1 1253.9 371 1251.7 373.5C1249.5 376.1 1246.6 379.3 1244.6 380.7C1242.5 382 1240.5 382.4 1239.5 381.7C1238.5 381 1238 379 1238.5 376.6C1239 374.2 1241 370.7 1242.5 367.4C1244.1 364.2 1245.8 360.6 1247.6 357.2C1249.5 353.9 1251.5 350.1 1253.7 347.1C1255.9 344 1258.5 341.1 1260.9 338.9C1263.2 336.7 1266 335.1 1268 333.8C1270 332.5 1271.6 331.4 1273.1 331.2Z"/><path d="M1329.1 338.3C1330.4 338.3 1330.3 341.4 1331.1 343C1332 344.6 1335 346.4 1334.2 348.1C1333.3 349.8 1328.7 351.3 1326 353.2C1323.3 355 1320.6 356.9 1317.9 359.3C1315.2 361.7 1312.5 364.9 1309.7 367.4C1307 370 1304.3 372.2 1301.6 374.6C1298.9 376.9 1296.2 379.8 1293.4 381.7C1290.7 383.5 1287.9 384.8 1285.3 385.8C1282.8 386.7 1279.5 388.1 1278.2 387.4C1276.8 386.7 1276.8 384 1277.2 381.7C1277.5 379.4 1278.9 376.3 1280.2 373.5C1281.6 370.8 1283.1 367.6 1285.3 365.4C1287.5 363.2 1290.7 361.7 1293.4 360.3C1296.2 358.9 1299.2 358.4 1301.6 357.2C1304 356.1 1305.3 354.7 1307.7 353.2C1310.1 351.6 1313.3 349.8 1315.8 348.1C1318.4 346.4 1320.8 344.6 1323 343C1325.2 341.4 1327.7 338.3 1329.1 338.3Z"/><path d="M1262.9 373.1C1263.9 373.1 1264.9 374.1 1264.9 376.6C1264.9 379.1 1263.1 382.3 1262.9 385.8C1262.7 389.2 1264.9 390.6 1263.9 393.9C1262.9 397.2 1260.9 399.8 1257.8 402C1254.8 404.3 1252.3 404.4 1248.7 405.1C1245 405.8 1241.5 406.7 1239.5 405.7C1237.5 404.7 1237.9 402.2 1238.5 400C1239.1 397.8 1240.1 397 1242.5 394.9C1245 392.9 1248 392.3 1250.7 389.8C1253.3 387.4 1253.9 385.3 1255.8 382.7C1257.6 380.1 1258.4 378.5 1259.9 376.6C1261.3 374.7 1261.9 373.1 1262.9 373.1Z"/><path d="M1352.9 364.4C1353.2 363.4 1354.1 361.1 1355.6 360.3C1357 359.5 1360 359.9 1360.2 360.3C1360.4 360.7 1357.8 361.3 1356.6 362.3C1355.4 363.4 1354.9 365 1354.1 365.4C1353.4 365.8 1352.6 365.4 1352.9 364.4Z"/><path d="M1406.5 347.1C1408.5 345.4 1411.8 345.8 1415.6 345C1419.5 344.2 1421.7 344.2 1425.8 343C1429.9 341.8 1432.4 340.1 1436 338.9C1439.6 337.8 1442.7 336.3 1443.7 337.3C1444.7 338.3 1442.4 341.2 1441.1 344C1439.7 346.8 1438.6 348.5 1437 351.1C1435.4 353.8 1435 356.2 1432.9 357.2C1430.9 358.3 1429.1 357 1426.8 356.2C1424.6 355.4 1424.2 352.5 1421.7 353.2C1419.3 353.9 1417.3 359 1414.6 359.7C1412 360.4 1410.3 358.1 1408.5 356.8C1406.7 355.5 1405.9 355.1 1405.4 353.2C1405 351.2 1404.4 348.7 1406.5 347.1Z"/><path d="M1483.8 321.6C1485.9 320.7 1487.5 319.8 1489.9 320.2C1492.4 320.6 1493 322.3 1496.1 323.6C1499.1 325 1500.9 326.3 1505.2 326.7C1509.5 327.1 1513.4 325.5 1517.4 325.7C1521.4 325.9 1524 326.6 1525.2 327.7C1526.4 328.8 1525.9 330.2 1523.5 331.2C1521.2 332.2 1517 332.1 1513.4 332.8C1509.7 333.5 1507.7 333.2 1505.2 334.8C1502.8 336.5 1501.8 336.9 1501.1 341C1500.5 345 1503.2 353.2 1502.2 355.2C1501.1 357.2 1498.9 353.2 1496.1 351.1C1493.2 349.1 1490.6 347.1 1487.9 345C1485.3 343 1485.5 341.2 1482.8 341C1480.2 340.8 1477.9 342.8 1474.7 344C1471.4 345.2 1468.4 347.1 1466.5 347.1C1464.7 347.1 1464.7 345.4 1465.5 344C1466.3 342.6 1468.2 341.4 1470.6 339.9C1473 338.5 1476.5 339.1 1477.7 336.9C1479 334.6 1476.3 331.2 1476.7 328.7C1477.1 326.3 1478.3 326.1 1479.8 324.7C1481.2 323.2 1481.8 322.5 1483.8 321.6Z"/><path d="M1469.6 349.5C1470.7 349.9 1469 354.1 1470.2 357.2C1471.4 360.4 1474.5 361.8 1475.7 365.4C1476.9 369 1477.3 373.9 1476.3 375.2C1475.3 376.4 1473.2 372.4 1470.6 371.5C1468 370.6 1466.1 371.3 1463.5 370.5C1460.8 369.7 1459.2 368.7 1457.4 367.4C1455.5 366.2 1453.9 365.8 1454.3 364.4C1454.7 362.9 1457.4 362.1 1459.4 360.3C1461.4 358.5 1462.5 357.4 1464.5 355.2C1466.5 353.1 1468.4 349.1 1469.6 349.5Z"/><path d="M1495 362.9A2 1 0 1 0 1499.1 362.9A2 1 0 1 0 1495 362.9Z"/><path d="M1341.9 383.7A4.1 2.9 0 1 0 1350.1 383.7A4.1 2.9 0 1 0 1341.9 383.7Z"/><path d="M1326 391.9C1326.8 390.6 1329.9 389.6 1331.1 389.8C1332.3 390 1333 391.7 1332.1 392.9C1331.3 394.1 1328.3 396.1 1327 395.9C1325.8 395.7 1325.2 393.1 1326 391.9Z"/><path d="M1348.8 405.1C1348.4 404.1 1350.5 400.8 1352.5 398C1354.5 395.1 1355.8 393.4 1358.6 390.8C1361.5 388.3 1363.1 386.7 1366.8 385.3C1370.4 384 1372.9 383.8 1376.9 384.1C1381 384.4 1383.2 385.8 1387.1 386.8C1391 387.7 1393.4 387.4 1396.3 388.8C1399.1 390.2 1400.1 391.9 1401.4 393.9C1402.6 395.9 1403.6 397.4 1402.4 399C1401.2 400.6 1398.3 402 1395.3 402C1392.2 402 1390.4 400.2 1387.1 399C1383.9 397.8 1382.2 396.8 1379 395.9C1375.7 395.1 1374.1 394.5 1370.8 394.9C1367.6 395.3 1365.9 396.3 1362.7 398C1359.4 399.6 1357.3 401.6 1354.5 403.1C1351.8 404.5 1349.2 406.1 1348.8 405.1Z"/><path d="M1421.2 382.5A2.4 1.2 30 1 0 1425.5 384.9A2.4 1.2 30 1 0 1421.2 382.5Z"/><path d="M1496.1 386.8C1497.7 386.4 1503.8 387.5 1505.2 388.2C1506.6 388.9 1504.8 389.9 1503.2 390.2C1501.6 390.6 1498.5 390.5 1497.1 389.8C1495.6 389.1 1494.4 387.1 1496.1 386.8Z"/><path d="M1462.9 396.3C1464.1 395.3 1468 395.3 1470.6 395.9C1473.2 396.6 1475.9 398.7 1475.7 399.6C1475.5 400.5 1471.8 400.1 1469.6 400.4C1467.3 400.7 1465.8 401.8 1464.5 401C1463.2 400.2 1461.6 397.4 1462.9 396.3Z"/><path d="M1434.6 405.1A2 2 0 1 0 1438.6 405.1A2 2 0 1 0 1434.6 405.1Z"/><path d="M1515.4 395.5C1517.2 395.7 1519.1 398.7 1520.5 400C1521.8 401.3 1525.4 403.6 1525.6 405.1C1525.7 406.6 1522.9 409.7 1521.5 411.2C1520.2 412.7 1517 414.8 1515.4 416.3C1513.8 417.8 1511.2 421.1 1509.3 422.4C1507.4 423.7 1503 425.5 1501.1 426.1C1499.2 426.7 1496 427.9 1495 426.9C1494.1 425.9 1494.3 420.6 1494 418.3C1493.7 416.1 1493.4 411.7 1493 410.2C1492.6 408.7 1490.6 408.1 1491.4 407.1C1492.2 406.2 1497 404.1 1499.1 403.1C1501.2 402 1505.1 400 1507.3 399C1509.4 398 1513.6 395.4 1515.4 395.5Z"/><path d="M1449.2 405.7C1450.7 405.7 1453.7 407.9 1455.3 409.2C1457 410.4 1459.8 413.5 1461.4 415.3C1463.1 417 1465.9 420.6 1467.5 422.4C1469.2 424.2 1473.7 427.2 1473.7 428.5C1473.7 429.9 1469.2 432.9 1467.5 432.6C1465.9 432.3 1463.1 428.1 1461.4 426.5C1459.8 424.9 1457 422 1455.3 420.4C1453.7 418.7 1450.7 415.8 1449.2 414.3C1447.7 412.8 1444.1 410.3 1444.1 409.2C1444.1 408 1447.7 405.7 1449.2 405.7Z"/><path d="M1280.2 404.5C1283 403.5 1284.1 403.6 1284.9 405.1C1285.7 406.6 1285.4 409.4 1284.3 412.2C1283.1 415.1 1281.6 416.7 1279.2 419.4C1276.8 422 1274.9 423.2 1272.1 425.5C1269.2 427.7 1267.1 429.3 1264.9 430.6C1262.8 431.8 1261.9 432.8 1261.3 431.6C1260.7 430.3 1261 427.5 1261.9 424.4C1262.8 421.4 1264.1 419.1 1266 416.3C1267.8 413.4 1268.2 412.6 1271.1 410.2C1273.9 407.8 1277.4 405.5 1280.2 404.5Z"/><path d="M1241.5 432.2C1243.6 431.4 1244.8 431.9 1244.6 433.6C1244.4 435.3 1242.5 437.9 1240.5 440.7C1238.5 443.6 1236.6 444.6 1234.4 447.9C1232.2 451.1 1231.3 455.2 1229.3 457C1227.3 458.9 1224.4 459.1 1224.2 457C1224 455 1226.3 450.7 1228.3 446.8C1230.3 443 1231.8 440.6 1234.4 437.7C1237 434.7 1239.5 433 1241.5 432.2Z"/><path d="M1357.6 416.7C1359.5 416.1 1360.8 417.4 1361.1 419.4C1361.3 421.3 1359.3 423.2 1359 426.5C1358.7 429.7 1360.2 433.6 1359.6 435.6C1359.1 437.7 1357 438.1 1356.2 436.7C1355.4 435.2 1356.1 430.8 1355.6 428.5C1355 426.3 1354.9 425.7 1353.5 425.5C1352.2 425.3 1349.2 428.1 1348.8 427.5C1348.4 426.9 1349.7 424.6 1351.5 422.4C1353.2 420.2 1355.7 417.3 1357.6 416.7Z"/><path d="M1422.8 416.3C1424.1 416 1425.8 417.8 1427.8 419.4C1429.9 420.9 1432.6 423.4 1435 425.5C1437.3 427.5 1440.6 428.7 1442.1 431.6C1443.6 434.5 1444.5 440.7 1444.1 442.8C1443.8 444.8 1441.8 444.6 1440.1 443.8C1438.4 442.9 1436.2 439.7 1434 437.7C1431.7 435.6 1429.2 432.9 1426.8 431.6C1424.4 430.2 1421.6 429.4 1419.7 429.5C1417.8 429.7 1416 430.9 1415.6 432.6C1415.3 434.3 1416.3 437.7 1417.7 439.7C1419 441.8 1422.1 442.6 1423.8 444.8C1425.5 447 1427.5 450.9 1427.8 453C1428.2 455 1433.3 456.3 1425.8 457C1418.3 457.7 1390.2 458.7 1383 457C1375.9 455.3 1382.4 449.9 1383 446.8C1383.7 443.8 1385.1 440.9 1387.1 438.7C1389.2 436.5 1392.5 434.8 1395.3 433.6C1398 432.4 1400.9 432.8 1403.4 431.6C1406 430.4 1408.2 427.3 1410.5 426.5C1412.9 425.6 1416.1 427.3 1417.7 426.5C1419.2 425.6 1418.8 423.1 1419.7 421.4C1420.5 419.7 1421.4 416.6 1422.8 416.3Z"/><path d="M1211.4 442.4A1.6 2.4 0 1 0 1214.6 442.4A1.6 2.4 0 1 0 1211.4 442.4Z"/><path d="M1286.3 454C1286.1 453.1 1291.8 450.3 1293.4 450.5C1295.1 450.7 1295.9 454.3 1294.5 455C1293 455.7 1286.5 454.9 1286.3 454Z"/><path d="M1510.5 245.7A1.2 1 0 1 0 1513 245.7A1.2 1 0 1 0 1510.5 245.7Z"/><path d="M1490.6 278.9A0.8 0.8 0 1 0 1492.2 278.9A0.8 0.8 0 1 0 1490.6 278.9Z"/><path d="M1438.8 316.9A0.8 0.8 0 1 0 1440.5 316.9A0.8 0.8 0 1 0 1438.8 316.9Z"/><path d="M1393.5 369.9A0.8 1.6 -30 1 0 1394.9 369.1A0.8 1.6 -30 1 0 1393.5 369.9Z"/><path d="M1380.6 376.6A0.8 0.8 0 1 0 1382.2 376.6A0.8 0.8 0 1 0 1380.6 376.6Z"/><path d="M1438 388.8A1 0.6 0 1 0 1440.1 388.8A1 0.6 0 1 0 1438 388.8Z"/><path d="M1484 232.6A0.8 0.8 0 1 0 1485.7 232.6A0.8 0.8 0 1 0 1484 232.6Z"/><path d="M1387.9 248.9A1.2 1 0 1 0 1390.4 248.9A1.2 1 0 1 0 1387.9 248.9Z"/><path d="M1326.4 282.9A0.6 0.8 0 1 0 1327.7 282.9A0.6 0.8 0 1 0 1326.4 282.9Z"/><path d="M1343.7 301.9A0.6 0.6 0 1 0 1345 301.9A0.6 0.6 0 1 0 1343.7 301.9Z"/><path d="M1303 308.4A0.6 0.6 0 1 0 1304.2 308.4A0.6 0.6 0 1 0 1303 308.4Z"/><path d="M1230.3 310.8A0.6 0.6 0 1 0 1231.5 310.8A0.6 0.6 0 1 0 1230.3 310.8Z"/><path d="M1476.5 322.2A1.2 0.8 0 1 0 1479 322.2A1.2 0.8 0 1 0 1476.5 322.2Z"/></g>
<g fill="#000"><path d="M1138 51.3A1.4 2.4 -20 1 0 1140.7 50.3A1.4 2.4 -20 1 0 1138 51.3Z"/><path d="M1179.6 12.3A1.6 2.9 30 1 0 1182.5 13.9A1.6 2.9 30 1 0 1179.6 12.3Z"/><path d="M1247 163.8A5.7 5.1 0 1 0 1258.4 163.8A5.7 5.1 0 1 0 1247 163.8Z"/><path d="M1266.1 147.5A3.1 2 -20 1 0 1271.9 145.5A3.1 2 -20 1 0 1266.1 147.5Z"/><path d="M1271.5 141.4A1.6 1.4 0 1 0 1274.7 141.4A1.6 1.4 0 1 0 1271.5 141.4Z"/><path d="M1237.7 224.9A0.8 2.4 0 1 0 1239.3 224.9A0.8 2.4 0 1 0 1237.7 224.9Z"/><path d="M1206.5 262A1.6 1.6 0 1 0 1209.8 262A1.6 1.6 0 1 0 1206.5 262Z"/><path d="M1104.7 317.5A3.1 1 -10 1 0 1110.8 316.4A3.1 1 -10 1 0 1104.7 317.5Z"/><path d="M1146.8 376A1.6 1.2 0 1 0 1150.1 376A1.6 1.2 0 1 0 1146.8 376Z"/><path d="M1155.6 371.9A2 1.2 0 1 0 1159.7 371.9A2 1.2 0 1 0 1155.6 371.9Z"/><path d="M1166.4 370.5A1.4 1.4 0 1 0 1169.2 370.5A1.4 1.4 0 1 0 1166.4 370.5Z"/><path d="M1177.2 360.3A0.8 2 0 1 0 1178.8 360.3A0.8 2 0 1 0 1177.2 360.3Z"/><path d="M984.4 412.2A0.8 1.6 0 1 0 986 412.2A0.8 1.6 0 1 0 984.4 412.2Z"/><path d="M993.8 427.4A5.1 1.6 -10 1 0 1003.8 425.6A5.1 1.6 -10 1 0 993.8 427.4Z"/><path d="M1210.4 226.5C1212.7 224.9 1217.2 224.8 1221.2 225.9C1225.2 227 1227.3 229.2 1230.3 232C1233.4 234.9 1234.8 236.9 1236.4 240.2C1238.1 243.4 1239.9 246.3 1238.5 248.3C1237 250.3 1232.8 250.8 1229.3 250.3C1225.8 249.9 1224.2 248.3 1221.2 246.3C1218.1 244.2 1216.4 242.6 1214 240.2C1211.7 237.7 1210.3 236.8 1209.6 234.1C1208.8 231.3 1208 228.1 1210.4 226.5Z"/><path d="M1498.5 335.9A1.6 1.2 0 1 0 1501.8 335.9A1.6 1.2 0 1 0 1498.5 335.9Z"/><path d="M1462.9 365.4A1.2 1.2 0 1 0 1465.3 365.4A1.2 1.2 0 1 0 1462.9 365.4Z"/><path d="M1273.9 416.7A1.6 1.8 0 1 0 1277.2 416.7A1.6 1.8 0 1 0 1273.9 416.7Z"/><path d="M1213.7 387.6A0.8 3.1 15 1 0 1215.2 388A0.8 3.1 15 1 0 1213.7 387.6Z"/></g>
</g>
<rect x="897.3" y="7.3" width="628.3" height="448.2" fill="none" stroke="#1a1a1a" stroke-width="2"/>
<rect x="101.8" y="438.8" width="91.7" height="15.7" fill="#f00"/>
<rect x="900.8" y="438.8" width="91.8" height="15.7" fill="#f00"/>
<text transform="translate(114.57 498.50) scale(1.1412 1)" font-family="'Liberation Serif',serif" font-size="35.79" font-weight="bold">500</text>
<text transform="translate(189.20 498.50) scale(1.2334 1)" font-family="'Liberation Serif',serif" font-size="34.50" font-style="italic">μ</text>
<text transform="translate(210.07 498.50) scale(1.2123 1)" font-family="'Liberation Serif',serif" font-size="34.04" font-weight="bold">m</text>
<text transform="translate(913.27 498.50) scale(1.1412 1)" font-family="'Liberation Serif',serif" font-size="35.79" font-weight="bold">500</text>
<text transform="translate(987.90 498.50) scale(1.2334 1)" font-family="'Liberation Serif',serif" font-size="34.50" font-style="italic">μ</text>
<text transform="translate(1008.77 498.50) scale(1.2123 1)" font-family="'Liberation Serif',serif" font-size="34.04" font-weight="bold">m</text>
<text transform="translate(14.75 38.00) scale(0.9954 1)" font-family="'Liberation Sans',sans-serif" font-size="34.04" font-weight="bold" stroke="#000" stroke-width="0.9">A</text>
<text transform="translate(841.55 38.00) scale(0.9904 1)" font-family="'Liberation Sans',sans-serif" font-size="33.60" font-weight="bold" stroke="#000" stroke-width="0.9">B</text>
<text transform="translate(13.67 553.30) scale(1.0362 1)" font-family="'Liberation Sans',sans-serif" font-size="31.97" font-weight="bold" stroke="#000" stroke-width="0.9">C</text>
<text transform="translate(840.17 553.30) scale(1.0297 1)" font-family="'Liberation Sans',sans-serif" font-size="33.45" font-weight="bold" stroke="#000" stroke-width="0.9">D</text>
<clipPath id="cc"><rect x="98.1" y="585.2" width="628.7" height="448.6"/></clipPath>
<g clip-path="url(#cc)">
<path d="M114.2 1033.8H132.9V1001.8H114.2ZM132.8 1033.8H151.6V1001.8H132.8ZM151.5 1033.8H170.2V1001.8H151.5ZM188.8 1033.8H207.5V841.5H188.8ZM207.4 1033.8H226.2V649.3H207.4ZM226.1 1033.8H244.8V681.3H226.1ZM244.8 1033.8H263.4V841.5H244.8ZM263.4 1033.8H282.1V649.3H263.4ZM282.1 1033.8H300.8V873.6H282.1ZM300.7 1033.8H319.4V905.6H300.7ZM319.3 1033.8H338V969.7H319.3ZM338 1033.8H356.7V969.7H338ZM356.6 1033.8H375.3V969.7H356.6ZM375.3 1033.8H394V1001.8H375.3ZM412.6 1033.8H431.3V1001.8H412.6ZM449.9 1033.8H468.6V969.7H449.9ZM468.5 1033.8H487.2V1001.8H468.5Z" fill="rgb(255,0,0)" fill-opacity="0.3"/>
<path d="M307.2 1033.8H368V901.9H307.2ZM367.9 1033.8H428.8V671H367.9ZM428.7 1033.8H489.5V671H428.7ZM489.4 1033.8H550.2V769.9H489.4ZM550.2 1033.8H611V868.9H550.2ZM611 1033.8H671.8V835.9H611ZM671.7 1033.8H732.5V934.8H671.7Z" fill="rgb(0,0,255)" fill-opacity="0.6"/>
</g>
<path d="M253.6 1033.8V585.2" stroke="#f00" stroke-width="4" stroke-dasharray="15.9 15.95" fill="none"/>
<path d="M554.2 1033.8V585.2" stroke="#00f" stroke-width="4" stroke-dasharray="15.9 15.95" fill="none"/>
<rect x="98.1" y="585.2" width="628.7" height="448.6" fill="none" stroke="#262626" stroke-width="2"/>
<path d="M98.1 1033.8v-6M98.1 585.2v6M307.7 1033.8v-6M307.7 585.2v6M517.2 1033.8v-6M517.2 585.2v6M726.8 1033.8v-6M726.8 585.2v6M98.1 1033.8h6M726.8 1033.8h-6M98.1 921.6h6M726.8 921.6h-6M98.1 809.5h6M726.8 809.5h-6M98.1 697.4h6M726.8 697.4h-6M98.1 585.2h6M726.8 585.2h-6" stroke="#262626" stroke-width="2" fill="none"/>
<text x="85.3" y="1048.3" text-anchor="end" font-family="'Liberation Sans','DejaVu Sans',sans-serif" font-size="40" fill="#262626">0</text>
<text x="85.3" y="936.1" text-anchor="end" font-family="'Liberation Sans','DejaVu Sans',sans-serif" font-size="40" fill="#262626">0.05</text>
<text x="85.3" y="824" text-anchor="end" font-family="'Liberation Sans','DejaVu Sans',sans-serif" font-size="40" fill="#262626">0.1</text>
<text x="85.3" y="711.9" text-anchor="end" font-family="'Liberation Sans','DejaVu Sans',sans-serif" font-size="40" fill="#262626">0.15</text>
<text x="85.3" y="599.7" text-anchor="end" font-family="'Liberation Sans','DejaVu Sans',sans-serif" font-size="40" fill="#262626">0.2</text>
<text x="98.1" y="1084.3" text-anchor="middle" font-family="'Liberation Sans','DejaVu Sans',sans-serif" font-size="40" fill="#262626">0</text>
<text x="307.7" y="1084.3" text-anchor="middle" font-family="'Liberation Sans','DejaVu Sans',sans-serif" font-size="40" fill="#262626">100</text>
<text x="517.2" y="1084.3" text-anchor="middle" font-family="'Liberation Sans','DejaVu Sans',sans-serif" font-size="40" fill="#262626">200</text>
<text x="726.8" y="1084.3" text-anchor="middle" font-family="'Liberation Sans','DejaVu Sans',sans-serif" font-size="40" fill="#262626">300</text>
<text transform="translate(174.16 563.00) scale(1.0741 1)" font-family="'Liberation Serif',serif" font-size="43.60">luminal</text>
<text transform="translate(330.62 563.00) scale(1.1020 1)" font-family="'Liberation Serif',serif" font-size="43.60">diameter</text>
<text transform="translate(514.66 563.00) scale(1.0235 1)" font-family="'Liberation Serif',serif" font-size="43.60" font-style="italic">a</text>
<text transform="translate(541.58 546.90) scale(0.9723 1)" font-family="'Liberation Serif',serif" font-size="31.30" font-style="italic">L</text>
<text transform="translate(560.53 563.00) scale(1.0245 1)" font-family="'Liberation Serif',serif" font-size="43.60">,</text>
<text transform="translate(588.20 563.00) scale(1.1907 1)" font-family="'Liberation Serif',serif" font-size="43.60" font-style="italic">μ</text>
<text transform="translate(613.37 563.00) scale(1.0626 1)" font-family="'Liberation Serif',serif" font-size="43.60">m</text>
<rect x="499.8" y="596.9" width="298.9" height="94.1" fill="#fff" stroke="#262626" stroke-width="2"/>
<path d="M507.9 622.2h15.6m15.8 0h16.1" stroke="#f00" stroke-width="3.8" fill="none"/>
<path d="M507.9 666.6h15.6m15.8 0h16.1" stroke="#00f" stroke-width="3.8" fill="none"/>
<text transform="translate(573.73 633.09) scale(0.7329 1)" font-family="'DejaVu Math TeX Gyre','DejaVu Serif',serif" font-size="42.13">⟨</text>
<text transform="translate(587.18 630.10) scale(1.1004 1)" font-family="'Liberation Serif',serif" font-size="33.83" font-style="italic">a</text>
<text transform="translate(608.83 616.70) scale(1.0939 1)" font-family="'Liberation Serif',serif" font-size="23.97" font-style="italic">L</text>
<text transform="translate(607.22 640.10) scale(1.3715 1)" font-family="'Liberation Serif',serif" font-size="23.25" font-style="italic">HIST</text>
<text transform="translate(678.76 633.09) scale(0.7412 1)" font-family="'DejaVu Math TeX Gyre','DejaVu Serif',serif" font-size="42.13">⟩</text>
<text transform="translate(691.57 630.10) scale(1.4439 1)" font-family="'Liberation Serif',serif" font-size="35.00">=</text>
<text transform="translate(719.18 630.10) scale(1.0662 1)" font-family="'Liberation Serif',serif" font-size="34.87">74.2</text>
<text transform="translate(573.73 678.19) scale(0.7329 1)" font-family="'DejaVu Math TeX Gyre','DejaVu Serif',serif" font-size="42.13">⟨</text>
<text transform="translate(587.18 675.20) scale(1.1004 1)" font-family="'Liberation Serif',serif" font-size="33.83" font-style="italic">a</text>
<text transform="translate(608.83 661.80) scale(1.0939 1)" font-family="'Liberation Serif',serif" font-size="23.97" font-style="italic">L</text>
<text transform="translate(607.29 685.20) scale(1.3318 1)" font-family="'Liberation Serif',serif" font-size="23.51" font-style="italic">MRI</text>
<text transform="translate(666.26 678.19) scale(0.7412 1)" font-family="'DejaVu Math TeX Gyre','DejaVu Serif',serif" font-size="42.13">⟩</text>
<text transform="translate(679.47 675.20) scale(1.4439 1)" font-family="'Liberation Serif',serif" font-size="35.00">=</text>
<text transform="translate(707.96 675.20) scale(1.0419 1)" font-family="'Liberation Serif',serif" font-size="34.87">217.7</text>
<clipPath id="cd"><rect x="897" y="585.2" width="627.8" height="448.6"/></clipPath>
<g clip-path="url(#cd)">
<path d="M1506.8 1033.8H1524.8V880H1506.8ZM1488.8 1033.8H1506.8V905.6H1488.8ZM1470.7 1033.8H1488.8V598H1470.7ZM1452.7 1033.8H1470.8V803.1H1452.7ZM1434.7 1033.8H1452.8V854.4H1434.7ZM1416.7 1033.8H1434.8V880H1416.7ZM1398.7 1033.8H1416.7V828.7H1398.7ZM1380.6 1033.8H1398.7V956.9H1380.6ZM1362.6 1033.8H1380.7V956.9H1362.6ZM1344.6 1033.8H1362.7V1008.2H1344.6ZM1290.5 1033.8H1308.6V1008.2H1290.5ZM1272.5 1033.8H1290.6V1008.2H1272.5ZM1218.5 1033.8H1236.5V1008.2H1218.5ZM1182.4 1033.8H1200.5V1008.2H1182.4ZM1074.3 1033.8H1092.4V1008.2H1074.3Z" fill="rgb(255,0,0)" fill-opacity="0.3"/>
<path d="M1505.4 1033.8H1524.8V788.6H1505.4ZM1486 1033.8H1505.4V764.6H1486ZM1466.6 1033.8H1486V663H1466.6ZM1447.2 1033.8H1466.6V686.9H1447.2ZM1427.8 1033.8H1447.2V848.4H1427.8ZM1408.4 1033.8H1427.8V926.1H1408.4ZM1389 1033.8H1408.4V985.9H1389ZM1369.6 1033.8H1389V980H1369.6ZM1350.2 1033.8H1369.6V985.9H1350.2ZM1330.8 1033.8H1350.2V1009.9H1330.8ZM1311.4 1033.8H1330.8V1021.8H1311.4ZM1292 1033.8H1311.5V1009.9H1292ZM1272.6 1033.8H1292V1027.8H1272.6ZM1253.2 1033.8H1272.6V1015.9H1253.2ZM1233.8 1033.8H1253.2V1027.8H1233.8ZM1214.4 1033.8H1233.8V1015.9H1214.4ZM1195 1033.8H1214.5V1027.8H1195ZM1175.6 1033.8H1195V1027.8H1175.6ZM1020.4 1033.8H1039.8V1027.8H1020.4ZM1001 1033.8H1020.4V1027.8H1001Z" fill="rgb(0,0,255)" fill-opacity="0.3"/>
</g>
<path d="M1461.5 1033.8V635.7" stroke="#f00" stroke-width="4" stroke-dasharray="15.9 15.95" fill="none"/>
<path d="M1466.9 1033.8V635.7" stroke="#00f" stroke-width="4" stroke-dasharray="15.9 15.95" fill="none"/>
<rect x="897" y="585.2" width="627.8" height="448.6" fill="none" stroke="#262626" stroke-width="2"/>
<path d="M897 1033.8v-6M897 585.2v6M1106.3 1033.8v-6M1106.3 585.2v6M1315.5 1033.8v-6M1315.5 585.2v6M1524.8 1033.8v-6M1524.8 585.2v6M897 1033.8h6M1524.8 1033.8h-6M897 944.1h6M1524.8 944.1h-6M897 854.4h6M1524.8 854.4h-6M897 764.6h6M1524.8 764.6h-6M897 674.9h6M1524.8 674.9h-6M897 585.2h6M1524.8 585.2h-6" stroke="#262626" stroke-width="2" fill="none"/>
<text x="884.2" y="1048.3" text-anchor="end" font-family="'Liberation Sans','DejaVu Sans',sans-serif" font-size="40" fill="#262626">0</text>
<text x="884.2" y="958.6" text-anchor="end" font-family="'Liberation Sans','DejaVu Sans',sans-serif" font-size="40" fill="#262626">0.05</text>
<text x="884.2" y="868.9" text-anchor="end" font-family="'Liberation Sans','DejaVu Sans',sans-serif" font-size="40" fill="#262626">0.1</text>
<text x="884.2" y="779.1" text-anchor="end" font-family="'Liberation Sans','DejaVu Sans',sans-serif" font-size="40" fill="#262626">0.15</text>
<text x="884.2" y="689.4" text-anchor="end" font-family="'Liberation Sans','DejaVu Sans',sans-serif" font-size="40" fill="#262626">0.2</text>
<text x="884.2" y="599.7" text-anchor="end" font-family="'Liberation Sans','DejaVu Sans',sans-serif" font-size="40" fill="#262626">0.25</text>
<text x="897" y="1084.3" text-anchor="middle" font-family="'Liberation Sans','DejaVu Sans',sans-serif" font-size="40" fill="#262626">0.4</text>
<text x="1106.3" y="1084.3" text-anchor="middle" font-family="'Liberation Sans','DejaVu Sans',sans-serif" font-size="40" fill="#262626">0.6</text>
<text x="1315.5" y="1084.3" text-anchor="middle" font-family="'Liberation Sans','DejaVu Sans',sans-serif" font-size="40" fill="#262626">0.8</text>
<text x="1524.8" y="1084.3" text-anchor="middle" font-family="'Liberation Sans','DejaVu Sans',sans-serif" font-size="40" fill="#262626">1</text>
<text transform="translate(1076.72 563.00) scale(1.0284 1)" font-family="'Liberation Serif',serif" font-size="43.60">cell</text>
<text transform="translate(1155.59 563.00) scale(1.0806 1)" font-family="'Liberation Serif',serif" font-size="43.60">fraction</text>
<text transform="translate(1319.24 563.51) scale(1.3368 1)" font-family="'Liberation Serif',serif" font-size="41.85" font-style="italic">f</text>
<rect x="908.2" y="597.5" width="328" height="95.4" fill="#fff" stroke="#262626" stroke-width="2"/>
<path d="M916.8 622.9h15m16.5 0h15.5" stroke="#f00" stroke-width="3.8" fill="none"/>
<path d="M916.8 666.4h15m16.5 0h15.5" stroke="#00f" stroke-width="3.8" fill="none"/>
<text transform="translate(983.10 633.64) scale(0.6887 1)" font-family="'DejaVu Math TeX Gyre','DejaVu Serif',serif" font-size="41.78">⟨</text>
<text transform="translate(996.67 631.35) scale(1.1993 1)" font-family="'Liberation Serif',serif" font-size="35.53" font-style="italic">f</text>
<text transform="translate(1015.52 636.20) scale(1.2156 1)" font-family="'Liberation Serif',serif" font-size="25.96" font-style="italic">HIST</text>
<text transform="translate(1086.02 633.64) scale(0.7223 1)" font-family="'DejaVu Math TeX Gyre','DejaVu Serif',serif" font-size="41.78">⟩</text>
<text transform="translate(1099.47 632.00) scale(1.5054 1)" font-family="'Liberation Serif',serif" font-size="35.00">=</text>
<text transform="translate(1127.94 632.00) scale(1.0078 1)" font-family="'Liberation Serif',serif" font-size="35.94">0.9403</text>
<text transform="translate(983.10 676.74) scale(0.6887 1)" font-family="'DejaVu Math TeX Gyre','DejaVu Serif',serif" font-size="41.78">⟨</text>
<text transform="translate(996.67 674.45) scale(1.1993 1)" font-family="'Liberation Serif',serif" font-size="35.53" font-style="italic">f</text>
<text transform="translate(1015.58 679.30) scale(1.1508 1)" font-family="'Liberation Serif',serif" font-size="26.26" font-style="italic">MRI</text>
<text transform="translate(1074.32 676.74) scale(0.7223 1)" font-family="'DejaVu Math TeX Gyre','DejaVu Serif',serif" font-size="41.78">⟩</text>
<text transform="translate(1087.77 675.10) scale(1.5054 1)" font-family="'Liberation Serif',serif" font-size="35.00">=</text>
<text transform="translate(1116.14 675.10) scale(1.0078 1)" font-family="'Liberation Serif',serif" font-size="35.94">0.9454</text>
</svg>
</body></html>
